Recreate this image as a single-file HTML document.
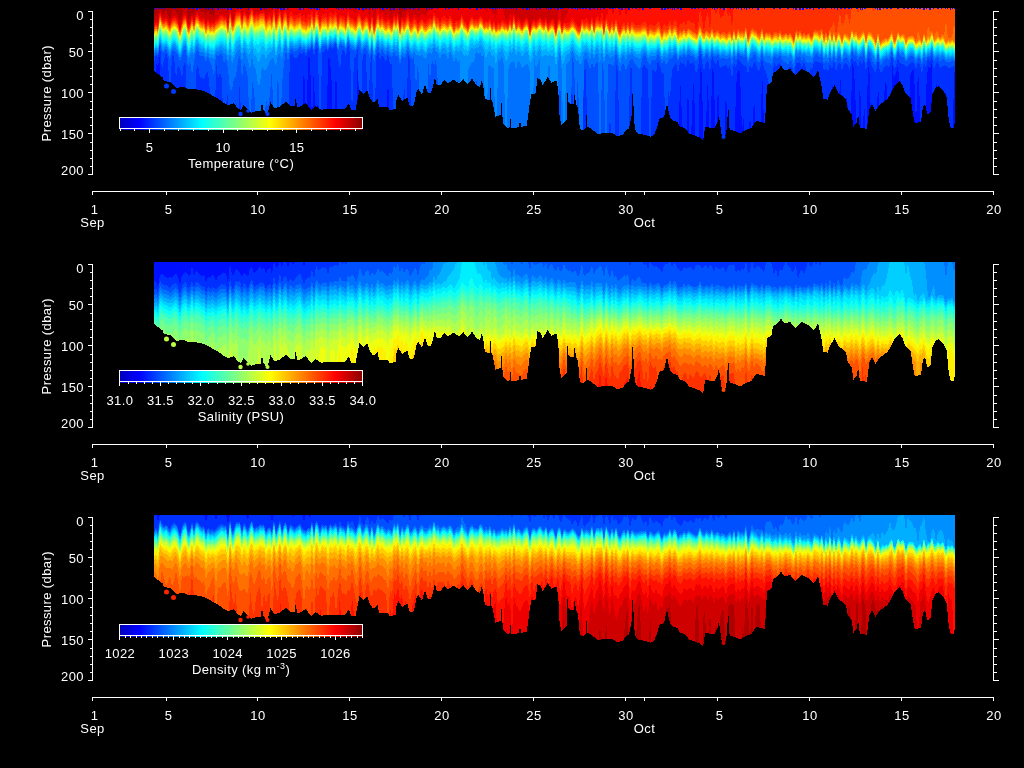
<!DOCTYPE html><html><head><meta charset="utf-8"><style>html,body{margin:0;padding:0;background:#000;width:1024px;height:768px;overflow:hidden}svg{display:block;will-change:transform}text{font-family:"Liberation Sans",sans-serif;fill:#fff;font-size:13px;letter-spacing:0.4px}</style></head><body>
<svg width="1024" height="768" viewBox="0 0 1024 768" shape-rendering="crispEdges">
<rect width="1024" height="768" fill="#000"/>
<defs><linearGradient id="jet" x1="0" x2="1" y1="0" y2="0"><stop offset="0" stop-color="#0000be"/><stop offset="0.08" stop-color="#0000ff"/><stop offset="0.34" stop-color="#00ffff"/><stop offset="0.62" stop-color="#ffff00"/><stop offset="0.89" stop-color="#ff0000"/><stop offset="1" stop-color="#8c0000"/></linearGradient>
</defs>
<defs><path id="mask" fill="#000" fill-rule="evenodd" d="M148 -2H962V202H148Z M153.5 8 L153.5 69.8 L155 71.7 L158.8 74.6 L162.7 77.6 L163.7 81 L170 82 L177.3 88.3 L182.2 86.4 L189 89.3 L195.9 89.3 L200.8 90.3 L204.7 91.3 L208.6 93.2 L213.5 96.1 L218.4 99 L224.2 103 L228 105 L234 103 L237 107.9 L240.8 109.8 L243.8 105 L247.7 108.8 L250.9 113 L256.7 111 L260.5 111 L262 102 L263.5 110 L267.5 115 L270.4 102 L274.3 108 L279 107 L286 102 L290.9 106 L294.5 106 L295.8 97.5 L297 107 L299.7 107 L305.5 103 L311.4 110 L315.3 106 L321.2 109.7 L329 109 L338.8 108.7 L344 109.4 L348.8 104 L351.7 110 L355.6 110 L357.6 100 L359.5 90.4 L363.4 94.3 L367.3 90.4 L369.3 97.2 L373.2 102.6 L377.6 99.2 L379 107 L386.9 106.5 L389.8 110 L395.7 109 L396.6 99.2 L398.6 95.3 L402.5 101 L407.4 97.2 L409.3 105 L412.3 106.5 L414.2 104 L416.2 93.3 L418.1 88.4 L422 94.3 L425 84.5 L427.9 93.3 L430.8 93.3 L432.8 87.5 L434.7 77.7 L437 85.5 L440.9 84.5 L444.8 79.6 L447.7 83.6 L453.6 79.6 L459.4 83.6 L463.3 78.7 L467.2 84.5 L472.1 78.7 L476 84.5 L479.9 87.5 L481.9 79.6 L483.8 89.4 L484.8 99.2 L488.7 99.7 L490 99.7 L490.7 83.6 L491.5 99.7 L492.6 102 L495.5 116.8 L498.5 115.8 L500.5 115 L501.4 101 L502.3 115 L503.4 123.6 L507.3 127.5 L509.5 127.5 L510.2 113.8 L511 127.5 L513.1 127.5 L517 127.5 L519.2 127 L520 116.8 L520.8 126.5 L522.9 126.5 L526.8 125.5 L529.7 104 L531.2 94.3 L535.9 93.4 L537.3 77.8 L540.7 79.8 L542.7 85.6 L547.6 76.8 L551.5 82.7 L556.4 80.7 L558.3 89.5 L559.3 114 L561.3 124.7 L566.1 120.8 L566.6 120 L567.1 87.6 L568 100 L569 103.2 L572 104.2 L574.2 104 L574.9 84.6 L575.7 104 L577.9 107.1 L579.8 128.6 L582.7 130.5 L585.8 128 L586.6 113 L587.4 127 L589.6 127.6 L593.5 130.5 L598.4 134.5 L604.2 132.5 L613 133.5 L617.9 136.4 L622.8 134.5 L627.7 128.6 L628.9 128.8 L631.8 114.2 L632.8 86 L633.8 114 L634.8 128.8 L637.7 133.7 L644.5 134.7 L650.4 136.6 L654.3 134.7 L657.2 126.9 L659.2 119 L664.1 117.1 L667 103.4 L669.9 117.1 L673.8 121 L677.7 122 L679.7 126.9 L684.6 127.9 L689.5 133.7 L695.3 135.7 L700.2 137.6 L703.1 140.5 L705.1 126.9 L710.9 127.9 L714.8 127.9 L718.3 120 L718.8 112 L719.5 120 L721.7 135.7 L725 137 L727 127.7 L728.2 102 L729.2 127 L730.6 130 L735.2 131.2 L740 133.5 L745.8 130 L751.7 127.7 L756.3 120.6 L764.5 123 L765.7 111.3 L766.9 85.5 L771.6 82 L772.8 73.8 L778.6 69 L781 65.5 L784.5 70.2 L790.3 69 L795 75 L802 69 L809.1 72.6 L813.8 77.3 L818.1 70.4 L821.2 84 L823.3 98.5 L827.5 99.6 L829.6 93.3 L834.8 85 L837.9 92.3 L846.2 99.6 L847.3 108 L851.5 114.2 L853.5 126.7 L856.7 122.5 L858.2 114 L859.8 127.7 L867 128.8 L869.2 110 L871.8 103.8 L875.4 111 L879.6 104.8 L887.9 98.5 L891 93.3 L895.2 85 L899.8 80.8 L903 86 L905.4 93.3 L910.6 98.5 L912.7 112 L914.8 123.5 L921 121.5 L923.1 105.8 L925.2 104.8 L927.3 114.2 L930.4 113 L932.5 94.4 L935.6 88 L938.8 86 L942.9 90.2 L947 97.5 L948 114 L950.2 126.7 L953.3 128.8 L955 122.5 L955 8 Z"/></defs>
<g transform="translate(0,0)" shape-rendering="crispEdges">
<rect x="150" y="0" width="810" height="200" fill="#0000ef"/>
<path fill="#0010ff" d="M151 0V180l3 0l2 0l2 0l2 0l2 0l2 0l2 0l2 0l2 0l2 0l2 0l2 0l2 0l2 0l2 0l2 0l2 0l2 0l2 0l2 0l2 0l2 0l2 0l2 0l2 0l2 0l2 0l2 0l2 0l2 0l2 0l2 0l2 0l2 0l2 0l2 0l2 0l2 0l2 0l2 0l2 0l2 0l2 0l2 0l2 0l2 0l2 0l2 0l2 0l2 0l2 0l2 0l2 0l2 0l2 0l2 0l2 0l2 0l2 0l2 0l2 0l2 0l2 0l2 0l2 0l2 0l2 0l2 0l2 0l2 0l2 0l2 0l2 0l2 0l2 0l2 -64l2 64l2 0l2 0l2 0l2 0l2 0l2 0l2 0l2 0l2 0l2 0l2 0l2 0l2 0l2 0l2 0l2 0l2 0l2 0l2 0l2 0l2 0l2 0l2 0l2 0l2 0l2 0l2 0l2 0l2 0l2 0l2 0l2 0l2 0l2 0l2 0l2 0l2 0l2 0l2 0l2 0l2 0l2 0l2 0l2 0l2 0l2 0l2 0l2 0l2 0l2 0l2 0l2 0l2 0l2 0l2 0l2 0l2 0l2 0l2 0l2 0l2 0l2 0l2 0l2 0l2 0l2 0l2 0l2 0l2 0l2 0l2 0l2 0l2 0l2 0l2 0l2 0l2 0l2 0l2 0l2 0l2 0l2 0l2 0l2 0l2 0l2 0l2 0l2 0l2 0l2 0l2 0l2 0l2 0l2 0l2 0l2 0l2 0l2 0l2 0l2 0l2 0l2 0l2 0l2 0l2 0l2 0l2 0l2 0l2 0l2 0l2 0l2 0l2 0l2 0l2 0l2 0l2 0l2 0l2 0l2 0l2 0l2 0l2 0l2 0l2 0l2 0l2 0l2 0l2 0l2 0l2 0l2 0l2 0l2 0l2 0l2 0l2 0l2 0l2 0l2 0l2 0l2 0l2 0l2 0l2 0l2 0l2 0l2 0l2 0l2 0l2 0l2 0l2 0l2 0l2 0l2 0l2 0l2 0l2 0l2 0l2 0l2 0l2 0l2 0l2 0l2 0l2 0l2 0l2 0l2 0l2 0l2 0l2 0l2 0l2 0l2 0l2 0l2 0l2 0l2 0l2 0l2 0l2 0l2 0l2 0l2 0l2 0l2 0l2 0l2 0l2 0l2 0l2 0l2 0l2 0l2 0l2 0l2 0l2 0l2 0l2 0l2 0l2 0l2 0l2 0l2 0l2 0l2 0l2 0l2 0l2 0l2 0l2 0l2 0l2 0l2 0l2 0l2 0l2 0l2 0l2 0l2 0l2 0l2 0l2 0l2 0l2 0l2 0l2 0l2 0l2 0l2 0l2 0l2 0l2 0l2 0l2 0l2 0l2 0l2 0l2 0l2 0l2 0l2 0l2 0l2 0l2 0l2 0l2 0l2 0l2 0l2 0l2 0l2 0l2 0l2 0l2 0l2 0l2 0l2 0l2 0l2 0l2 0l2 0l2 0l2 0l2 0l2 0l2 0l2 0l2 0l2 0l2 0l2 0l2 0l2 0l2 -32l2 32l2 0l2 0l2 0l2 0l2 0l2 0l2 0l2 0l2 0l2 0l2 0l2 0l2 0l2 0l2 -32l2 32l2 0l2 0l2 0l2 0l2 0l2 0l2 0l2 0l2 0l2 0l2 0l2 -56l2 56l2 0l2 0l2 0l2 -32l2 32l2 0l2 0l2 0l2 0l2 0l2 0l2 0l2 -20l2 20l2 0l2 0l2 0l2 0H959 V0 Z"/>
<path fill="#0030ff" d="M151 0V180l3 0l2 -116l2 2l2 -12l2 126l2 0l2 -81l2 81l2 0l2 -45l2 45l2 0l2 0l2 0l2 0l2 0l2 0l2 0l2 0l2 0l2 0l2 0l2 0l2 0l2 0l2 0l2 0l2 0l2 0l2 0l2 0l2 -70l2 70l2 0l2 0l2 0l2 0l2 0l2 0l2 0l2 0l2 0l2 0l2 0l2 0l2 0l2 0l2 0l2 0l2 0l2 0l2 0l2 0l2 0l2 0l2 0l2 0l2 0l2 0l2 0l2 0l2 0l2 0l2 0l2 0l2 0l2 0l2 0l2 0l2 -92l2 92l2 0l2 0l2 0l2 -42l2 -83l2 93l2 -91l2 1l2 65l2 -61l2 118l2 -100l2 100l2 0l2 0l2 -12l2 -110l2 2l2 27l2 93l2 -131l2 131l2 0l2 -14l2 14l2 0l2 -56l2 56l2 0l2 0l2 -60l2 -66l2 126l2 0l2 -107l2 107l2 0l2 0l2 -92l2 92l2 0l2 0l2 0l2 0l2 0l2 0l2 -121l2 121l2 0l2 0l2 0l2 0l2 0l2 0l2 0l2 0l2 0l2 -1l2 1l2 0l2 0l2 0l2 0l2 0l2 0l2 0l2 0l2 0l2 0l2 0l2 0l2 0l2 0l2 0l2 0l2 0l2 0l2 0l2 0l2 0l2 0l2 0l2 0l2 0l2 0l2 0l2 0l2 0l2 0l2 0l2 0l2 0l2 0l2 0l2 0l2 0l2 0l2 0l2 0l2 0l2 0l2 0l2 0l2 0l2 0l2 0l2 0l2 0l2 0l2 0l2 0l2 0l2 0l2 0l2 0l2 0l2 0l2 0l2 0l2 0l2 0l2 0l2 0l2 0l2 0l2 0l2 0l2 0l2 0l2 0l2 0l2 0l2 0l2 0l2 0l2 0l2 0l2 0l2 0l2 0l2 0l2 0l2 0l2 0l2 0l2 0l2 0l2 0l2 0l2 0l2 0l2 0l2 0l2 0l2 0l2 0l2 0l2 0l2 0l2 0l2 0l2 0l2 0l2 0l2 0l2 0l2 0l2 0l2 0l2 0l2 0l2 0l2 0l2 0l2 0l2 0l2 0l2 0l2 0l2 0l2 0l2 -34l2 34l2 0l2 0l2 0l2 0l2 0l2 0l2 0l2 0l2 0l2 -105l2 42l2 37l2 26l2 -108l2 108l2 -72l2 -32l2 104l2 0l2 -114l2 8l2 106l2 -56l2 -52l2 108l2 -112l2 5l2 107l2 -110l2 98l2 12l2 -2l2 -102l2 104l2 0l2 0l2 -8l2 -86l2 -17l2 3l2 58l2 -14l2 64l2 0l2 -78l2 78l2 -96l2 82l2 14l2 0l2 -114l2 59l2 55l2 0l2 0l2 0l2 -110l2 83l2 -81l2 40l2 46l2 22l2 0l2 0l2 0l2 -23l2 23l2 0l2 -110l2 34l2 66l2 -101l2 99l2 12l2 -13l2 -1l2 -18l2 -76l2 38l2 -38l2 70l2 -20l2 58l2 0l2 0l2 -104l2 39l2 45l2 -1l2 -91l2 48l2 43l2 -65l2 15l2 71l2 -118l2 7l2 41l2 52l2 -95l2 113l2 -85l2 57l2 -88l2 12l2 104l2 0l2 -24l2 -78l2 55l2 47l2 -84l2 -19l2 33l2 67l2 -115l2 17l2 -6l2 -8l2 29l2 78l2 -14l2 -84l2 94l2 -91l2 -7l2 0l2 56l2 -58l2 37l2 75l2 0l2 -90l2 -24l2 3l2 -6l2 117l2 -110l2 56l2 54l2 0l2 -25l2 -83l2 108l2 -13l2 13l2 -108l2 2H959 V0 Z"/>
<path fill="#0050ff" d="M151 0V64l3 0l2 -10l2 4l2 -14l2 26l2 -10l2 -8l2 8l2 44l2 -50l2 3l2 21l2 -13l2 4l2 9l2 -16l2 4l2 114l2 -50l2 50l2 -24l2 -85l2 -7l2 14l2 -1l2 3l2 -7l2 -1l2 20l2 88l2 0l2 -120l2 19l2 -7l2 6l2 76l2 -48l2 -14l2 88l2 0l2 0l2 0l2 -61l2 -42l2 103l2 -68l2 14l2 54l2 0l2 0l2 0l2 0l2 0l2 0l2 0l2 0l2 0l2 0l2 0l2 -58l2 58l2 0l2 -18l2 18l2 0l2 0l2 -80l2 22l2 -66l2 -3l2 5l2 0l2 -2l2 -4l2 3l2 -4l2 6l2 -7l2 2l2 -6l2 10l2 -9l2 1l2 102l2 -98l2 0l2 -4l2 4l2 -6l2 3l2 -1l2 -5l2 15l2 12l2 -20l2 0l2 6l2 -12l2 9l2 63l2 -58l2 -2l2 -9l2 133l2 -118l2 -9l2 2l2 67l2 -56l2 -16l2 130l2 -122l2 -7l2 9l2 -5l2 3l2 4l2 -8l2 10l2 0l2 94l2 1l2 21l2 0l2 0l2 -113l2 84l2 -97l2 7l2 73l2 1l2 45l2 -115l2 115l2 0l2 0l2 0l2 0l2 0l2 0l2 0l2 0l2 0l2 0l2 0l2 0l2 0l2 0l2 0l2 0l2 0l2 0l2 0l2 0l2 0l2 0l2 0l2 0l2 0l2 0l2 0l2 0l2 0l2 0l2 0l2 0l2 0l2 0l2 0l2 0l2 0l2 0l2 0l2 0l2 0l2 0l2 0l2 0l2 0l2 0l2 0l2 0l2 0l2 0l2 0l2 0l2 0l2 0l2 0l2 0l2 0l2 0l2 0l2 0l2 0l2 0l2 0l2 0l2 0l2 0l2 0l2 0l2 0l2 0l2 0l2 0l2 0l2 0l2 0l2 -114l2 114l2 0l2 0l2 0l2 0l2 -110l2 -2l2 112l2 0l2 0l2 0l2 0l2 0l2 0l2 0l2 0l2 0l2 0l2 -76l2 76l2 0l2 -118l2 10l2 108l2 0l2 0l2 0l2 0l2 -112l2 0l2 96l2 16l2 0l2 0l2 -110l2 -6l2 4l2 2l2 110l2 -110l2 0l2 3l2 -13l2 6l2 8l2 -2l2 98l2 -80l2 8l2 -28l2 -4l2 -4l2 12l2 -12l2 2l2 -2l2 6l2 -10l2 6l2 -1l2 -1l2 12l2 -6l2 -16l2 9l2 10l2 -9l2 -2l2 12l2 -16l2 5l2 4l2 -7l2 10l2 -2l2 0l2 -2l2 5l2 -4l2 14l2 -17l2 6l2 -10l2 4l2 2l2 2l2 -2l2 10l2 -9l2 4l2 -7l2 2l2 7l2 -1l2 -12l2 10l2 4l2 8l2 11l2 -9l2 -20l2 4l2 -2l2 -2l2 6l2 2l2 30l2 -28l2 -6l2 3l2 8l2 -14l2 0l2 -1l2 6l2 -6l2 6l2 24l2 -24l2 2l2 -8l2 -1l2 1l2 2l2 -3l2 10l2 -3l2 4l2 -9l2 6l2 -9l2 12l2 -8l2 -2l2 9l2 -7l2 -1l2 3l2 4l2 -14l2 6l2 -1l2 7l2 -8l2 5l2 -7l2 14l2 -14l2 2l2 6l2 4l2 3l2 -14l2 13l2 0l2 -5l2 -2l2 2l2 -1l2 -12l2 14l2 -2l2 -8l2 5l2 1l2 0l2 3l2 -1l2 -3l2 -1l2 1l2 7l2 -8l2 3l2 9l2 -11l2 5l2 -10l2 4l2 -6l2 14l2 -7l2 -1l2 7l2 -3l2 0l2 -1l2 3l2 0l2 -1l2 -1l2 0H959 V0 Z"/>
<path fill="#0070ff" d="M151 0V58l3 0l2 -6l2 4l2 -14l2 10l2 0l2 -4l2 6l2 6l2 -10l2 0l2 3l2 2l2 7l2 -6l2 -6l2 0l2 18l2 -8l2 15l2 -13l2 -11l2 -1l2 6l2 0l2 0l2 6l2 -6l2 6l2 4l2 10l2 -21l2 2l2 -3l2 0l2 9l2 -5l2 10l2 22l2 0l2 -12l2 -2l2 -15l2 -7l2 25l2 -17l2 6l2 10l2 74l2 -71l2 9l2 29l2 61l2 0l2 -82l2 38l2 -38l2 10l2 -14l2 -26l2 81l2 -17l2 -68l2 78l2 -58l2 -21l2 -13l2 12l2 -12l2 -2l2 4l2 -1l2 -1l2 -4l2 5l2 -3l2 5l2 -5l2 2l2 -8l2 10l2 -10l2 2l2 12l2 -10l2 0l2 -2l2 6l2 -7l2 3l2 -2l2 -3l2 11l2 -8l2 2l2 0l2 5l2 -11l2 7l2 3l2 0l2 1l2 -7l2 4l2 6l2 -6l2 0l2 4l2 6l2 -13l2 19l2 -12l2 -7l2 9l2 -5l2 4l2 3l2 -6l2 6l2 2l2 -6l2 5l2 -3l2 12l2 -10l2 2l2 -2l2 -6l2 6l2 4l2 -4l2 31l2 -27l2 48l2 26l2 -36l2 82l2 -122l2 22l2 -21l2 7l2 -8l2 26l2 96l2 -60l2 8l2 -58l2 110l2 -111l2 105l2 6l2 -24l2 24l2 0l2 0l2 0l2 0l2 0l2 0l2 0l2 0l2 -112l2 50l2 62l2 0l2 -110l2 110l2 0l2 0l2 0l2 0l2 0l2 -27l2 27l2 0l2 0l2 0l2 0l2 0l2 0l2 0l2 0l2 0l2 0l2 0l2 0l2 0l2 0l2 0l2 0l2 -26l2 26l2 0l2 0l2 0l2 0l2 0l2 0l2 0l2 0l2 0l2 0l2 0l2 -120l2 120l2 0l2 0l2 0l2 0l2 -124l2 8l2 54l2 -48l2 110l2 0l2 -120l2 -2l2 5l2 7l2 -8l2 7l2 -7l2 1l2 117l2 -120l2 13l2 107l2 -116l2 0l2 1l2 1l2 -14l2 11l2 10l2 -9l2 0l2 7l2 -6l2 -5l2 -2l2 4l2 3l2 3l2 2l2 -11l2 -4l2 1l2 6l2 4l2 -6l2 0l2 0l2 -6l2 4l2 6l2 -4l2 5l2 -3l2 -4l2 1l2 -4l2 -1l2 8l2 -6l2 2l2 -4l2 4l2 -4l2 2l2 0l2 1l2 4l2 -3l2 -9l2 7l2 4l2 -6l2 2l2 4l2 -9l2 6l2 -1l2 -2l2 5l2 -1l2 0l2 1l2 0l2 -3l2 10l2 -12l2 7l2 -9l2 4l2 0l2 2l2 -4l2 11l2 -7l2 0l2 -4l2 2l2 6l2 0l2 -11l2 10l2 1l2 1l2 0l2 3l2 -10l2 2l2 0l2 -3l2 5l2 2l2 0l2 3l2 -5l2 2l2 8l2 -14l2 1l2 -2l2 7l2 -6l2 6l2 1l2 -1l2 2l2 -8l2 -2l2 2l2 2l2 -4l2 10l2 -4l2 4l2 -8l2 6l2 -8l2 10l2 -8l2 -2l2 10l2 -6l2 -2l2 3l2 4l2 -14l2 7l2 -2l2 6l2 -4l2 2l2 -6l2 14l2 -14l2 1l2 7l2 3l2 3l2 -14l2 13l2 -1l2 -4l2 -2l2 2l2 -2l2 -8l2 11l2 -2l2 -8l2 5l2 1l2 0l2 5l2 -3l2 -3l2 0l2 2l2 6l2 -6l2 0l2 8l2 -10l2 6l2 -7l2 3l2 -7l2 11l2 -4l2 -2l2 6l2 -3l2 0l2 3l2 0l2 0l2 -2l2 1l2 0H959 V0 Z"/>
<path fill="#008fff" d="M151 0V55l3 0l2 -6l2 4l2 -13l2 10l2 0l2 -4l2 4l2 6l2 -8l2 -1l2 2l2 3l2 7l2 -7l2 -6l2 0l2 13l2 -3l2 -4l2 4l2 -10l2 0l2 6l2 0l2 0l2 6l2 -6l2 6l2 -1l2 3l2 -9l2 2l2 -3l2 0l2 4l2 -2l2 10l2 -9l2 11l2 -5l2 -5l2 -4l2 -2l2 14l2 -12l2 4l2 6l2 10l2 -14l2 10l2 4l2 15l2 -1l2 -18l2 4l2 0l2 -4l2 -5l2 -3l2 2l2 6l2 -12l2 0l2 6l2 -10l2 -6l2 12l2 -10l2 0l2 3l2 -1l2 0l2 -4l2 4l2 -2l2 4l2 -4l2 2l2 -8l2 10l2 -10l2 2l2 10l2 -8l2 0l2 -2l2 6l2 -7l2 3l2 -2l2 -2l2 10l2 -8l2 2l2 0l2 5l2 -11l2 7l2 1l2 2l2 1l2 -7l2 0l2 8l2 -4l2 -2l2 3l2 7l2 -12l2 16l2 -10l2 -6l2 8l2 -4l2 3l2 3l2 -6l2 6l2 2l2 -6l2 4l2 -4l2 14l2 -10l2 2l2 -2l2 -7l2 7l2 3l2 -4l2 4l2 0l2 1l2 -2l2 4l2 2l2 -8l2 1l2 1l2 -8l2 6l2 0l2 8l2 -6l2 0l2 0l2 7l2 -11l2 6l2 7l2 -7l2 7l2 -4l2 121l2 0l2 -36l2 -74l2 -4l2 -4l2 0l2 -11l2 3l2 -2l2 5l2 -3l2 126l2 -114l2 -1l2 3l2 0l2 112l2 -122l2 4l2 -6l2 9l2 115l2 -109l2 -8l2 -1l2 -2l2 10l2 -9l2 1l2 7l2 -3l2 -2l2 0l2 8l2 108l2 -124l2 13l2 -7l2 -4l2 81l2 -74l2 75l2 -74l2 0l2 114l2 -119l2 97l2 -94l2 -14l2 24l2 106l2 -116l2 -2l2 -2l2 -10l2 4l2 7l2 -1l2 5l2 -3l2 -8l2 -3l2 3l2 6l2 -8l2 8l2 -7l2 1l2 10l2 -14l2 14l2 -10l2 0l2 4l2 -2l2 2l2 -10l2 8l2 8l2 -8l2 -1l2 6l2 -7l2 2l2 -4l2 4l2 1l2 1l2 2l2 -6l2 -2l2 0l2 6l2 -2l2 0l2 0l2 0l2 -6l2 4l2 6l2 -4l2 2l2 -2l2 -4l2 4l2 -4l2 -2l2 10l2 -6l2 1l2 -3l2 4l2 -6l2 2l2 2l2 0l2 4l2 -3l2 -9l2 7l2 4l2 -5l2 0l2 5l2 -9l2 6l2 0l2 -2l2 4l2 -2l2 1l2 1l2 0l2 -3l2 7l2 -10l2 8l2 -8l2 4l2 0l2 2l2 -8l2 14l2 -7l2 -3l2 0l2 0l2 5l2 1l2 -9l2 9l2 -3l2 1l2 0l2 4l2 -6l2 0l2 2l2 -4l2 4l2 0l2 0l2 2l2 -4l2 3l2 6l2 -13l2 5l2 -4l2 5l2 -3l2 3l2 0l2 0l2 3l2 -8l2 1l2 0l2 3l2 -5l2 10l2 -6l2 5l2 -9l2 10l2 -10l2 10l2 -8l2 0l2 9l2 -9l2 1l2 3l2 2l2 -11l2 7l2 -4l2 6l2 -2l2 -2l2 -3l2 13l2 -12l2 1l2 3l2 3l2 5l2 -12l2 12l2 -3l2 -1l2 -2l2 2l2 -4l2 -5l2 11l2 -3l2 -8l2 5l2 -2l2 2l2 6l2 -4l2 -2l2 0l2 2l2 4l2 -4l2 0l2 6l2 -10l2 6l2 -4l2 1l2 -7l2 10l2 -2l2 -2l2 4l2 -3l2 1l2 4l2 -2l2 1l2 -1l2 2l2 -1H959 V0 Z"/>
<path fill="#00afff" d="M151 0V52l3 0l2 -5l2 4l2 -13l2 8l2 1l2 -3l2 4l2 4l2 -7l2 -1l2 2l2 4l2 6l2 -7l2 -5l2 -1l2 13l2 -4l2 -5l2 7l2 -10l2 -1l2 5l2 1l2 -1l2 6l2 -6l2 6l2 0l2 2l2 -8l2 1l2 -3l2 0l2 3l2 -2l2 11l2 -12l2 12l2 -4l2 -6l2 -3l2 -2l2 13l2 -10l2 3l2 5l2 0l2 -7l2 9l2 -1l2 7l2 -2l2 -6l2 0l2 5l2 -5l2 -2l2 0l2 -6l2 12l2 -10l2 -4l2 11l2 -9l2 -5l2 11l2 -9l2 0l2 3l2 -1l2 0l2 -3l2 4l2 -2l2 4l2 -4l2 2l2 -8l2 10l2 -11l2 3l2 10l2 -8l2 0l2 -2l2 6l2 -7l2 3l2 -2l2 -2l2 10l2 -8l2 2l2 0l2 5l2 -11l2 7l2 1l2 2l2 1l2 -7l2 0l2 8l2 -4l2 -2l2 2l2 8l2 -12l2 15l2 -9l2 -7l2 8l2 -4l2 3l2 3l2 -5l2 4l2 3l2 -7l2 4l2 -4l2 14l2 -10l2 2l2 -2l2 -6l2 8l2 2l2 -4l2 2l2 2l2 -1l2 -3l2 4l2 2l2 -6l2 0l2 2l2 -8l2 6l2 -1l2 7l2 -6l2 0l2 1l2 5l2 -9l2 5l2 6l2 -6l2 2l2 -2l2 2l2 4l2 -1l2 1l2 -6l2 -3l2 3l2 -3l2 1l2 -3l2 1l2 4l2 9l2 -6l2 -3l2 6l2 -2l2 12l2 -15l2 2l2 -5l2 6l2 8l2 -4l2 -8l2 4l2 -8l2 11l2 -6l2 1l2 5l2 -3l2 -3l2 1l2 10l2 -1l2 -12l2 8l2 -5l2 -4l2 10l2 -3l2 0l2 1l2 -2l2 3l2 -4l2 15l2 -15l2 -6l2 17l2 -2l2 -7l2 -1l2 -1l2 -7l2 4l2 4l2 2l2 2l2 -6l2 -2l2 -2l2 2l2 4l2 -8l2 10l2 -8l2 0l2 7l2 -9l2 14l2 -13l2 4l2 3l2 -4l2 4l2 -10l2 10l2 5l2 -6l2 -2l2 5l2 -6l2 4l2 -6l2 4l2 2l2 0l2 0l2 -4l2 -1l2 1l2 5l2 -2l2 -1l2 1l2 -1l2 -4l2 3l2 7l2 -6l2 2l2 0l2 -6l2 5l2 -5l2 0l2 8l2 -5l2 1l2 -4l2 5l2 -5l2 2l2 1l2 1l2 3l2 -3l2 -8l2 6l2 4l2 -5l2 1l2 4l2 -8l2 6l2 -1l2 -2l2 5l2 -2l2 0l2 2l2 0l2 -4l2 8l2 -10l2 8l2 -8l2 4l2 0l2 1l2 -7l2 14l2 -7l2 -4l2 1l2 0l2 4l2 1l2 -8l2 9l2 -4l2 2l2 -1l2 4l2 -5l2 0l2 2l2 -4l2 4l2 0l2 -2l2 4l2 -4l2 3l2 5l2 -12l2 5l2 -4l2 5l2 -3l2 3l2 -2l2 2l2 3l2 -8l2 1l2 0l2 4l2 -6l2 10l2 -6l2 6l2 -10l2 10l2 -10l2 10l2 -8l2 0l2 9l2 -8l2 0l2 3l2 2l2 -11l2 7l2 -4l2 6l2 -2l2 -2l2 -3l2 13l2 -12l2 1l2 3l2 3l2 5l2 -12l2 12l2 -3l2 -1l2 -2l2 2l2 -4l2 -5l2 11l2 -3l2 -8l2 5l2 -1l2 1l2 7l2 -5l2 -2l2 0l2 2l2 4l2 -4l2 0l2 6l2 -10l2 7l2 -5l2 1l2 -6l2 9l2 -2l2 -2l2 4l2 -3l2 1l2 4l2 -2l2 1l2 -1l2 2l2 -1H959 V0 Z"/>
<path fill="#00cfff" d="M151 0V50l3 0l2 -5l2 4l2 -13l2 8l2 0l2 -2l2 4l2 4l2 -7l2 -1l2 2l2 3l2 7l2 -8l2 -5l2 0l2 12l2 -3l2 -6l2 6l2 -10l2 0l2 5l2 1l2 0l2 6l2 -6l2 4l2 0l2 2l2 -6l2 0l2 -2l2 -1l2 3l2 -2l2 10l2 -14l2 13l2 -3l2 -8l2 -1l2 -1l2 10l2 -9l2 3l2 5l2 -2l2 -6l2 8l2 -1l2 6l2 -3l2 -5l2 0l2 6l2 -4l2 -2l2 3l2 -9l2 14l2 -9l2 -5l2 11l2 -9l2 -4l2 12l2 -9l2 0l2 3l2 -1l2 -1l2 -3l2 5l2 -1l2 3l2 -4l2 2l2 -8l2 10l2 -11l2 3l2 10l2 -8l2 0l2 -2l2 6l2 -6l2 2l2 -1l2 -3l2 10l2 -7l2 1l2 0l2 6l2 -12l2 8l2 0l2 2l2 1l2 -7l2 0l2 7l2 -3l2 -2l2 2l2 8l2 -12l2 14l2 -8l2 -7l2 7l2 -4l2 4l2 3l2 -5l2 4l2 2l2 -7l2 5l2 -5l2 14l2 -10l2 3l2 -3l2 -5l2 8l2 0l2 -4l2 2l2 4l2 -2l2 -3l2 5l2 1l2 -5l2 -2l2 2l2 -8l2 8l2 -2l2 6l2 -5l2 -1l2 2l2 3l2 -7l2 4l2 6l2 -6l2 2l2 -2l2 -3l2 7l2 -1l2 3l2 -7l2 -3l2 4l2 -3l2 1l2 -4l2 2l2 4l2 4l2 -2l2 -4l2 7l2 -3l2 7l2 -8l2 2l2 -5l2 5l2 3l2 0l2 -7l2 5l2 -8l2 10l2 -6l2 2l2 4l2 -3l2 -3l2 2l2 9l2 -5l2 -7l2 7l2 -4l2 -4l2 7l2 -1l2 -2l2 4l2 -2l2 0l2 -1l2 11l2 -12l2 -4l2 14l2 -6l2 -1l2 -1l2 -1l2 -6l2 3l2 4l2 2l2 2l2 -7l2 -1l2 -2l2 3l2 4l2 -9l2 10l2 -7l2 0l2 5l2 -7l2 13l2 -13l2 5l2 3l2 -5l2 5l2 -9l2 8l2 6l2 -6l2 -2l2 5l2 -7l2 4l2 -4l2 4l2 1l2 0l2 1l2 -4l2 -2l2 1l2 5l2 -2l2 0l2 0l2 0l2 -4l2 3l2 7l2 -6l2 2l2 -2l2 -4l2 4l2 -4l2 0l2 8l2 -5l2 1l2 -4l2 5l2 -5l2 2l2 1l2 1l2 2l2 -2l2 -8l2 6l2 4l2 -4l2 0l2 4l2 -8l2 6l2 -1l2 -1l2 4l2 -2l2 0l2 2l2 0l2 -4l2 8l2 -10l2 8l2 -8l2 4l2 0l2 1l2 -7l2 14l2 -7l2 -5l2 2l2 0l2 4l2 1l2 -8l2 9l2 -4l2 2l2 -1l2 4l2 -5l2 0l2 2l2 -4l2 4l2 0l2 -2l2 4l2 -4l2 4l2 4l2 -11l2 4l2 -3l2 4l2 -2l2 3l2 -3l2 2l2 3l2 -8l2 1l2 0l2 4l2 -6l2 10l2 -6l2 6l2 -10l2 10l2 -10l2 10l2 -8l2 0l2 9l2 -8l2 0l2 3l2 2l2 -11l2 7l2 -3l2 5l2 -2l2 -2l2 -3l2 13l2 -12l2 2l2 2l2 3l2 5l2 -12l2 12l2 -2l2 -2l2 -2l2 2l2 -4l2 -4l2 10l2 -3l2 -8l2 5l2 -1l2 1l2 7l2 -5l2 -2l2 0l2 2l2 5l2 -4l2 -1l2 6l2 -10l2 7l2 -5l2 2l2 -7l2 9l2 -2l2 -2l2 4l2 -3l2 1l2 4l2 -2l2 2l2 -2l2 2l2 0H959 V0 Z"/>
<path fill="#00efff" d="M151 0V49l3 0l2 -5l2 4l2 -14l2 8l2 1l2 -3l2 4l2 4l2 -7l2 -1l2 2l2 3l2 7l2 -8l2 -5l2 -1l2 12l2 -2l2 -8l2 8l2 -10l2 0l2 5l2 1l2 -1l2 7l2 -6l2 4l2 0l2 2l2 -6l2 0l2 -3l2 0l2 2l2 -2l2 11l2 -15l2 13l2 -4l2 -6l2 -2l2 -1l2 11l2 -10l2 4l2 4l2 -4l2 -5l2 9l2 -2l2 2l2 -3l2 -1l2 0l2 7l2 -5l2 -1l2 3l2 -9l2 13l2 -8l2 -5l2 11l2 -8l2 -4l2 12l2 -9l2 0l2 3l2 -1l2 -1l2 -3l2 5l2 -1l2 3l2 -4l2 2l2 -8l2 11l2 -11l2 2l2 10l2 -8l2 1l2 -3l2 6l2 -6l2 2l2 0l2 -4l2 10l2 -7l2 2l2 0l2 5l2 -11l2 7l2 0l2 2l2 2l2 -8l2 0l2 7l2 -3l2 -2l2 2l2 8l2 -12l2 14l2 -8l2 -8l2 8l2 -4l2 4l2 2l2 -4l2 4l2 2l2 -8l2 5l2 -5l2 14l2 -10l2 4l2 -4l2 -4l2 7l2 1l2 -4l2 2l2 3l2 -2l2 -3l2 4l2 2l2 -5l2 -1l2 2l2 -8l2 6l2 -1l2 6l2 -5l2 0l2 1l2 3l2 -7l2 4l2 5l2 -4l2 1l2 -2l2 -5l2 7l2 0l2 3l2 -8l2 -2l2 4l2 -2l2 2l2 -5l2 1l2 4l2 2l2 0l2 -4l2 7l2 -4l2 7l2 -6l2 1l2 -4l2 4l2 1l2 2l2 -8l2 6l2 -9l2 11l2 -6l2 2l2 4l2 -4l2 -2l2 1l2 9l2 -5l2 -6l2 6l2 -3l2 -4l2 6l2 0l2 -3l2 5l2 -2l2 -1l2 0l2 11l2 -12l2 -4l2 14l2 -6l2 -1l2 -1l2 -1l2 -5l2 2l2 4l2 2l2 2l2 -8l2 2l2 -2l2 2l2 3l2 -9l2 11l2 -7l2 0l2 4l2 -6l2 12l2 -12l2 4l2 4l2 -5l2 5l2 -9l2 9l2 5l2 -6l2 -3l2 6l2 -6l2 4l2 -5l2 4l2 1l2 0l2 0l2 -2l2 -2l2 0l2 6l2 -2l2 0l2 0l2 0l2 -4l2 2l2 7l2 -5l2 2l2 -2l2 -4l2 4l2 -4l2 0l2 8l2 -5l2 1l2 -4l2 5l2 -5l2 2l2 2l2 0l2 3l2 -3l2 -8l2 7l2 3l2 -4l2 0l2 4l2 -8l2 6l2 -1l2 -1l2 4l2 -2l2 1l2 1l2 0l2 -4l2 8l2 -10l2 8l2 -8l2 4l2 0l2 2l2 -8l2 14l2 -7l2 -5l2 2l2 0l2 4l2 1l2 -7l2 8l2 -4l2 2l2 -1l2 4l2 -5l2 0l2 2l2 -4l2 4l2 0l2 -2l2 4l2 -4l2 4l2 5l2 -12l2 5l2 -4l2 4l2 -2l2 3l2 -3l2 2l2 4l2 -8l2 0l2 0l2 4l2 -6l2 11l2 -7l2 6l2 -10l2 10l2 -10l2 10l2 -8l2 1l2 9l2 -9l2 1l2 2l2 2l2 -10l2 6l2 -3l2 5l2 -1l2 -3l2 -2l2 12l2 -11l2 1l2 2l2 4l2 4l2 -12l2 12l2 -2l2 -2l2 -2l2 2l2 -4l2 -4l2 10l2 -2l2 -8l2 4l2 -1l2 1l2 8l2 -6l2 -2l2 0l2 2l2 5l2 -4l2 -1l2 6l2 -10l2 8l2 -6l2 2l2 -6l2 9l2 -3l2 -2l2 4l2 -2l2 1l2 4l2 -3l2 2l2 -2l2 2l2 0H959 V0 Z"/>
<path fill="#10ffef" d="M151 0V47l3 0l2 -5l2 4l2 -14l2 8l2 1l2 -3l2 4l2 4l2 -7l2 -1l2 2l2 3l2 7l2 -8l2 -5l2 -1l2 12l2 -2l2 -8l2 8l2 -10l2 0l2 4l2 2l2 -2l2 8l2 -6l2 4l2 -1l2 3l2 -7l2 0l2 -3l2 0l2 2l2 -2l2 11l2 -15l2 13l2 -3l2 -7l2 -1l2 -2l2 12l2 -10l2 4l2 4l2 -4l2 -6l2 8l2 -1l2 3l2 -4l2 -1l2 0l2 7l2 -4l2 -2l2 4l2 -10l2 14l2 -8l2 -6l2 12l2 -9l2 -3l2 11l2 -8l2 0l2 3l2 -1l2 -1l2 -2l2 4l2 0l2 2l2 -4l2 2l2 -8l2 11l2 -11l2 3l2 9l2 -8l2 1l2 -2l2 6l2 -7l2 3l2 -1l2 -3l2 9l2 -6l2 2l2 0l2 4l2 -10l2 6l2 0l2 2l2 2l2 -7l2 -1l2 8l2 -3l2 -3l2 2l2 8l2 -12l2 14l2 -8l2 -7l2 7l2 -4l2 4l2 2l2 -4l2 4l2 2l2 -8l2 4l2 -4l2 14l2 -10l2 3l2 -3l2 -5l2 8l2 1l2 -4l2 1l2 4l2 -3l2 -2l2 4l2 1l2 -5l2 -1l2 2l2 -8l2 7l2 -2l2 6l2 -4l2 -2l2 2l2 2l2 -6l2 4l2 6l2 -5l2 1l2 -2l2 -5l2 7l2 0l2 4l2 -8l2 -2l2 4l2 -2l2 2l2 -5l2 1l2 4l2 1l2 1l2 -4l2 6l2 -4l2 6l2 -4l2 1l2 -4l2 3l2 0l2 3l2 -7l2 6l2 -10l2 10l2 -4l2 2l2 3l2 -3l2 -3l2 1l2 10l2 -8l2 -3l2 5l2 -4l2 -2l2 4l2 2l2 -5l2 7l2 -4l2 -1l2 1l2 10l2 -12l2 -2l2 12l2 -6l2 0l2 0l2 -2l2 -4l2 2l2 4l2 2l2 2l2 -9l2 3l2 -2l2 2l2 2l2 -8l2 11l2 -7l2 0l2 3l2 -5l2 12l2 -13l2 5l2 4l2 -6l2 6l2 -9l2 9l2 4l2 -6l2 -2l2 5l2 -6l2 5l2 -5l2 4l2 1l2 0l2 0l2 -2l2 -2l2 0l2 6l2 -3l2 1l2 0l2 0l2 -4l2 3l2 6l2 -5l2 2l2 -2l2 -5l2 5l2 -4l2 0l2 8l2 -4l2 0l2 -3l2 4l2 -5l2 2l2 2l2 0l2 3l2 -3l2 -8l2 7l2 3l2 -4l2 0l2 4l2 -7l2 6l2 -1l2 -2l2 4l2 -2l2 1l2 2l2 -1l2 -3l2 7l2 -10l2 9l2 -9l2 4l2 0l2 2l2 -8l2 14l2 -6l2 -5l2 1l2 1l2 4l2 1l2 -8l2 8l2 -4l2 2l2 -1l2 5l2 -5l2 0l2 2l2 -5l2 5l2 0l2 -3l2 4l2 -4l2 4l2 5l2 -11l2 4l2 -4l2 5l2 -3l2 4l2 -3l2 2l2 3l2 -8l2 0l2 1l2 3l2 -6l2 12l2 -8l2 6l2 -10l2 11l2 -11l2 11l2 -8l2 1l2 8l2 -8l2 0l2 2l2 2l2 -10l2 7l2 -3l2 5l2 -1l2 -3l2 -3l2 12l2 -10l2 0l2 2l2 4l2 5l2 -12l2 11l2 -2l2 -2l2 -1l2 1l2 -3l2 -5l2 10l2 -2l2 -8l2 4l2 0l2 0l2 8l2 -6l2 -1l2 0l2 2l2 5l2 -4l2 -2l2 6l2 -10l2 8l2 -5l2 1l2 -6l2 9l2 -2l2 -3l2 4l2 -2l2 2l2 4l2 -3l2 1l2 -2l2 2l2 0H959 V0 Z"/>
<path fill="#30ffcf" d="M151 0V45l3 0l2 -5l2 4l2 -14l2 8l2 1l2 -3l2 4l2 4l2 -7l2 -1l2 2l2 2l2 8l2 -8l2 -5l2 -1l2 12l2 -3l2 -7l2 8l2 -10l2 0l2 4l2 2l2 -2l2 8l2 -6l2 4l2 -2l2 2l2 -4l2 -1l2 -3l2 0l2 2l2 -2l2 11l2 -15l2 12l2 -2l2 -8l2 0l2 -2l2 11l2 -9l2 3l2 5l2 -6l2 -4l2 8l2 -2l2 2l2 -3l2 -1l2 0l2 8l2 -4l2 -2l2 4l2 -10l2 13l2 -7l2 -6l2 12l2 -9l2 -3l2 11l2 -8l2 1l2 2l2 -1l2 -1l2 -2l2 4l2 0l2 3l2 -4l2 2l2 -9l2 12l2 -12l2 4l2 8l2 -7l2 1l2 -2l2 6l2 -7l2 3l2 -2l2 -2l2 9l2 -7l2 2l2 0l2 4l2 -10l2 6l2 0l2 3l2 1l2 -6l2 -2l2 8l2 -2l2 -4l2 2l2 8l2 -11l2 13l2 -8l2 -6l2 7l2 -4l2 3l2 3l2 -4l2 3l2 2l2 -8l2 4l2 -4l2 13l2 -9l2 3l2 -3l2 -4l2 8l2 0l2 -4l2 0l2 6l2 -4l2 -3l2 4l2 1l2 -4l2 -1l2 3l2 -9l2 7l2 -2l2 6l2 -4l2 -2l2 2l2 2l2 -6l2 4l2 6l2 -5l2 1l2 -2l2 -5l2 7l2 0l2 4l2 -8l2 -2l2 4l2 -2l2 2l2 -5l2 1l2 5l2 0l2 1l2 -4l2 6l2 -4l2 6l2 -4l2 1l2 -4l2 3l2 0l2 3l2 -7l2 6l2 -10l2 10l2 -4l2 2l2 3l2 -4l2 -2l2 1l2 10l2 -8l2 -3l2 5l2 -4l2 -2l2 4l2 2l2 -5l2 7l2 -4l2 -2l2 2l2 10l2 -12l2 -2l2 12l2 -8l2 2l2 0l2 -2l2 -4l2 2l2 4l2 2l2 1l2 -8l2 3l2 -2l2 2l2 2l2 -8l2 10l2 -7l2 0l2 3l2 -4l2 12l2 -14l2 6l2 4l2 -6l2 6l2 -8l2 8l2 4l2 -5l2 -3l2 6l2 -6l2 5l2 -5l2 3l2 1l2 0l2 0l2 -2l2 -1l2 0l2 6l2 -3l2 0l2 1l2 -1l2 -4l2 4l2 6l2 -6l2 2l2 -2l2 -4l2 5l2 -5l2 1l2 7l2 -4l2 2l2 -4l2 4l2 -4l2 1l2 1l2 1l2 2l2 -2l2 -7l2 6l2 3l2 -5l2 2l2 2l2 -6l2 6l2 -2l2 -2l2 4l2 -1l2 1l2 2l2 -2l2 -3l2 7l2 -10l2 10l2 -9l2 4l2 -1l2 2l2 -8l2 14l2 -6l2 -4l2 1l2 1l2 4l2 0l2 -8l2 9l2 -4l2 1l2 0l2 4l2 -4l2 0l2 2l2 -5l2 5l2 0l2 -3l2 3l2 -3l2 3l2 6l2 -12l2 5l2 -5l2 6l2 -3l2 3l2 -2l2 2l2 2l2 -8l2 1l2 1l2 3l2 -6l2 11l2 -8l2 6l2 -9l2 11l2 -10l2 10l2 -8l2 0l2 8l2 -8l2 0l2 3l2 2l2 -11l2 8l2 -4l2 6l2 -2l2 -2l2 -4l2 13l2 -11l2 0l2 3l2 3l2 6l2 -12l2 11l2 -3l2 -1l2 -1l2 1l2 -3l2 -5l2 10l2 -3l2 -8l2 5l2 -1l2 0l2 8l2 -5l2 -1l2 0l2 2l2 4l2 -3l2 -1l2 5l2 -11l2 8l2 -4l2 2l2 -8l2 10l2 -2l2 -3l2 4l2 -3l2 2l2 4l2 -2l2 0l2 -2l2 3l2 -1H959 V0 Z"/>
<path fill="#50ffaf" d="M151 0V44l3 0l2 -6l2 4l2 -14l2 8l2 2l2 -4l2 4l2 4l2 -6l2 -2l2 2l2 3l2 7l2 -8l2 -5l2 0l2 11l2 -2l2 -8l2 8l2 -10l2 0l2 5l2 1l2 -2l2 8l2 -6l2 4l2 -2l2 2l2 -4l2 0l2 -3l2 -1l2 2l2 -2l2 12l2 -16l2 12l2 -2l2 -8l2 0l2 -2l2 11l2 -9l2 4l2 4l2 -6l2 -4l2 8l2 -2l2 2l2 -4l2 0l2 0l2 8l2 -5l2 -1l2 4l2 -10l2 13l2 -7l2 -6l2 12l2 -9l2 -3l2 12l2 -8l2 0l2 4l2 -2l2 0l2 -4l2 6l2 -1l2 3l2 -4l2 2l2 -8l2 10l2 -11l2 3l2 9l2 -7l2 0l2 -2l2 6l2 -6l2 2l2 -1l2 -3l2 10l2 -8l2 2l2 0l2 6l2 -11l2 7l2 -1l2 3l2 2l2 -8l2 -2l2 8l2 -2l2 -3l2 2l2 7l2 -10l2 13l2 -9l2 -6l2 8l2 -4l2 3l2 3l2 -4l2 2l2 3l2 -9l2 5l2 -5l2 14l2 -10l2 4l2 -4l2 -4l2 8l2 0l2 -4l2 1l2 5l2 -4l2 -2l2 4l2 0l2 -3l2 -2l2 3l2 -8l2 6l2 -1l2 5l2 -4l2 -1l2 2l2 1l2 -5l2 4l2 5l2 -4l2 0l2 -2l2 -5l2 7l2 0l2 4l2 -8l2 -2l2 4l2 -2l2 2l2 -5l2 1l2 5l2 -1l2 2l2 -4l2 6l2 -4l2 6l2 -4l2 1l2 -4l2 3l2 0l2 2l2 -6l2 6l2 -10l2 10l2 -4l2 2l2 3l2 -4l2 -2l2 1l2 10l2 -8l2 -3l2 5l2 -4l2 -2l2 4l2 2l2 -6l2 8l2 -4l2 -2l2 2l2 10l2 -12l2 -2l2 11l2 -7l2 2l2 0l2 -2l2 -4l2 2l2 4l2 2l2 1l2 -9l2 4l2 -2l2 2l2 2l2 -8l2 10l2 -7l2 -1l2 4l2 -5l2 13l2 -14l2 6l2 4l2 -6l2 6l2 -8l2 8l2 4l2 -5l2 -3l2 6l2 -6l2 6l2 -6l2 4l2 0l2 0l2 0l2 -2l2 0l2 0l2 6l2 -4l2 1l2 1l2 -1l2 -4l2 3l2 6l2 -5l2 1l2 0l2 -6l2 6l2 -4l2 0l2 8l2 -4l2 0l2 -4l2 4l2 -4l2 2l2 2l2 0l2 2l2 -2l2 -8l2 7l2 3l2 -4l2 0l2 4l2 -8l2 7l2 -2l2 -1l2 4l2 -2l2 0l2 2l2 -1l2 -3l2 6l2 -8l2 8l2 -8l2 4l2 0l2 2l2 -8l2 13l2 -6l2 -5l2 2l2 0l2 4l2 0l2 -6l2 8l2 -4l2 0l2 0l2 4l2 -4l2 0l2 2l2 -4l2 4l2 0l2 -2l2 3l2 -3l2 3l2 5l2 -12l2 6l2 -4l2 4l2 -2l2 2l2 -2l2 2l2 3l2 -8l2 1l2 0l2 4l2 -6l2 11l2 -8l2 6l2 -9l2 10l2 -10l2 10l2 -8l2 2l2 7l2 -8l2 1l2 2l2 2l2 -10l2 7l2 -4l2 5l2 0l2 -4l2 -2l2 12l2 -10l2 0l2 2l2 2l2 6l2 -12l2 12l2 -3l2 -1l2 -2l2 2l2 -4l2 -4l2 10l2 -2l2 -8l2 4l2 -2l2 2l2 8l2 -6l2 -2l2 0l2 2l2 5l2 -3l2 -2l2 6l2 -10l2 8l2 -5l2 1l2 -6l2 8l2 0l2 -4l2 4l2 -3l2 2l2 5l2 -4l2 2l2 -2l2 2l2 0H959 V0 Z"/>
<path fill="#70ff8f" d="M151 0V42l3 0l2 -6l2 5l2 -14l2 8l2 1l2 -3l2 4l2 3l2 -6l2 -1l2 1l2 4l2 6l2 -8l2 -4l2 -1l2 11l2 -2l2 -8l2 8l2 -9l2 -1l2 5l2 1l2 -1l2 7l2 -6l2 4l2 -1l2 2l2 -5l2 0l2 -3l2 -1l2 2l2 -1l2 11l2 -16l2 12l2 -2l2 -8l2 0l2 -1l2 11l2 -10l2 4l2 4l2 -6l2 -4l2 8l2 -2l2 2l2 -4l2 0l2 0l2 8l2 -4l2 -2l2 5l2 -11l2 14l2 -8l2 -6l2 12l2 -8l2 -3l2 11l2 -8l2 0l2 4l2 -2l2 0l2 -3l2 5l2 0l2 2l2 -4l2 2l2 -8l2 12l2 -12l2 3l2 9l2 -8l2 1l2 -2l2 6l2 -7l2 3l2 -1l2 -3l2 9l2 -6l2 2l2 0l2 4l2 -10l2 6l2 0l2 2l2 2l2 -7l2 -1l2 7l2 -2l2 -3l2 2l2 7l2 -11l2 14l2 -8l2 -8l2 8l2 -4l2 4l2 2l2 -4l2 3l2 3l2 -9l2 5l2 -6l2 14l2 -10l2 4l2 -4l2 -4l2 8l2 0l2 -4l2 2l2 4l2 -4l2 -2l2 4l2 1l2 -3l2 -2l2 2l2 -8l2 7l2 -2l2 5l2 -4l2 0l2 1l2 1l2 -4l2 3l2 5l2 -4l2 0l2 -1l2 -6l2 7l2 0l2 4l2 -7l2 -3l2 4l2 0l2 1l2 -5l2 1l2 5l2 -1l2 1l2 -4l2 7l2 -5l2 6l2 -4l2 2l2 -4l2 2l2 0l2 3l2 -7l2 6l2 -10l2 10l2 -4l2 2l2 3l2 -4l2 -2l2 1l2 10l2 -8l2 -3l2 4l2 -3l2 -2l2 4l2 2l2 -6l2 8l2 -4l2 -2l2 2l2 10l2 -12l2 -2l2 11l2 -7l2 2l2 0l2 -2l2 -3l2 1l2 4l2 3l2 0l2 -9l2 4l2 -2l2 2l2 2l2 -8l2 11l2 -8l2 0l2 3l2 -4l2 12l2 -14l2 6l2 4l2 -6l2 6l2 -8l2 8l2 5l2 -5l2 -3l2 5l2 -6l2 6l2 -6l2 4l2 1l2 0l2 0l2 -1l2 -2l2 0l2 6l2 -4l2 2l2 0l2 0l2 -4l2 3l2 7l2 -6l2 1l2 -1l2 -5l2 5l2 -4l2 0l2 8l2 -4l2 1l2 -3l2 4l2 -4l2 0l2 2l2 1l2 2l2 -2l2 -7l2 6l2 2l2 -4l2 2l2 2l2 -6l2 6l2 -2l2 -1l2 3l2 -1l2 1l2 2l2 -2l2 -3l2 7l2 -10l2 10l2 -9l2 4l2 -1l2 2l2 -8l2 14l2 -6l2 -5l2 2l2 1l2 3l2 1l2 -8l2 9l2 -5l2 2l2 -1l2 4l2 -3l2 0l2 2l2 -5l2 5l2 -2l2 -2l2 4l2 -4l2 4l2 5l2 -11l2 5l2 -5l2 5l2 -2l2 3l2 -4l2 4l2 2l2 -8l2 1l2 1l2 3l2 -6l2 11l2 -8l2 6l2 -10l2 12l2 -11l2 11l2 -9l2 1l2 8l2 -8l2 0l2 4l2 0l2 -9l2 7l2 -4l2 6l2 -1l2 -3l2 -4l2 13l2 -10l2 0l2 2l2 3l2 6l2 -12l2 12l2 -4l2 0l2 -2l2 1l2 -3l2 -4l2 10l2 -3l2 -8l2 5l2 -2l2 0l2 10l2 -8l2 0l2 0l2 2l2 4l2 -2l2 -2l2 4l2 -10l2 8l2 -4l2 2l2 -7l2 9l2 -2l2 -3l2 4l2 -3l2 2l2 5l2 -3l2 0l2 -1l2 3l2 -1H959 V0 Z"/>
<path fill="#8fff70" d="M151 0V40l3 0l2 -5l2 5l2 -14l2 8l2 0l2 -2l2 4l2 3l2 -7l2 0l2 0l2 4l2 7l2 -8l2 -5l2 0l2 10l2 -2l2 -8l2 8l2 -9l2 0l2 5l2 0l2 0l2 6l2 -6l2 4l2 -1l2 3l2 -6l2 0l2 -2l2 -1l2 2l2 -2l2 11l2 -16l2 13l2 -3l2 -7l2 -1l2 0l2 10l2 -9l2 3l2 4l2 -5l2 -5l2 8l2 -2l2 2l2 -3l2 0l2 -1l2 8l2 -4l2 -1l2 5l2 -12l2 14l2 -6l2 -7l2 12l2 -9l2 -2l2 11l2 -8l2 1l2 2l2 -1l2 -1l2 -2l2 5l2 -1l2 3l2 -4l2 2l2 -8l2 11l2 -12l2 4l2 8l2 -7l2 1l2 -2l2 6l2 -7l2 3l2 -2l2 -2l2 9l2 -7l2 2l2 0l2 5l2 -11l2 7l2 -1l2 3l2 2l2 -7l2 -2l2 8l2 -2l2 -4l2 2l2 8l2 -10l2 12l2 -8l2 -6l2 6l2 -3l2 3l2 3l2 -3l2 2l2 2l2 -8l2 4l2 -6l2 14l2 -10l2 4l2 -3l2 -4l2 8l2 0l2 -4l2 1l2 5l2 -4l2 -3l2 4l2 1l2 -3l2 -2l2 3l2 -9l2 8l2 -2l2 5l2 -5l2 0l2 2l2 1l2 -5l2 4l2 5l2 -5l2 2l2 -2l2 -6l2 6l2 1l2 4l2 -7l2 -2l2 4l2 -2l2 2l2 -5l2 1l2 5l2 -1l2 2l2 -5l2 7l2 -4l2 4l2 -2l2 0l2 -4l2 4l2 -2l2 4l2 -8l2 7l2 -10l2 10l2 -4l2 2l2 3l2 -4l2 -2l2 1l2 10l2 -9l2 -2l2 4l2 -3l2 -3l2 4l2 2l2 -5l2 7l2 -4l2 -2l2 4l2 8l2 -12l2 0l2 10l2 -8l2 2l2 0l2 -1l2 -3l2 2l2 2l2 4l2 0l2 -9l2 5l2 -3l2 2l2 3l2 -9l2 11l2 -8l2 0l2 2l2 -4l2 14l2 -14l2 5l2 5l2 -7l2 6l2 -8l2 9l2 4l2 -6l2 -2l2 4l2 -6l2 7l2 -5l2 3l2 1l2 0l2 0l2 -2l2 0l2 0l2 6l2 -4l2 0l2 2l2 -2l2 -3l2 3l2 6l2 -6l2 2l2 -1l2 -5l2 6l2 -4l2 0l2 8l2 -4l2 0l2 -4l2 4l2 -4l2 2l2 1l2 1l2 2l2 -2l2 -8l2 7l2 3l2 -4l2 0l2 4l2 -7l2 6l2 -2l2 -1l2 4l2 -2l2 0l2 3l2 -2l2 -3l2 6l2 -8l2 8l2 -8l2 4l2 0l2 2l2 -8l2 14l2 -7l2 -5l2 2l2 0l2 4l2 1l2 -7l2 8l2 -4l2 0l2 0l2 4l2 -3l2 -1l2 3l2 -5l2 4l2 0l2 -2l2 3l2 -3l2 4l2 4l2 -11l2 5l2 -4l2 4l2 -2l2 3l2 -3l2 2l2 4l2 -8l2 0l2 0l2 4l2 -6l2 12l2 -9l2 7l2 -10l2 11l2 -11l2 10l2 -8l2 2l2 8l2 -8l2 0l2 2l2 2l2 -10l2 8l2 -4l2 5l2 -1l2 -3l2 -3l2 12l2 -10l2 0l2 2l2 4l2 5l2 -11l2 11l2 -3l2 -1l2 -1l2 0l2 -3l2 -3l2 9l2 -3l2 -8l2 5l2 -1l2 0l2 9l2 -7l2 0l2 0l2 1l2 5l2 -3l2 -2l2 5l2 -10l2 8l2 -4l2 1l2 -7l2 9l2 -1l2 -4l2 4l2 -2l2 2l2 4l2 -3l2 1l2 -2l2 3l2 -1H959 V0 Z"/>
<path fill="#afff50" d="M151 0V38l3 0l2 -4l2 4l2 -14l2 8l2 0l2 -2l2 4l2 4l2 -7l2 -1l2 0l2 4l2 8l2 -8l2 -6l2 0l2 11l2 -3l2 -8l2 9l2 -9l2 0l2 4l2 1l2 -1l2 8l2 -7l2 3l2 0l2 2l2 -4l2 -2l2 -2l2 0l2 1l2 -1l2 11l2 -17l2 13l2 -3l2 -7l2 0l2 -1l2 10l2 -8l2 3l2 4l2 -6l2 -4l2 8l2 -2l2 2l2 -3l2 0l2 -1l2 8l2 -5l2 0l2 4l2 -11l2 13l2 -6l2 -6l2 12l2 -9l2 -3l2 12l2 -8l2 0l2 4l2 -2l2 0l2 -4l2 6l2 0l2 2l2 -4l2 2l2 -8l2 12l2 -13l2 3l2 10l2 -8l2 0l2 -2l2 7l2 -7l2 3l2 -1l2 -3l2 9l2 -7l2 3l2 0l2 4l2 -10l2 6l2 0l2 2l2 2l2 -7l2 -2l2 8l2 -2l2 -3l2 2l2 7l2 -11l2 13l2 -7l2 -8l2 8l2 -4l2 4l2 2l2 -4l2 2l2 4l2 -10l2 5l2 -5l2 13l2 -9l2 4l2 -4l2 -4l2 8l2 0l2 -4l2 0l2 6l2 -4l2 -3l2 5l2 0l2 -3l2 -2l2 3l2 -8l2 7l2 -2l2 5l2 -4l2 -1l2 2l2 1l2 -4l2 3l2 5l2 -4l2 0l2 -1l2 -6l2 7l2 0l2 4l2 -7l2 -2l2 3l2 0l2 1l2 -5l2 1l2 5l2 -1l2 1l2 -4l2 7l2 -5l2 6l2 -4l2 2l2 -4l2 2l2 0l2 3l2 -7l2 6l2 -10l2 10l2 -4l2 2l2 3l2 -4l2 -3l2 2l2 10l2 -8l2 -2l2 3l2 -3l2 -3l2 5l2 1l2 -5l2 8l2 -4l2 -2l2 2l2 8l2 -10l2 -2l2 10l2 -7l2 2l2 1l2 -2l2 -3l2 1l2 4l2 3l2 0l2 -9l2 5l2 -3l2 2l2 2l2 -8l2 11l2 -7l2 -1l2 3l2 -4l2 12l2 -14l2 6l2 4l2 -6l2 6l2 -8l2 8l2 4l2 -5l2 -3l2 5l2 -5l2 6l2 -6l2 4l2 0l2 0l2 0l2 -1l2 -1l2 0l2 6l2 -4l2 2l2 0l2 0l2 -4l2 3l2 7l2 -6l2 1l2 -1l2 -5l2 6l2 -5l2 0l2 8l2 -4l2 2l2 -4l2 4l2 -4l2 1l2 1l2 2l2 1l2 -2l2 -7l2 6l2 3l2 -5l2 2l2 2l2 -6l2 6l2 -2l2 -1l2 4l2 -2l2 1l2 2l2 -2l2 -2l2 6l2 -9l2 9l2 -8l2 4l2 -2l2 2l2 -8l2 14l2 -6l2 -5l2 3l2 0l2 4l2 0l2 -7l2 9l2 -5l2 1l2 -1l2 5l2 -4l2 0l2 2l2 -4l2 4l2 -1l2 -3l2 4l2 -3l2 3l2 6l2 -12l2 6l2 -5l2 5l2 -2l2 2l2 -2l2 2l2 2l2 -7l2 1l2 0l2 4l2 -6l2 10l2 -8l2 7l2 -10l2 11l2 -10l2 10l2 -8l2 2l2 7l2 -9l2 2l2 2l2 2l2 -10l2 7l2 -4l2 5l2 0l2 -4l2 -2l2 12l2 -10l2 0l2 2l2 3l2 5l2 -12l2 12l2 -3l2 -1l2 -1l2 1l2 -4l2 -3l2 9l2 -2l2 -8l2 4l2 -1l2 1l2 8l2 -6l2 -1l2 -1l2 2l2 5l2 -3l2 -2l2 5l2 -10l2 9l2 -5l2 1l2 -6l2 8l2 -1l2 -3l2 4l2 -4l2 2l2 6l2 -4l2 1l2 -1l2 2l2 0H959 V0 Z"/>
<path fill="#cfff30" d="M151 0V38l3 0l2 -5l2 5l2 -14l2 7l2 1l2 -3l2 4l2 3l2 -6l2 -1l2 1l2 4l2 6l2 -8l2 -4l2 -1l2 11l2 -2l2 -8l2 8l2 -10l2 0l2 5l2 1l2 -1l2 7l2 -6l2 4l2 -2l2 2l2 -4l2 0l2 -3l2 -1l2 2l2 -2l2 12l2 -17l2 13l2 -2l2 -8l2 0l2 -1l2 11l2 -10l2 4l2 4l2 -6l2 -4l2 8l2 -2l2 2l2 -4l2 0l2 0l2 8l2 -5l2 -1l2 5l2 -11l2 13l2 -6l2 -7l2 12l2 -8l2 -3l2 11l2 -8l2 1l2 3l2 -1l2 -1l2 -2l2 5l2 0l2 2l2 -3l2 1l2 -8l2 11l2 -12l2 4l2 8l2 -7l2 1l2 -2l2 6l2 -6l2 2l2 -2l2 -2l2 10l2 -8l2 2l2 0l2 6l2 -12l2 7l2 -1l2 3l2 2l2 -7l2 -2l2 8l2 -2l2 -4l2 2l2 8l2 -10l2 12l2 -8l2 -6l2 7l2 -4l2 3l2 3l2 -3l2 2l2 2l2 -8l2 4l2 -5l2 13l2 -10l2 5l2 -4l2 -3l2 8l2 0l2 -5l2 1l2 6l2 -5l2 -3l2 4l2 1l2 -3l2 -2l2 4l2 -10l2 8l2 -2l2 5l2 -4l2 -1l2 2l2 1l2 -5l2 4l2 6l2 -5l2 1l2 -2l2 -6l2 6l2 1l2 4l2 -7l2 -2l2 4l2 -2l2 2l2 -5l2 1l2 5l2 -1l2 2l2 -5l2 7l2 -4l2 4l2 -2l2 0l2 -4l2 4l2 -2l2 4l2 -8l2 8l2 -11l2 11l2 -4l2 1l2 3l2 -4l2 -2l2 1l2 10l2 -9l2 -2l2 4l2 -3l2 -3l2 4l2 2l2 -5l2 7l2 -4l2 -2l2 4l2 8l2 -11l2 -1l2 10l2 -8l2 2l2 0l2 -1l2 -3l2 2l2 2l2 4l2 0l2 -8l2 4l2 -2l2 1l2 3l2 -9l2 11l2 -8l2 0l2 2l2 -3l2 13l2 -14l2 5l2 5l2 -7l2 6l2 -8l2 9l2 4l2 -6l2 -2l2 4l2 -6l2 7l2 -6l2 3l2 2l2 -1l2 0l2 -1l2 -1l2 0l2 7l2 -5l2 1l2 1l2 -1l2 -3l2 3l2 6l2 -5l2 1l2 0l2 -6l2 6l2 -4l2 0l2 8l2 -4l2 0l2 -3l2 4l2 -4l2 1l2 2l2 0l2 2l2 -2l2 -7l2 7l2 2l2 -4l2 2l2 2l2 -6l2 6l2 -2l2 -2l2 4l2 -2l2 1l2 3l2 -2l2 -4l2 7l2 -9l2 9l2 -9l2 5l2 -1l2 2l2 -8l2 14l2 -6l2 -6l2 2l2 1l2 3l2 2l2 -8l2 8l2 -4l2 1l2 -1l2 4l2 -2l2 -1l2 3l2 -6l2 5l2 -1l2 -2l2 4l2 -4l2 4l2 5l2 -11l2 5l2 -5l2 5l2 -2l2 3l2 -4l2 3l2 3l2 -8l2 1l2 1l2 3l2 -6l2 11l2 -8l2 6l2 -10l2 12l2 -10l2 10l2 -8l2 0l2 8l2 -8l2 1l2 3l2 0l2 -9l2 7l2 -4l2 6l2 -1l2 -3l2 -3l2 12l2 -9l2 0l2 2l2 2l2 6l2 -12l2 12l2 -4l2 0l2 -2l2 2l2 -4l2 -4l2 10l2 -2l2 -8l2 4l2 -2l2 1l2 9l2 -7l2 -1l2 0l2 2l2 4l2 -2l2 -2l2 4l2 -10l2 8l2 -4l2 2l2 -7l2 9l2 -2l2 -3l2 3l2 -2l2 2l2 5l2 -3l2 0l2 -2l2 4l2 -1H959 V0 Z"/>
<path fill="#efff10" d="M151 0V37l3 0l2 -5l2 4l2 -14l2 8l2 1l2 -3l2 4l2 4l2 -6l2 -2l2 1l2 3l2 8l2 -8l2 -6l2 0l2 10l2 -2l2 -8l2 9l2 -9l2 0l2 4l2 1l2 -1l2 8l2 -7l2 4l2 -1l2 2l2 -4l2 -2l2 -2l2 0l2 2l2 -2l2 11l2 -17l2 13l2 -3l2 -7l2 0l2 -1l2 10l2 -9l2 3l2 4l2 -6l2 -4l2 8l2 -2l2 2l2 -4l2 0l2 0l2 8l2 -4l2 -1l2 5l2 -12l2 14l2 -6l2 -6l2 12l2 -9l2 -3l2 12l2 -8l2 0l2 4l2 -2l2 0l2 -4l2 6l2 0l2 2l2 -4l2 2l2 -8l2 12l2 -12l2 2l2 10l2 -8l2 1l2 -2l2 7l2 -8l2 3l2 -1l2 -3l2 9l2 -6l2 2l2 0l2 4l2 -10l2 6l2 0l2 2l2 2l2 -7l2 -1l2 8l2 -3l2 -3l2 2l2 8l2 -12l2 13l2 -7l2 -7l2 7l2 -4l2 4l2 2l2 -3l2 2l2 3l2 -9l2 5l2 -6l2 14l2 -10l2 4l2 -4l2 -4l2 8l2 0l2 -4l2 1l2 5l2 -4l2 -2l2 4l2 0l2 -2l2 -2l2 2l2 -8l2 7l2 -2l2 5l2 -4l2 0l2 2l2 0l2 -4l2 4l2 4l2 -4l2 0l2 0l2 -6l2 6l2 0l2 4l2 -6l2 -3l2 3l2 0l2 1l2 -5l2 2l2 4l2 -1l2 1l2 -4l2 7l2 -5l2 6l2 -3l2 1l2 -4l2 3l2 -1l2 3l2 -7l2 6l2 -10l2 10l2 -4l2 2l2 3l2 -4l2 -2l2 1l2 10l2 -8l2 -2l2 3l2 -3l2 -2l2 4l2 2l2 -6l2 8l2 -4l2 -2l2 2l2 8l2 -10l2 -2l2 10l2 -7l2 3l2 0l2 -2l2 -2l2 1l2 3l2 3l2 0l2 -9l2 5l2 -3l2 2l2 2l2 -8l2 12l2 -8l2 0l2 2l2 -4l2 12l2 -14l2 6l2 5l2 -7l2 6l2 -8l2 8l2 4l2 -5l2 -3l2 5l2 -6l2 7l2 -6l2 4l2 0l2 0l2 0l2 -1l2 -1l2 0l2 6l2 -4l2 2l2 0l2 0l2 -4l2 3l2 7l2 -6l2 2l2 -2l2 -4l2 5l2 -5l2 1l2 8l2 -4l2 1l2 -4l2 4l2 -4l2 2l2 1l2 1l2 2l2 -2l2 -8l2 7l2 3l2 -5l2 1l2 4l2 -8l2 7l2 -3l2 0l2 4l2 -2l2 0l2 2l2 -2l2 -2l2 6l2 -8l2 8l2 -8l2 4l2 0l2 1l2 -8l2 14l2 -6l2 -5l2 2l2 0l2 4l2 0l2 -6l2 8l2 -4l2 0l2 0l2 4l2 -4l2 0l2 2l2 -4l2 4l2 0l2 -3l2 4l2 -3l2 3l2 5l2 -12l2 6l2 -4l2 4l2 -2l2 3l2 -3l2 2l2 3l2 -7l2 0l2 0l2 4l2 -6l2 11l2 -8l2 7l2 -10l2 10l2 -10l2 10l2 -8l2 2l2 8l2 -8l2 0l2 2l2 2l2 -10l2 8l2 -4l2 5l2 -1l2 -3l2 -3l2 12l2 -10l2 0l2 2l2 4l2 5l2 -11l2 11l2 -3l2 0l2 -2l2 1l2 -3l2 -4l2 10l2 -3l2 -8l2 5l2 -2l2 0l2 9l2 -7l2 0l2 0l2 2l2 4l2 -3l2 -2l2 5l2 -10l2 8l2 -4l2 1l2 -7l2 8l2 0l2 -4l2 4l2 -3l2 2l2 5l2 -4l2 2l2 -2l2 2l2 0H959 V0 Z"/>
<path fill="#ffef00" d="M151 0V36l3 0l2 -4l2 4l2 -14l2 7l2 1l2 -2l2 3l2 3l2 -6l2 -1l2 1l2 4l2 7l2 -9l2 -4l2 0l2 10l2 -2l2 -8l2 8l2 -9l2 -1l2 5l2 1l2 -1l2 7l2 -6l2 4l2 -2l2 2l2 -4l2 0l2 -3l2 -1l2 2l2 -2l2 12l2 -17l2 13l2 -2l2 -8l2 0l2 -2l2 11l2 -9l2 4l2 4l2 -6l2 -5l2 8l2 -2l2 1l2 -3l2 1l2 -1l2 8l2 -5l2 0l2 4l2 -10l2 12l2 -6l2 -6l2 12l2 -8l2 -3l2 11l2 -8l2 1l2 3l2 -1l2 -1l2 -2l2 5l2 0l2 2l2 -3l2 2l2 -9l2 11l2 -12l2 4l2 8l2 -7l2 1l2 -2l2 6l2 -6l2 2l2 -1l2 -3l2 10l2 -8l2 3l2 0l2 5l2 -11l2 7l2 -1l2 3l2 2l2 -8l2 -2l2 8l2 -2l2 -3l2 2l2 7l2 -10l2 12l2 -8l2 -6l2 7l2 -3l2 2l2 4l2 -4l2 2l2 3l2 -9l2 4l2 -5l2 13l2 -9l2 5l2 -4l2 -4l2 8l2 0l2 -4l2 0l2 6l2 -5l2 -3l2 5l2 1l2 -4l2 -2l2 4l2 -9l2 7l2 -2l2 6l2 -5l2 -1l2 2l2 2l2 -6l2 4l2 6l2 -5l2 1l2 -2l2 -6l2 6l2 1l2 4l2 -7l2 -2l2 4l2 -1l2 1l2 -4l2 0l2 6l2 -2l2 2l2 -5l2 7l2 -4l2 5l2 -3l2 1l2 -4l2 3l2 -2l2 4l2 -7l2 7l2 -10l2 10l2 -4l2 1l2 3l2 -4l2 -2l2 1l2 11l2 -10l2 -2l2 4l2 -3l2 -3l2 4l2 2l2 -4l2 7l2 -5l2 -1l2 3l2 8l2 -11l2 -1l2 10l2 -8l2 2l2 0l2 0l2 -4l2 2l2 3l2 3l2 0l2 -8l2 4l2 -2l2 2l2 2l2 -9l2 11l2 -8l2 0l2 2l2 -3l2 13l2 -14l2 5l2 5l2 -7l2 6l2 -8l2 9l2 4l2 -6l2 -2l2 4l2 -6l2 7l2 -6l2 3l2 2l2 -1l2 0l2 -1l2 -1l2 0l2 6l2 -4l2 1l2 1l2 -1l2 -3l2 3l2 6l2 -6l2 2l2 0l2 -6l2 6l2 -4l2 0l2 8l2 -4l2 1l2 -3l2 4l2 -4l2 0l2 2l2 1l2 2l2 -2l2 -7l2 6l2 2l2 -4l2 2l2 2l2 -6l2 6l2 -2l2 -1l2 3l2 -1l2 1l2 2l2 -2l2 -3l2 7l2 -10l2 10l2 -9l2 4l2 -1l2 2l2 -8l2 14l2 -6l2 -6l2 3l2 0l2 4l2 1l2 -8l2 9l2 -5l2 2l2 -2l2 5l2 -3l2 0l2 2l2 -5l2 5l2 -1l2 -3l2 4l2 -4l2 4l2 6l2 -12l2 6l2 -6l2 6l2 -3l2 3l2 -3l2 3l2 2l2 -8l2 2l2 0l2 4l2 -6l2 10l2 -8l2 6l2 -9l2 11l2 -10l2 10l2 -8l2 1l2 8l2 -9l2 1l2 3l2 1l2 -9l2 6l2 -3l2 5l2 0l2 -4l2 -2l2 12l2 -10l2 0l2 2l2 3l2 5l2 -12l2 12l2 -3l2 -1l2 -1l2 1l2 -4l2 -4l2 10l2 -2l2 -8l2 4l2 -1l2 1l2 8l2 -6l2 -1l2 -1l2 2l2 5l2 -3l2 -2l2 6l2 -11l2 9l2 -5l2 1l2 -6l2 8l2 -1l2 -3l2 3l2 -3l2 2l2 5l2 -3l2 1l2 -2l2 3l2 0H959 V0 Z"/>
<path fill="#ffcf00" d="M151 0V35l3 0l2 -5l2 5l2 -15l2 8l2 1l2 -3l2 4l2 4l2 -6l2 -2l2 1l2 3l2 8l2 -8l2 -5l2 -1l2 11l2 -3l2 -7l2 8l2 -9l2 0l2 4l2 2l2 -2l2 8l2 -6l2 3l2 -1l2 2l2 -4l2 -1l2 -3l2 0l2 2l2 -2l2 11l2 -17l2 13l2 -3l2 -7l2 -1l2 0l2 10l2 -10l2 4l2 4l2 -6l2 -4l2 8l2 -2l2 1l2 -3l2 0l2 0l2 8l2 -5l2 -1l2 5l2 -11l2 13l2 -6l2 -6l2 12l2 -9l2 -2l2 11l2 -7l2 0l2 4l2 -2l2 0l2 -4l2 6l2 0l2 2l2 -4l2 2l2 -8l2 12l2 -12l2 3l2 9l2 -8l2 1l2 -2l2 7l2 -8l2 4l2 -2l2 -2l2 8l2 -6l2 2l2 0l2 4l2 -10l2 6l2 0l2 2l2 2l2 -6l2 -2l2 8l2 -2l2 -4l2 2l2 8l2 -11l2 13l2 -8l2 -7l2 7l2 -4l2 4l2 2l2 -3l2 2l2 3l2 -9l2 5l2 -6l2 14l2 -10l2 4l2 -4l2 -3l2 8l2 0l2 -5l2 1l2 6l2 -5l2 -2l2 4l2 0l2 -2l2 -2l2 3l2 -9l2 8l2 -2l2 4l2 -4l2 0l2 2l2 0l2 -4l2 4l2 4l2 -4l2 1l2 -1l2 -6l2 6l2 0l2 4l2 -6l2 -2l2 3l2 -1l2 2l2 -6l2 2l2 4l2 -1l2 2l2 -5l2 8l2 -5l2 5l2 -3l2 1l2 -4l2 3l2 -1l2 3l2 -7l2 7l2 -11l2 10l2 -4l2 2l2 4l2 -4l2 -3l2 1l2 10l2 -8l2 -2l2 3l2 -3l2 -2l2 4l2 2l2 -6l2 8l2 -4l2 -2l2 3l2 8l2 -11l2 -1l2 9l2 -6l2 2l2 0l2 -2l2 -2l2 1l2 3l2 4l2 0l2 -10l2 6l2 -3l2 1l2 3l2 -9l2 12l2 -8l2 0l2 2l2 -4l2 13l2 -15l2 6l2 5l2 -7l2 6l2 -8l2 8l2 4l2 -5l2 -3l2 5l2 -6l2 7l2 -6l2 4l2 0l2 0l2 0l2 -2l2 0l2 0l2 6l2 -4l2 1l2 1l2 -1l2 -3l2 3l2 7l2 -6l2 1l2 -1l2 -5l2 6l2 -5l2 1l2 8l2 -4l2 1l2 -4l2 4l2 -4l2 2l2 2l2 0l2 2l2 -2l2 -7l2 7l2 2l2 -4l2 1l2 3l2 -7l2 7l2 -3l2 -1l2 4l2 -2l2 0l2 3l2 -2l2 -3l2 6l2 -8l2 8l2 -8l2 4l2 0l2 2l2 -8l2 14l2 -7l2 -5l2 2l2 0l2 4l2 1l2 -7l2 8l2 -4l2 0l2 0l2 4l2 -4l2 0l2 3l2 -5l2 4l2 0l2 -2l2 3l2 -3l2 4l2 4l2 -12l2 6l2 -4l2 4l2 -2l2 3l2 -3l2 2l2 4l2 -8l2 0l2 0l2 4l2 -6l2 12l2 -8l2 6l2 -10l2 11l2 -11l2 10l2 -8l2 2l2 8l2 -8l2 0l2 3l2 1l2 -10l2 8l2 -4l2 5l2 -1l2 -3l2 -3l2 12l2 -10l2 0l2 3l2 3l2 6l2 -12l2 12l2 -4l2 0l2 -2l2 1l2 -3l2 -4l2 10l2 -3l2 -8l2 5l2 -2l2 1l2 8l2 -7l2 0l2 0l2 2l2 4l2 -3l2 -1l2 4l2 -10l2 8l2 -4l2 1l2 -7l2 9l2 -1l2 -4l2 4l2 -2l2 2l2 4l2 -3l2 1l2 -2l2 2l2 0H959 V0 Z"/>
<path fill="#ffaf00" d="M151 0V34l3 0l2 -4l2 4l2 -14l2 8l2 0l2 -2l2 4l2 2l2 -5l2 -1l2 0l2 4l2 7l2 -8l2 -5l2 0l2 10l2 -2l2 -8l2 8l2 -9l2 0l2 5l2 0l2 -1l2 8l2 -7l2 4l2 -1l2 1l2 -3l2 -1l2 -2l2 -2l2 2l2 -2l2 12l2 -17l2 13l2 -3l2 -7l2 -1l2 -1l2 10l2 -9l2 3l2 4l2 -6l2 -4l2 8l2 -2l2 2l2 -4l2 0l2 0l2 8l2 -4l2 -2l2 6l2 -12l2 14l2 -6l2 -6l2 12l2 -9l2 -3l2 12l2 -8l2 0l2 4l2 -2l2 0l2 -3l2 5l2 1l2 2l2 -4l2 2l2 -8l2 11l2 -12l2 4l2 8l2 -7l2 1l2 -2l2 6l2 -6l2 2l2 -1l2 -3l2 10l2 -8l2 3l2 0l2 5l2 -11l2 7l2 -1l2 3l2 2l2 -8l2 -2l2 8l2 -2l2 -3l2 2l2 7l2 -10l2 12l2 -7l2 -7l2 7l2 -3l2 3l2 3l2 -4l2 2l2 3l2 -9l2 4l2 -4l2 12l2 -9l2 5l2 -4l2 -4l2 8l2 0l2 -4l2 0l2 6l2 -4l2 -4l2 5l2 1l2 -3l2 -3l2 4l2 -9l2 7l2 -2l2 6l2 -4l2 -2l2 2l2 2l2 -5l2 3l2 6l2 -4l2 0l2 -2l2 -5l2 6l2 1l2 4l2 -7l2 -3l2 4l2 0l2 1l2 -5l2 1l2 5l2 -2l2 2l2 -4l2 6l2 -4l2 5l2 -3l2 2l2 -4l2 2l2 -1l2 3l2 -6l2 6l2 -10l2 10l2 -4l2 2l2 2l2 -4l2 -2l2 2l2 10l2 -9l2 -2l2 3l2 -2l2 -3l2 4l2 2l2 -5l2 7l2 -4l2 -2l2 3l2 8l2 -10l2 -2l2 10l2 -8l2 3l2 0l2 -1l2 -3l2 1l2 3l2 4l2 -1l2 -8l2 4l2 -2l2 2l2 2l2 -8l2 11l2 -8l2 0l2 2l2 -3l2 12l2 -14l2 6l2 4l2 -6l2 6l2 -9l2 9l2 4l2 -6l2 -2l2 4l2 -6l2 7l2 -6l2 3l2 2l2 -2l2 1l2 -1l2 -1l2 0l2 6l2 -4l2 1l2 1l2 -1l2 -3l2 3l2 6l2 -6l2 2l2 -1l2 -5l2 6l2 -4l2 0l2 8l2 -4l2 0l2 -3l2 4l2 -4l2 1l2 2l2 1l2 3l2 -3l2 -7l2 6l2 4l2 -5l2 1l2 3l2 -7l2 6l2 -2l2 0l2 3l2 -1l2 0l2 2l2 -2l2 -2l2 6l2 -9l2 9l2 -8l2 4l2 -1l2 1l2 -8l2 14l2 -6l2 -5l2 3l2 0l2 3l2 1l2 -8l2 9l2 -5l2 2l2 -1l2 4l2 -3l2 0l2 2l2 -5l2 5l2 -1l2 -3l2 4l2 -4l2 4l2 5l2 -11l2 5l2 -5l2 6l2 -3l2 3l2 -3l2 3l2 2l2 -8l2 2l2 0l2 3l2 -5l2 10l2 -8l2 6l2 -9l2 11l2 -10l2 10l2 -8l2 1l2 8l2 -9l2 1l2 3l2 1l2 -9l2 6l2 -3l2 5l2 0l2 -4l2 -2l2 12l2 -10l2 0l2 2l2 3l2 5l2 -12l2 12l2 -2l2 -2l2 -1l2 1l2 -4l2 -4l2 10l2 -2l2 -8l2 4l2 -1l2 1l2 8l2 -6l2 -1l2 0l2 1l2 5l2 -3l2 -2l2 6l2 -11l2 9l2 -5l2 1l2 -6l2 8l2 -1l2 -3l2 3l2 -3l2 2l2 5l2 -3l2 1l2 -2l2 3l2 -1H959 V0 Z"/>
<path fill="#ff8f00" d="M151 0V33l3 0l2 -5l2 5l2 -15l2 8l2 1l2 -3l2 4l2 4l2 -6l2 -2l2 1l2 4l2 7l2 -8l2 -5l2 -1l2 11l2 -3l2 -7l2 8l2 -9l2 0l2 4l2 2l2 -2l2 8l2 -7l2 4l2 -1l2 2l2 -4l2 -2l2 -2l2 0l2 1l2 -1l2 10l2 -16l2 12l2 -2l2 -8l2 0l2 -2l2 11l2 -9l2 3l2 4l2 -5l2 -6l2 9l2 -3l2 2l2 -4l2 1l2 -1l2 8l2 -4l2 0l2 4l2 -10l2 12l2 -6l2 -6l2 12l2 -8l2 -3l2 11l2 -7l2 1l2 3l2 -2l2 0l2 -3l2 6l2 0l2 2l2 -4l2 2l2 -8l2 11l2 -12l2 3l2 9l2 -7l2 0l2 -2l2 7l2 -7l2 3l2 -1l2 -3l2 9l2 -6l2 2l2 0l2 4l2 -10l2 6l2 0l2 2l2 2l2 -7l2 -1l2 8l2 -2l2 -4l2 2l2 8l2 -12l2 14l2 -8l2 -7l2 7l2 -4l2 4l2 2l2 -3l2 2l2 3l2 -9l2 5l2 -6l2 14l2 -10l2 4l2 -4l2 -3l2 8l2 -1l2 -4l2 1l2 6l2 -5l2 -2l2 4l2 0l2 -2l2 -2l2 2l2 -8l2 8l2 -2l2 4l2 -4l2 0l2 2l2 0l2 -4l2 4l2 5l2 -5l2 1l2 -1l2 -6l2 6l2 0l2 5l2 -7l2 -2l2 4l2 -2l2 2l2 -5l2 1l2 5l2 -1l2 2l2 -5l2 7l2 -4l2 4l2 -2l2 0l2 -4l2 4l2 -2l2 4l2 -8l2 8l2 -11l2 10l2 -4l2 2l2 3l2 -4l2 -2l2 1l2 10l2 -9l2 -2l2 4l2 -3l2 -3l2 4l2 2l2 -5l2 7l2 -4l2 -2l2 4l2 8l2 -12l2 0l2 9l2 -7l2 2l2 0l2 -1l2 -3l2 2l2 2l2 4l2 0l2 -9l2 5l2 -2l2 1l2 3l2 -9l2 11l2 -8l2 0l2 2l2 -4l2 14l2 -15l2 5l2 6l2 -8l2 6l2 -8l2 9l2 3l2 -4l2 -4l2 6l2 -6l2 6l2 -6l2 4l2 0l2 0l2 0l2 -2l2 0l2 0l2 6l2 -4l2 1l2 1l2 -1l2 -3l2 2l2 7l2 -6l2 1l2 0l2 -5l2 5l2 -4l2 0l2 8l2 -4l2 2l2 -4l2 4l2 -4l2 2l2 1l2 1l2 2l2 -2l2 -8l2 7l2 3l2 -4l2 1l2 3l2 -7l2 6l2 -2l2 -1l2 4l2 -2l2 0l2 3l2 -2l2 -3l2 7l2 -9l2 8l2 -8l2 4l2 0l2 2l2 -8l2 14l2 -7l2 -5l2 2l2 0l2 4l2 1l2 -7l2 8l2 -4l2 0l2 0l2 4l2 -4l2 0l2 2l2 -4l2 4l2 0l2 -3l2 4l2 -3l2 3l2 5l2 -12l2 6l2 -4l2 4l2 -2l2 3l2 -3l2 2l2 3l2 -7l2 0l2 0l2 4l2 -6l2 11l2 -8l2 7l2 -10l2 11l2 -11l2 10l2 -8l2 2l2 8l2 -8l2 0l2 3l2 1l2 -10l2 8l2 -4l2 5l2 -1l2 -3l2 -3l2 12l2 -10l2 0l2 3l2 3l2 6l2 -12l2 11l2 -3l2 0l2 -2l2 1l2 -3l2 -4l2 10l2 -3l2 -8l2 5l2 -2l2 1l2 8l2 -7l2 0l2 0l2 2l2 4l2 -3l2 -1l2 4l2 -10l2 8l2 -4l2 1l2 -7l2 9l2 -1l2 -4l2 4l2 -2l2 2l2 4l2 -3l2 1l2 -2l2 2l2 0H959 V0 Z"/>
<path fill="#ff7000" d="M151 0V32l3 0l2 -4l2 4l2 -14l2 7l2 1l2 -2l2 3l2 3l2 -6l2 -1l2 1l2 4l2 7l2 -9l2 -4l2 -1l2 11l2 -2l2 -8l2 8l2 -10l2 0l2 5l2 1l2 -1l2 7l2 -6l2 4l2 -2l2 2l2 -4l2 0l2 -3l2 -1l2 2l2 -2l2 11l2 -17l2 13l2 -3l2 -7l2 -1l2 -1l2 11l2 -10l2 4l2 4l2 -6l2 -5l2 9l2 -3l2 1l2 -3l2 0l2 0l2 8l2 -5l2 0l2 4l2 -10l2 13l2 -6l2 -6l2 12l2 -9l2 -2l2 11l2 -7l2 0l2 4l2 -2l2 0l2 -3l2 5l2 0l2 2l2 -3l2 2l2 -9l2 12l2 -12l2 3l2 9l2 -8l2 2l2 -2l2 6l2 -7l2 3l2 -2l2 -2l2 9l2 -7l2 2l2 0l2 5l2 -11l2 7l2 -1l2 3l2 2l2 -7l2 -2l2 8l2 -2l2 -4l2 2l2 8l2 -10l2 12l2 -8l2 -6l2 7l2 -3l2 2l2 4l2 -4l2 2l2 2l2 -8l2 4l2 -5l2 13l2 -9l2 5l2 -4l2 -4l2 8l2 0l2 -4l2 0l2 6l2 -5l2 -3l2 5l2 1l2 -4l2 -2l2 4l2 -9l2 7l2 -2l2 6l2 -5l2 -1l2 2l2 2l2 -5l2 3l2 6l2 -4l2 0l2 -1l2 -6l2 6l2 1l2 4l2 -6l2 -3l2 3l2 0l2 1l2 -5l2 2l2 4l2 -1l2 1l2 -4l2 7l2 -5l2 6l2 -3l2 1l2 -4l2 3l2 -1l2 3l2 -7l2 6l2 -10l2 10l2 -4l2 2l2 3l2 -4l2 -2l2 1l2 10l2 -8l2 -2l2 3l2 -3l2 -2l2 4l2 2l2 -6l2 8l2 -4l2 -2l2 2l2 8l2 -10l2 -2l2 10l2 -7l2 3l2 0l2 -2l2 -2l2 1l2 3l2 3l2 0l2 -9l2 5l2 -3l2 2l2 2l2 -8l2 12l2 -8l2 0l2 2l2 -4l2 12l2 -14l2 6l2 4l2 -6l2 6l2 -8l2 8l2 4l2 -6l2 -2l2 4l2 -6l2 7l2 -6l2 3l2 2l2 -1l2 0l2 -1l2 -1l2 0l2 6l2 -5l2 2l2 0l2 0l2 -4l2 4l2 6l2 -6l2 2l2 -2l2 -4l2 6l2 -5l2 1l2 7l2 -4l2 1l2 -4l2 4l2 -4l2 2l2 2l2 0l2 2l2 -2l2 -7l2 7l2 2l2 -4l2 2l2 2l2 -6l2 6l2 -2l2 -2l2 4l2 -1l2 1l2 2l2 -2l2 -3l2 7l2 -10l2 10l2 -9l2 4l2 -1l2 2l2 -8l2 14l2 -6l2 -6l2 3l2 0l2 4l2 1l2 -8l2 9l2 -5l2 2l2 -2l2 5l2 -3l2 -1l2 3l2 -5l2 5l2 -2l2 -2l2 4l2 -4l2 4l2 5l2 -11l2 5l2 -5l2 5l2 -2l2 3l2 -4l2 4l2 2l2 -8l2 1l2 1l2 3l2 -6l2 11l2 -8l2 6l2 -10l2 12l2 -10l2 10l2 -8l2 1l2 8l2 -9l2 1l2 3l2 1l2 -9l2 6l2 -3l2 5l2 0l2 -4l2 -2l2 12l2 -10l2 0l2 2l2 3l2 5l2 -12l2 12l2 -2l2 -2l2 -1l2 1l2 -4l2 -3l2 9l2 -2l2 -8l2 4l2 -1l2 1l2 8l2 -6l2 -1l2 -1l2 2l2 5l2 -3l2 -2l2 6l2 -11l2 9l2 -6l2 2l2 -6l2 8l2 -1l2 -3l2 3l2 -3l2 2l2 5l2 -3l2 1l2 -2l2 3l2 -1H959 V0 Z"/>
<path fill="#ff5000" d="M151 0V31l3 0l2 -5l2 4l2 -14l2 8l2 0l2 -2l2 4l2 4l2 -6l2 -2l2 1l2 3l2 8l2 -8l2 -6l2 0l2 10l2 -2l2 -8l2 8l2 -8l2 0l2 4l2 1l2 -1l2 7l2 -7l2 4l2 -1l2 2l2 -4l2 -1l2 -2l2 -1l2 1l2 -2l2 12l2 -17l2 13l2 -3l2 -7l2 -1l2 -1l2 10l2 -9l2 3l2 4l2 -6l2 -4l2 8l2 -2l2 1l2 -3l2 0l2 0l2 7l2 -4l2 -1l2 5l2 -11l2 13l2 -6l2 -6l2 12l2 -9l2 -2l2 12l2 -8l2 0l2 4l2 -2l2 0l2 -2l2 5l2 0l2 2l2 -3l2 2l2 -9l2 11l2 -12l2 4l2 8l2 -6l2 0l2 -2l2 6l2 -6l2 2l2 -1l2 -3l2 10l2 -7l2 2l2 0l2 5l2 -10l2 6l2 0l2 2l2 2l2 -8l2 -1l2 8l2 -3l2 -3l2 3l2 7l2 -11l2 13l2 -7l2 -8l2 8l2 -4l2 4l2 2l2 -4l2 3l2 3l2 -9l2 5l2 -6l2 14l2 -10l2 4l2 -4l2 -4l2 9l2 -1l2 -4l2 1l2 6l2 -5l2 -2l2 4l2 0l2 -2l2 -2l2 2l2 -8l2 8l2 -3l2 5l2 -4l2 0l2 2l2 0l2 -4l2 4l2 5l2 -5l2 2l2 -2l2 -6l2 6l2 1l2 4l2 -7l2 -2l2 4l2 -1l2 1l2 -4l2 0l2 6l2 -2l2 2l2 -5l2 7l2 -4l2 5l2 -3l2 1l2 -4l2 3l2 -2l2 4l2 -7l2 7l2 -10l2 10l2 -4l2 2l2 2l2 -4l2 -2l2 2l2 10l2 -10l2 -1l2 3l2 -2l2 -4l2 4l2 2l2 -4l2 7l2 -5l2 -1l2 3l2 8l2 -11l2 -1l2 10l2 -8l2 2l2 0l2 0l2 -4l2 2l2 3l2 3l2 0l2 -8l2 4l2 -2l2 2l2 2l2 -8l2 10l2 -8l2 0l2 2l2 -3l2 13l2 -14l2 5l2 5l2 -7l2 6l2 -9l2 9l2 3l2 -4l2 -4l2 6l2 -6l2 6l2 -6l2 4l2 0l2 0l2 0l2 -2l2 0l2 0l2 6l2 -4l2 1l2 1l2 -1l2 -3l2 2l2 7l2 -6l2 1l2 0l2 -6l2 6l2 -4l2 0l2 8l2 -4l2 1l2 -3l2 4l2 -4l2 0l2 2l2 1l2 2l2 -2l2 -7l2 6l2 3l2 -4l2 1l2 3l2 -7l2 6l2 -2l2 0l2 3l2 -1l2 0l2 2l2 -2l2 -2l2 6l2 -8l2 8l2 -8l2 4l2 -1l2 2l2 -8l2 14l2 -7l2 -4l2 2l2 0l2 4l2 0l2 -7l2 9l2 -5l2 1l2 0l2 4l2 -4l2 0l2 2l2 -4l2 4l2 0l2 -3l2 3l2 -3l2 4l2 5l2 -12l2 6l2 -4l2 4l2 -2l2 2l2 -2l2 2l2 3l2 -8l2 1l2 0l2 4l2 -6l2 10l2 -8l2 7l2 -10l2 11l2 -10l2 10l2 -8l2 1l2 8l2 -8l2 1l2 2l2 2l2 -10l2 6l2 -3l2 5l2 -1l2 -3l2 -2l2 12l2 -10l2 0l2 2l2 4l2 5l2 -12l2 12l2 -3l2 -1l2 -1l2 1l2 -3l2 -6l2 12l2 -3l2 -8l2 5l2 -2l2 0l2 4l2 -2l2 0l2 0l2 1l2 5l2 -12l2 6l2 6l2 -10l2 8l2 -15l2 7l2 -2l2 8l2 -7l2 2l2 5l2 -4l2 2l2 -16l2 18l2 0l2 -1l2 -12l2 5H959 V0 Z"/>
<path fill="#ff3000" d="M151 0V30l3 0l2 -5l2 5l2 -15l2 8l2 1l2 -3l2 4l2 3l2 -6l2 -1l2 1l2 3l2 7l2 -8l2 -4l2 -1l2 10l2 -2l2 -7l2 8l2 -10l2 0l2 4l2 2l2 -2l2 8l2 -6l2 4l2 -2l2 2l2 -4l2 -1l2 -3l2 0l2 1l2 -1l2 10l2 -16l2 12l2 -2l2 -8l2 0l2 -2l2 10l2 -9l2 3l2 4l2 -6l2 -4l2 8l2 -2l2 2l2 -4l2 0l2 0l2 8l2 -4l2 -2l2 6l2 -12l2 14l2 -6l2 -6l2 11l2 -8l2 -3l2 12l2 -8l2 0l2 4l2 -2l2 0l2 -2l2 5l2 -1l2 3l2 -3l2 2l2 -9l2 11l2 -12l2 4l2 9l2 -7l2 0l2 -2l2 6l2 -6l2 2l2 -1l2 -3l2 10l2 -7l2 2l2 0l2 5l2 -11l2 7l2 0l2 2l2 2l2 -8l2 0l2 7l2 -2l2 -3l2 2l2 8l2 -12l2 14l2 -8l2 -7l2 7l2 -4l2 4l2 2l2 -4l2 4l2 2l2 -8l2 4l2 -5l2 13l2 -10l2 4l2 -3l2 -4l2 8l2 0l2 -4l2 1l2 5l2 -4l2 -3l2 4l2 1l2 -3l2 -2l2 3l2 -9l2 8l2 -2l2 5l2 -5l2 0l2 2l2 1l2 -5l2 4l2 6l2 -5l2 1l2 -2l2 -6l2 7l2 1l2 4l2 -8l2 -2l2 4l2 -1l2 1l2 -4l2 1l2 5l2 -2l2 2l2 -4l2 7l2 -5l2 6l2 -4l2 2l2 -4l2 2l2 0l2 3l2 -7l2 6l2 -10l2 10l2 -4l2 2l2 4l2 -4l2 -3l2 1l2 10l2 -8l2 -2l2 4l2 -4l2 -2l2 4l2 2l2 -6l2 8l2 -4l2 -2l2 3l2 8l2 -11l2 -2l2 10l2 -6l2 2l2 0l2 -2l2 -3l2 1l2 4l2 3l2 0l2 -9l2 4l2 -2l2 2l2 2l2 -8l2 10l2 -8l2 0l2 3l2 -4l2 13l2 -14l2 5l2 5l2 -7l2 5l2 -8l2 9l2 4l2 -5l2 -3l2 5l2 -6l2 6l2 -6l2 4l2 0l2 0l2 0l2 -2l2 0l2 0l2 6l2 -4l2 1l2 1l2 -1l2 -3l2 2l2 7l2 -6l2 1l2 0l2 -5l2 5l2 -4l2 0l2 8l2 -4l2 2l2 -4l2 4l2 -4l2 2l2 1l2 1l2 2l2 -2l2 -8l2 7l2 3l2 -4l2 1l2 3l2 -7l2 6l2 -2l2 -1l2 4l2 -2l2 0l2 2l2 -2l2 -2l2 6l2 -8l2 8l2 -8l2 4l2 -1l2 2l2 -8l2 14l2 -7l2 -4l2 2l2 0l2 4l2 0l2 -7l2 9l2 -4l2 1l2 -1l2 4l2 -4l2 0l2 2l2 -4l2 5l2 -1l2 -2l2 4l2 -4l2 4l2 5l2 -12l2 3l2 -2l2 5l2 -3l2 4l2 -4l2 3l2 3l2 -8l2 0l2 1l2 -1l2 -2l2 8l2 -5l2 7l2 -10l2 -2l2 -5l2 14l2 -10l2 -13l2 14l2 -4l2 -9l2 3l2 10l2 -26l2 0l2 0l2 16l2 -16l2 14l2 -14l2 0l2 0l2 0l2 8l2 4l2 -12l2 0l2 0l2 0l2 0l2 0l2 0l2 0l2 0l2 0l2 0l2 0l2 0l2 0l2 0l2 0l2 0l2 0l2 0l2 0l2 0l2 0l2 0l2 0l2 0l2 0l2 0l2 0l2 0l2 0l2 0l2 0l2 0l2 0l2 0l2 0l2 0l2 0l2 0l2 0l2 0H959 V0 Z"/>
<path fill="#ff1000" d="M151 0V28l3 0l2 -4l2 4l2 -14l2 8l2 0l2 -2l2 4l2 3l2 -6l2 -1l2 0l2 4l2 8l2 -9l2 -5l2 0l2 10l2 -2l2 -8l2 8l2 -9l2 0l2 5l2 0l2 -1l2 7l2 -6l2 4l2 -2l2 2l2 -4l2 0l2 -3l2 -1l2 2l2 -2l2 11l2 -17l2 12l2 -2l2 -8l2 0l2 -2l2 11l2 -9l2 3l2 4l2 -6l2 -5l2 8l2 -2l2 2l2 -4l2 0l2 0l2 8l2 -4l2 -2l2 6l2 -12l2 14l2 -6l2 -6l2 12l2 -9l2 -3l2 12l2 -8l2 0l2 4l2 -2l2 0l2 -2l2 5l2 -1l2 3l2 -4l2 2l2 -8l2 11l2 -12l2 4l2 8l2 -6l2 0l2 -2l2 6l2 -6l2 2l2 -1l2 -3l2 10l2 -7l2 2l2 0l2 5l2 -11l2 7l2 0l2 2l2 2l2 -8l2 0l2 7l2 -3l2 -2l2 2l2 7l2 -11l2 13l2 -7l2 -8l2 8l2 -4l2 4l2 2l2 -4l2 3l2 3l2 -8l2 4l2 -6l2 14l2 -10l2 4l2 -3l2 -4l2 7l2 0l2 -4l2 2l2 4l2 -4l2 -2l2 4l2 0l2 -2l2 -2l2 2l2 -8l2 7l2 -2l2 5l2 -4l2 0l2 2l2 0l2 -4l2 4l2 5l2 -5l2 2l2 -2l2 -6l2 7l2 1l2 4l2 -8l2 -2l2 4l2 -1l2 1l2 -4l2 1l2 5l2 -2l2 2l2 -4l2 7l2 -5l2 6l2 -4l2 2l2 -4l2 2l2 0l2 3l2 -7l2 6l2 -10l2 10l2 -4l2 2l2 4l2 -4l2 -3l2 1l2 10l2 -8l2 -2l2 4l2 -4l2 -2l2 4l2 2l2 -5l2 7l2 -4l2 -2l2 3l2 8l2 -11l2 -2l2 10l2 -6l2 2l2 0l2 -2l2 -3l2 1l2 4l2 2l2 0l2 -8l2 4l2 -2l2 2l2 2l2 -8l2 10l2 -8l2 0l2 3l2 -4l2 13l2 -14l2 4l2 5l2 -7l2 6l2 -8l2 8l2 4l2 -5l2 -3l2 5l2 -6l2 6l2 -6l2 3l2 2l2 -1l2 0l2 -2l2 -1l2 0l2 6l2 -4l2 1l2 1l2 -1l2 -4l2 3l2 6l2 -6l2 2l2 0l2 -6l2 6l2 -5l2 -1l2 9l2 -5l2 0l2 -3l2 5l2 -6l2 2l2 1l2 -1l2 9l2 -5l2 -17l2 9l2 14l2 -14l2 -6l2 20l2 -32l2 0l2 18l2 -18l2 18l2 -2l2 0l2 -16l2 18l2 -6l2 17l2 -29l2 0l2 0l2 0l2 0l2 0l2 0l2 0l2 0l2 9l2 -9l2 0l2 0l2 0l2 0l2 0l2 0l2 0l2 0l2 0l2 0l2 0l2 0l2 0l2 0l2 0l2 0l2 0l2 0l2 0l2 0l2 0l2 0l2 0l2 0l2 0l2 0l2 0l2 0l2 0l2 0l2 0l2 0l2 0l2 0l2 0l2 0l2 0l2 0l2 0l2 0l2 0l2 0l2 0l2 0l2 0l2 0l2 0l2 0l2 0l2 0l2 0l2 0l2 0l2 0l2 0l2 0l2 0l2 0l2 0l2 0l2 0l2 0l2 0l2 0l2 0l2 0l2 0l2 0l2 0l2 0l2 0l2 0l2 0l2 0l2 0l2 0l2 0l2 0l2 0l2 0l2 0l2 0l2 0l2 0l2 0l2 0l2 0l2 0l2 0l2 0l2 0l2 0l2 0l2 0l2 0l2 0l2 0l2 0l2 0l2 0l2 0H959 V0 Z"/>
<path fill="#ef0000" d="M151 0V27l3 0l2 -5l2 4l2 -14l2 8l2 1l2 -3l2 4l2 4l2 -7l2 -1l2 0l2 4l2 8l2 -8l2 -6l2 0l2 10l2 -2l2 -8l2 8l2 -9l2 0l2 5l2 0l2 -1l2 7l2 -6l2 4l2 -1l2 1l2 -4l2 0l2 -4l2 0l2 2l2 -2l2 11l2 -17l2 12l2 -2l2 -8l2 0l2 -2l2 11l2 -9l2 3l2 4l2 -5l2 -6l2 9l2 -3l2 2l2 -3l2 0l2 -1l2 8l2 -4l2 -2l2 6l2 -12l2 14l2 -7l2 -6l2 12l2 -9l2 -2l2 10l2 -8l2 0l2 4l2 -1l2 0l2 -3l2 5l2 -3l2 5l2 -5l2 2l2 -7l2 11l2 -10l2 2l2 10l2 -8l2 1l2 -3l2 6l2 -6l2 2l2 0l2 -4l2 11l2 -6l2 1l2 0l2 5l2 -11l2 8l2 0l2 2l2 2l2 -8l2 0l2 7l2 -3l2 -2l2 2l2 7l2 -11l2 13l2 -7l2 -8l2 8l2 -4l2 4l2 2l2 -4l2 3l2 3l2 -9l2 5l2 -6l2 14l2 -10l2 4l2 -4l2 -4l2 8l2 0l2 -4l2 1l2 5l2 -4l2 -2l2 4l2 0l2 -3l2 -2l2 3l2 -9l2 7l2 -2l2 6l2 -5l2 -1l2 2l2 2l2 -5l2 4l2 5l2 -4l2 1l2 -1l2 -6l2 7l2 1l2 4l2 -7l2 -3l2 4l2 -1l2 1l2 -4l2 1l2 5l2 -1l2 1l2 -4l2 7l2 -5l2 6l2 -4l2 2l2 -4l2 2l2 0l2 3l2 -7l2 6l2 -10l2 10l2 -4l2 2l2 4l2 -4l2 -3l2 1l2 10l2 -8l2 -2l2 4l2 -4l2 -2l2 4l2 2l2 -5l2 7l2 -4l2 -2l2 2l2 9l2 -11l2 -2l2 10l2 -6l2 1l2 0l2 -1l2 -4l2 2l2 4l2 2l2 0l2 -8l2 3l2 -3l2 2l2 4l2 -8l2 9l2 -8l2 -1l2 5l2 -11l2 13l2 -7l2 -3l2 -13l2 14l2 -2l2 -12l2 0l2 20l2 -20l2 8l2 8l2 -6l2 -10l2 0l2 0l2 0l2 10l2 2l2 -12l2 0l2 0l2 0l2 0l2 0l2 0l2 0l2 0l2 0l2 0l2 0l2 0l2 0l2 0l2 0l2 0l2 0l2 0l2 0l2 0l2 0l2 0l2 0l2 0l2 0l2 0l2 0l2 0l2 0l2 0l2 0l2 0l2 0l2 0l2 0l2 0l2 0l2 0l2 0l2 0l2 0l2 0l2 0l2 0l2 0l2 0l2 0l2 0l2 0l2 0l2 0l2 0l2 0l2 0l2 0l2 0l2 0l2 0l2 0l2 0l2 0l2 0l2 0l2 0l2 0l2 0l2 0l2 0l2 0l2 0l2 0l2 0l2 0l2 0l2 0l2 0l2 0l2 0l2 0l2 0l2 0l2 0l2 0l2 0l2 0l2 0l2 0l2 0l2 0l2 0l2 0l2 0l2 0l2 0l2 0l2 0l2 0l2 0l2 0l2 0l2 0l2 0l2 0l2 0l2 0l2 0l2 0l2 0l2 0l2 0l2 0l2 0l2 0l2 0l2 0l2 0l2 0l2 0l2 0l2 0l2 0l2 0l2 0l2 0l2 0l2 0l2 0l2 0l2 0l2 0l2 0l2 0l2 0l2 0l2 0l2 0l2 0l2 0l2 0l2 0l2 0l2 0l2 0l2 0l2 0l2 0l2 0l2 0l2 0l2 0l2 0l2 0l2 0l2 0l2 0l2 0l2 0H959 V0 Z"/>
<path fill="#cf0000" d="M151 0V24l3 0l2 -4l2 4l2 -14l2 8l2 0l2 -2l2 4l2 3l2 -6l2 -1l2 0l2 4l2 7l2 -8l2 -5l2 0l2 10l2 -2l2 -8l2 8l2 -9l2 -1l2 5l2 1l2 -1l2 7l2 -6l2 4l2 -2l2 2l2 -4l2 0l2 -4l2 0l2 2l2 -2l2 10l2 -24l2 20l2 -2l2 -8l2 0l2 -10l2 19l2 -11l2 4l2 4l2 -4l2 -12l2 14l2 -2l2 2l2 -3l2 -1l2 0l2 6l2 -4l2 -1l2 3l2 -14l2 18l2 -8l2 -10l2 16l2 -16l2 0l2 14l2 -14l2 0l2 0l2 0l2 0l2 0l2 0l2 0l2 0l2 0l2 0l2 0l2 0l2 0l2 0l2 14l2 -14l2 0l2 0l2 0l2 0l2 0l2 0l2 0l2 0l2 0l2 0l2 0l2 0l2 0l2 9l2 1l2 2l2 1l2 -13l2 0l2 14l2 -3l2 -2l2 3l2 8l2 -20l2 23l2 -9l2 -14l2 15l2 -4l2 3l2 4l2 -5l2 5l2 2l2 -8l2 5l2 -5l2 14l2 -10l2 3l2 -3l2 -6l2 8l2 0l2 -4l2 2l2 2l2 -2l2 -3l2 3l2 1l2 -6l2 -1l2 0l2 -10l2 0l2 0l2 10l2 -10l2 0l2 0l2 9l2 -9l2 0l2 0l2 0l2 0l2 0l2 0l2 9l2 -9l2 0l2 0l2 0l2 0l2 0l2 0l2 0l2 0l2 0l2 12l2 -2l2 -10l2 14l2 -2l2 8l2 -20l2 12l2 -12l2 14l2 6l2 0l2 -6l2 2l2 -4l2 10l2 -5l2 2l2 4l2 -3l2 -3l2 1l2 10l2 -8l2 -2l2 4l2 -4l2 -2l2 4l2 2l2 -6l2 8l2 -4l2 -2l2 2l2 8l2 -10l2 -18l2 26l2 -7l2 -3l2 -4l2 -12l2 0l2 0l2 0l2 0l2 0l2 0l2 0l2 0l2 0l2 0l2 0l2 0l2 0l2 0l2 0l2 0l2 0l2 0l2 0l2 0l2 0l2 0l2 0l2 0l2 0l2 0l2 0l2 0l2 0l2 0l2 0l2 0l2 0l2 0l2 0l2 0l2 0l2 0l2 0l2 0l2 0l2 0l2 0l2 0l2 0l2 0l2 0l2 0l2 0l2 0l2 0l2 0l2 0l2 0l2 0l2 0l2 0l2 0l2 0l2 0l2 0l2 0l2 0l2 0l2 0l2 0l2 0l2 0l2 0l2 0l2 0l2 0l2 0l2 0l2 0l2 0l2 0l2 0l2 0l2 0l2 0l2 0l2 0l2 0l2 0l2 0l2 0l2 0l2 0l2 0l2 0l2 0l2 0l2 0l2 0l2 0l2 0l2 0l2 0l2 0l2 0l2 0l2 0l2 0l2 0l2 0l2 0l2 0l2 0l2 0l2 0l2 0l2 0l2 0l2 0l2 0l2 0l2 0l2 0l2 0l2 0l2 0l2 0l2 0l2 0l2 0l2 0l2 0l2 0l2 0l2 0l2 0l2 0l2 0l2 0l2 0l2 0l2 0l2 0l2 0l2 0l2 0l2 0l2 0l2 0l2 0l2 0l2 0l2 0l2 0l2 0l2 0l2 0l2 0l2 0l2 0l2 0l2 0l2 0l2 0l2 0l2 0l2 0l2 0l2 0l2 0l2 0l2 0l2 0l2 0l2 0l2 0l2 0l2 0l2 0l2 0l2 0l2 0l2 0l2 0l2 0l2 0l2 0l2 0l2 0l2 0l2 0l2 0l2 0l2 0l2 0l2 0l2 0H959 V0 Z"/>
<path fill="#af0000" d="M151 0V22l3 0l2 -8l2 4l2 -18l2 15l2 -1l2 -4l2 5l2 5l2 -9l2 -1l2 2l2 3l2 7l2 -8l2 -6l2 -8l2 20l2 -3l2 -5l2 5l2 -17l2 0l2 11l2 1l2 -2l2 6l2 -6l2 5l2 -1l2 3l2 -17l2 0l2 0l2 0l2 0l2 0l2 0l2 0l2 0l2 0l2 0l2 0l2 0l2 0l2 0l2 0l2 0l2 0l2 0l2 0l2 0l2 0l2 0l2 0l2 0l2 0l2 0l2 0l2 0l2 0l2 0l2 0l2 0l2 0l2 0l2 0l2 0l2 0l2 0l2 0l2 0l2 0l2 0l2 0l2 0l2 0l2 0l2 0l2 0l2 0l2 0l2 0l2 0l2 0l2 0l2 0l2 0l2 0l2 0l2 0l2 0l2 0l2 0l2 0l2 0l2 0l2 0l2 0l2 0l2 0l2 0l2 0l2 0l2 0l2 0l2 0l2 0l2 0l2 0l2 0l2 0l2 0l2 0l2 0l2 0l2 0l2 0l2 10l2 4l2 -14l2 10l2 -10l2 19l2 -9l2 2l2 -4l2 -8l2 0l2 0l2 0l2 0l2 0l2 0l2 0l2 0l2 0l2 0l2 0l2 0l2 0l2 0l2 0l2 0l2 0l2 0l2 0l2 0l2 0l2 0l2 0l2 0l2 0l2 0l2 0l2 0l2 0l2 0l2 0l2 0l2 0l2 0l2 0l2 0l2 0l2 0l2 0l2 0l2 0l2 0l2 0l2 0l2 0l2 0l2 0l2 0l2 0l2 0l2 0l2 0l2 0l2 0l2 0l2 0l2 0l2 0l2 0l2 0l2 0l2 0l2 0l2 0l2 0l2 0l2 0l2 0l2 0l2 0l2 0l2 0l2 0l2 0l2 0l2 0l2 0l2 0l2 0l2 0l2 0l2 0l2 0l2 0l2 0l2 0l2 0l2 0l2 0l2 0l2 0l2 0l2 0l2 0l2 0l2 0l2 0l2 0l2 0l2 0l2 0l2 0l2 0l2 0l2 0l2 0l2 0l2 0l2 0l2 0l2 0l2 0l2 0l2 0l2 0l2 0l2 0l2 0l2 0l2 0l2 0l2 0l2 0l2 0l2 0l2 0l2 0l2 0l2 0l2 0l2 0l2 0l2 0l2 0l2 0l2 0l2 0l2 0l2 0l2 0l2 0l2 0l2 0l2 0l2 0l2 0l2 0l2 0l2 0l2 0l2 0l2 0l2 0l2 0l2 0l2 0l2 0l2 0l2 0l2 0l2 0l2 0l2 0l2 0l2 0l2 0l2 0l2 0l2 0l2 0l2 0l2 0l2 0l2 0l2 0l2 0l2 0l2 0l2 0l2 0l2 0l2 0l2 0l2 0l2 0l2 0l2 0l2 0l2 0l2 0l2 0l2 0l2 0l2 0l2 0l2 0l2 0l2 0l2 0l2 0l2 0l2 0l2 0l2 0l2 0l2 0l2 0l2 0l2 0l2 0l2 0l2 0l2 0l2 0l2 0l2 0l2 0l2 0l2 0l2 0l2 0l2 0l2 0l2 0l2 0l2 0l2 0l2 0l2 0l2 0l2 0l2 0l2 0l2 0l2 0l2 0l2 0l2 0l2 0l2 0l2 0l2 0l2 0l2 0l2 0l2 0l2 0l2 0l2 0l2 0l2 0l2 0l2 0l2 0l2 0l2 0l2 0l2 0l2 0l2 0l2 0l2 0l2 0l2 0l2 0l2 0l2 0l2 0l2 0l2 0l2 0l2 0l2 0l2 0H959 V0 Z"/>
<path fill="#0010ff" d="M154 8h1v2h-1zM156 8h1v1h-1zM159 8h2v1h-2zM162 8h1v1h-1zM164 8h1v1h-1zM172 8h1v1h-1zM175 8h1v1h-1zM184 8h1v1h-1zM188 8h2v1h-2zM192 8h2v1h-2zM196 8h2v2h-2zM199 8h2v1h-2zM205 8h2v1h-2zM208 8h1v2h-1zM210 8h1v1h-1zM212 8h1v2h-1zM217 8h2v2h-2zM220 8h1v1h-1zM222 8h1v1h-1zM224 8h1v1h-1zM227 8h2v2h-2zM230 8h2v2h-2zM237 8h2v1h-2zM240 8h2v1h-2zM248 8h1v2h-1zM260 8h2v2h-2zM264 8h1v1h-1zM266 8h1v1h-1zM272 8h1v1h-1zM275 8h1v1h-1zM277 8h2v1h-2zM280 8h2v2h-2zM283 8h2v2h-2zM287 8h1v1h-1zM299 8h2v2h-2zM303 8h1v2h-1zM308 8h1v1h-1zM310 8h2v1h-2zM313 8h2v1h-2zM316 8h2v2h-2zM319 8h1v2h-1zM324 8h1v1h-1zM327 8h1v1h-1zM336 8h1v1h-1zM338 8h1v2h-1zM341 8h1v1h-1zM343 8h1v2h-1zM346 8h1v1h-1zM349 8h2v1h-2zM355 8h2v1h-2zM358 8h2v2h-2zM362 8h2v2h-2zM365 8h2v1h-2zM369 8h1v2h-1zM372 8h1v2h-1zM375 8h1v1h-1zM377 8h1v1h-1zM380 8h1v1h-1zM382 8h2v2h-2zM386 8h2v1h-2zM390 8h1v2h-1zM393 8h2v2h-2zM399 8h1v2h-1zM402 8h1v1h-1zM404 8h1v2h-1zM406 8h1v1h-1zM409 8h2v1h-2zM413 8h1v2h-1zM415 8h1v1h-1zM418 8h1v2h-1zM426 8h1v2h-1zM429 8h1v1h-1zM431 8h2v1h-2zM437 8h1v1h-1zM445 8h1v2h-1zM448 8h2v1h-2zM452 8h1v1h-1zM458 8h1v2h-1zM469 8h2v1h-2zM476 8h2v2h-2zM480 8h2v1h-2zM484 8h1v1h-1zM489 8h2v1h-2zM492 8h2v1h-2zM495 8h1v2h-1zM497 8h1v1h-1zM499 8h1v1h-1zM501 8h1v1h-1zM503 8h1v1h-1zM505 8h2v1h-2zM509 8h1v1h-1zM511 8h1v1h-1zM513 8h1v1h-1zM516 8h1v2h-1zM522 8h2v1h-2zM526 8h2v2h-2zM529 8h1v2h-1zM532 8h1v1h-1zM536 8h1v2h-1zM539 8h2v1h-2zM546 8h1v1h-1zM548 8h1v2h-1zM550 8h2v1h-2zM554 8h1v1h-1zM557 8h2v2h-2zM560 8h2v1h-2zM563 8h1v1h-1zM568 8h1v1h-1zM571 8h2v1h-2zM574 8h2v1h-2zM577 8h1v2h-1zM579 8h2v1h-2zM582 8h2v1h-2zM585 8h2v1h-2zM589 8h2v2h-2zM593 8h2v1h-2zM597 8h1v2h-1zM600 8h1v2h-1zM603 8h2v1h-2zM609 8h2v1h-2zM612 8h2v1h-2zM615 8h1v1h-1zM618 8h2v1h-2zM621 8h2v2h-2zM625 8h1v1h-1zM628 8h2v2h-2zM632 8h1v1h-1zM635 8h2v1h-2zM642 8h2v2h-2zM649 8h2v1h-2zM661 8h2v2h-2zM664 8h2v2h-2zM667 8h2v1h-2zM670 8h1v1h-1zM672 8h1v2h-1zM674 8h1v2h-1zM677 8h2v1h-2zM680 8h2v2h-2zM691 8h2v1h-2zM694 8h2v1h-2zM698 8h1v1h-1zM703 8h2v1h-2zM706 8h1v1h-1zM712 8h1v1h-1zM714 8h1v2h-1zM717 8h1v1h-1zM720 8h1v1h-1zM723 8h2v2h-2zM730 8h1v1h-1zM733 8h1v1h-1zM736 8h1v1h-1zM738 8h1v1h-1zM741 8h1v2h-1zM744 8h1v1h-1zM746 8h1v2h-1zM749 8h1v1h-1zM752 8h1v1h-1zM757 8h2v2h-2zM764 8h1v1h-1zM773 8h2v1h-2zM779 8h2v1h-2zM787 8h2v1h-2zM793 8h1v1h-1zM795 8h2v2h-2zM799 8h2v2h-2zM802 8h2v2h-2zM806 8h2v1h-2zM809 8h2v1h-2zM813 8h1v2h-1zM818 8h2v1h-2zM822 8h1v1h-1zM825 8h1v1h-1zM831 8h1v1h-1zM834 8h1v1h-1zM837 8h1v2h-1zM840 8h2v1h-2zM844 8h2v1h-2zM848 8h2v1h-2zM851 8h1v1h-1zM856 8h2v1h-2zM860 8h1v2h-1zM862 8h1v2h-1zM864 8h2v1h-2zM875 8h1v1h-1zM877 8h1v2h-1zM879 8h2v2h-2zM883 8h1v1h-1zM886 8h2v1h-2zM890 8h2v1h-2zM897 8h2v1h-2zM903 8h2v1h-2zM907 8h2v1h-2zM911 8h1v1h-1zM914 8h1v1h-1zM917 8h1v1h-1zM919 8h2v1h-2zM923 8h2v2h-2zM926 8h1v1h-1zM929 8h2v2h-2zM933 8h1v1h-1zM937 8h2v1h-2zM941 8h1v1h-1zM945 8h1v1h-1zM947 8h1v1h-1zM950 8h1v2h-1zM952 8h1v1h-1zM954 8h1v1h-1z"/>
<use href="#mask"/>
<circle shape-rendering="auto" fill="#0038ff" cx="166.5" cy="86" r="2.5"/><circle shape-rendering="auto" fill="#0038ff" cx="173.5" cy="91.5" r="2.5"/><circle shape-rendering="auto" fill="#0038ff" cx="240.5" cy="114" r="2.2"/><circle shape-rendering="auto" fill="#0038ff" cx="248" cy="111" r="1.8"/><circle shape-rendering="auto" fill="#0038ff" cx="267.5" cy="114" r="2"/><circle shape-rendering="auto" fill="#0038ff" cx="723.5" cy="137" r="2"/>
</g>
<g transform="translate(0,253)" shape-rendering="crispEdges">
<rect x="150" y="0" width="810" height="200" fill="#0010ff"/>
<path fill="#0030ff" d="M151 200V28l3 0l2 0l2 6l2 -12l2 -2l2 3l2 1l2 1l2 -1l2 1l2 -3l2 -2l2 4l2 8l2 -10l2 -2l2 -1l2 3l2 2l2 -12l2 12l2 -6l2 2l2 2l2 1l2 -2l2 9l2 -6l2 1l2 -3l2 0l2 6l2 -5l2 -1l2 -2l2 0l2 0l2 11l2 -21l2 12l2 0l2 -7l2 3l2 2l2 4l2 -4l2 2l2 2l2 -9l2 -1l2 6l2 -2l2 -2l2 -3l2 4l2 -3l2 7l2 -5l2 -2l2 8l2 -14l2 7l2 -1l2 -6l2 6l2 -6l2 0l2 6l2 -5l2 2l2 0l2 -3l2 0l2 0l2 0l2 5l2 -5l2 0l2 0l2 0l2 0l2 0l2 0l2 0l2 0l2 0l2 0l2 0l2 0l2 0l2 0l2 0l2 0l2 0l2 0l2 0l2 0l2 0l2 0l2 0l2 0l2 0l2 0l2 0l2 0l2 0l2 0l2 0l2 0l2 0l2 0l2 0l2 0l2 0l2 0l2 0l2 0l2 0l2 0l2 0l2 0l2 0l2 0l2 0l2 0l2 0l2 0l2 0l2 0l2 0l2 0l2 0l2 0l2 0l2 0l2 0l2 0l2 0l2 0l2 0l2 0l2 0l2 0l2 0l2 0l2 0l2 0l2 0l2 0l2 0l2 0l2 0l2 0l2 0l2 0l2 0l2 0l2 0l2 0l2 0l2 0l2 0l2 0l2 0l2 0l2 0l2 0l2 0l2 0l2 0l2 0l2 0l2 0l2 0l2 0l2 0l2 0l2 0l2 0l2 0l2 0l2 0l2 0l2 0l2 0l2 0l2 0l2 0l2 0l2 0l2 0l2 0l2 0l2 0l2 0l2 0l2 0l2 0l2 0l2 0l2 0l2 0l2 0l2 0l2 0l2 0l2 0l2 0l2 0l2 0l2 0l2 0l2 0l2 0l2 0l2 0l2 0l2 0l2 0l2 0l2 0l2 0l2 0l2 0l2 0l2 0l2 0l2 0l2 0l2 0l2 0l2 0l2 0l2 0l2 0l2 0l2 0l2 0l2 0l2 0l2 0l2 0l2 0l2 0l2 0l2 0l2 0l2 0l2 0l2 0l2 0l2 0l2 0l2 0l2 0l2 0l2 0l2 0l2 0l2 0l2 0l2 0l2 0l2 0l2 0l2 0l2 0l2 0l2 0l2 0l2 0l2 0l2 0l2 0l2 0l2 0l2 0l2 0l2 0l2 0l2 0l2 0l2 0l2 0l2 0l2 0l2 0l2 0l2 0l2 0l2 0l2 0l2 0l2 0l2 0l2 0l2 0l2 0l2 0l2 0l2 0l2 0l2 0l2 0l2 0l2 0l2 0l2 0l2 0l2 0l2 0l2 0l2 0l2 0l2 0l2 0l2 0l2 0l2 0l2 0l2 0l2 0l2 0l2 0l2 0l2 0l2 0l2 0l2 0l2 0l2 0l2 0l2 0l2 0l2 0l2 0l2 0l2 0l2 0l2 0l2 0l2 0l2 0l2 0l2 0l2 0l2 0l2 0l2 0l2 0l2 0l2 0l2 0l2 0l2 0l2 0l2 0l2 0l2 0l2 0l2 0l2 0l2 0l2 0l2 0l2 0l2 0l2 0l2 0l2 0l2 0l2 0l2 0l2 0l2 0l2 0l2 0l2 0l2 0l2 0l2 0l2 0l2 0l2 0l2 0l2 0l2 0l2 0l2 0l2 0l2 0l2 0l2 0l2 0l2 0l2 0l2 0l2 0l2 0l2 0l2 0l2 0H959 V200 Z"/>
<path fill="#0050ff" d="M151 200V37l3 0l2 -2l2 5l2 -13l2 4l2 1l2 0l2 2l2 1l2 -3l2 -1l2 -1l2 4l2 6l2 -7l2 -3l2 -1l2 6l2 -1l2 -6l2 7l2 -6l2 0l2 3l2 2l2 -2l2 8l2 -6l2 2l2 -2l2 1l2 1l2 -2l2 -2l2 -1l2 1l2 -1l2 10l2 -16l2 11l2 -2l2 -6l2 1l2 -1l2 8l2 -6l2 2l2 4l2 -6l2 -4l2 8l2 -2l2 0l2 -3l2 1l2 0l2 6l2 -4l2 -2l2 6l2 -14l2 10l2 -2l2 -10l2 10l2 -6l2 -1l2 7l2 -4l2 2l2 0l2 -4l2 -2l2 -2l2 5l2 7l2 -6l2 -2l2 2l2 -10l2 11l2 -15l2 5l2 0l2 -3l2 1l2 -1l2 8l2 -9l2 1l2 -2l2 0l2 2l2 -6l2 3l2 -1l2 2l2 -4l2 0l2 0l2 0l2 0l2 0l2 0l2 0l2 0l2 0l2 0l2 0l2 0l2 0l2 0l2 0l2 0l2 0l2 0l2 0l2 0l2 0l2 0l2 0l2 0l2 0l2 0l2 0l2 0l2 0l2 0l2 0l2 0l2 0l2 0l2 0l2 0l2 0l2 0l2 0l2 0l2 0l2 0l2 0l2 0l2 0l2 0l2 0l2 0l2 0l2 0l2 0l2 0l2 0l2 0l2 0l2 0l2 0l2 0l2 0l2 0l2 0l2 0l2 0l2 0l2 0l2 0l2 0l2 0l2 0l2 0l2 0l2 0l2 0l2 0l2 0l2 0l2 0l2 0l2 0l2 0l2 0l2 0l2 0l2 0l2 0l2 0l2 0l2 0l2 0l2 0l2 0l2 0l2 0l2 0l2 0l2 0l2 0l2 0l2 0l2 0l2 0l2 0l2 0l2 0l2 0l2 0l2 0l2 0l2 0l2 0l2 0l2 0l2 0l2 0l2 0l2 0l2 0l2 0l2 0l2 0l2 0l2 0l2 0l2 0l2 0l2 0l2 0l2 0l2 0l2 0l2 0l2 0l2 0l2 0l2 0l2 0l2 0l2 0l2 0l2 0l2 5l2 -5l2 0l2 0l2 0l2 0l2 0l2 4l2 -2l2 7l2 -9l2 4l2 2l2 -2l2 3l2 1l2 4l2 -8l2 -1l2 0l2 -3l2 6l2 -4l2 2l2 4l2 2l2 0l2 -4l2 1l2 0l2 -2l2 3l2 1l2 -5l2 0l2 0l2 4l2 -3l2 -1l2 4l2 -4l2 2l2 5l2 -6l2 3l2 0l2 -2l2 0l2 6l2 -7l2 -1l2 0l2 -2l2 10l2 -4l2 3l2 -4l2 3l2 -10l2 12l2 -2l2 -10l2 8l2 -2l2 -1l2 2l2 1l2 4l2 -11l2 0l2 -1l2 4l2 10l2 -6l2 9l2 -9l2 2l2 -5l2 -5l2 5l2 1l2 5l2 -1l2 -6l2 15l2 -9l2 -1l2 4l2 -5l2 -8l2 5l2 1l2 -6l2 4l2 -4l2 5l2 -5l2 0l2 0l2 0l2 0l2 0l2 0l2 0l2 0l2 0l2 0l2 0l2 0l2 0l2 0l2 0l2 0l2 0l2 0l2 0l2 0l2 0l2 0l2 0l2 0l2 0l2 0l2 0l2 0l2 0l2 0l2 0l2 0l2 0l2 0l2 0l2 0l2 0l2 0l2 0l2 0l2 0l2 0l2 0l2 0l2 0l2 0l2 0l2 0l2 0l2 0l2 0l2 0l2 0l2 0l2 0l2 0l2 0l2 0l2 0l2 0l2 0l2 0l2 0l2 0l2 0l2 0l2 0H959 V200 Z"/>
<path fill="#0070ff" d="M151 200V42l3 0l2 -2l2 5l2 -13l2 4l2 1l2 0l2 1l2 2l2 -2l2 -2l2 -1l2 3l2 8l2 -8l2 -4l2 0l2 6l2 -1l2 -7l2 8l2 -6l2 0l2 2l2 2l2 -2l2 8l2 -6l2 2l2 -2l2 1l2 2l2 -3l2 -2l2 0l2 0l2 0l2 10l2 -16l2 10l2 -2l2 -6l2 2l2 0l2 7l2 -7l2 3l2 3l2 -7l2 -3l2 8l2 -2l2 0l2 -3l2 1l2 -1l2 7l2 -4l2 -2l2 6l2 -12l2 10l2 -3l2 -7l2 10l2 -7l2 -2l2 9l2 -6l2 2l2 2l2 -4l2 0l2 -2l2 4l2 3l2 -1l2 -2l2 2l2 -9l2 11l2 -12l2 3l2 3l2 -2l2 0l2 -2l2 7l2 -7l2 2l2 -2l2 0l2 2l2 -7l2 5l2 0l2 2l2 -8l2 3l2 -4l2 3l2 5l2 -5l2 -10l2 8l2 2l2 -6l2 -2l2 8l2 -5l2 3l2 -2l2 -5l2 4l2 -1l2 2l2 2l2 2l2 -5l2 3l2 -10l2 4l2 -6l2 10l2 -6l2 6l2 -4l2 0l2 8l2 -4l2 -3l2 -3l2 10l2 -10l2 -4l2 2l2 -4l2 0l2 0l2 0l2 0l2 0l2 0l2 0l2 0l2 0l2 0l2 0l2 0l2 0l2 0l2 0l2 0l2 0l2 0l2 0l2 0l2 0l2 0l2 0l2 0l2 0l2 0l2 0l2 0l2 0l2 0l2 0l2 0l2 0l2 0l2 0l2 0l2 0l2 0l2 0l2 0l2 0l2 0l2 4l2 -4l2 0l2 0l2 2l2 2l2 -4l2 0l2 1l2 9l2 -10l2 4l2 0l2 -1l2 -1l2 0l2 5l2 -7l2 10l2 -6l2 -2l2 6l2 3l2 -7l2 6l2 0l2 -8l2 6l2 2l2 -1l2 3l2 -2l2 0l2 6l2 -4l2 -10l2 14l2 -3l2 -1l2 -1l2 -7l2 11l2 -7l2 0l2 -4l2 3l2 11l2 -15l2 8l2 7l2 -10l2 8l2 -2l2 6l2 -2l2 -1l2 -3l2 2l2 -4l2 14l2 -8l2 2l2 0l2 -4l2 0l2 6l2 0l2 0l2 5l2 -7l2 4l2 0l2 -1l2 -1l2 2l2 4l2 -4l2 0l2 -1l2 -4l2 5l2 -4l2 2l2 5l2 -1l2 0l2 -4l2 4l2 -3l2 1l2 1l2 1l2 0l2 -1l2 -5l2 5l2 1l2 -2l2 1l2 1l2 -4l2 5l2 -3l2 0l2 2l2 -1l2 1l2 2l2 -2l2 -2l2 4l2 -6l2 8l2 -7l2 3l2 -1l2 2l2 -7l2 11l2 -5l2 -5l2 3l2 0l2 2l2 1l2 -5l2 7l2 -5l2 0l2 0l2 3l2 -1l2 0l2 3l2 -5l2 3l2 -1l2 -2l2 2l2 -2l2 4l2 2l2 -8l2 6l2 -4l2 3l2 -1l2 1l2 -3l2 2l2 2l2 -6l2 2l2 -1l2 3l2 -5l2 9l2 -10l2 6l2 -9l2 13l2 -10l2 6l2 -8l2 5l2 3l2 -10l2 2l2 0l2 -3l2 -5l2 3l2 -12l2 -1l2 2l2 -2l2 0l2 0l2 0l2 0l2 0l2 0l2 0l2 0l2 0l2 0l2 0l2 0l2 0l2 0l2 0l2 0l2 0l2 0l2 0l2 0l2 0l2 0l2 0l2 0l2 0l2 0l2 0l2 0l2 0l2 0l2 0l2 0l2 0l2 0l2 0l2 0l2 0l2 0l2 0l2 0l2 0l2 0l2 0l2 0l2 0l2 0l2 0H959 V200 Z"/>
<path fill="#008fff" d="M151 200V46l3 0l2 -2l2 5l2 -13l2 4l2 1l2 0l2 1l2 2l2 -2l2 -2l2 -1l2 3l2 8l2 -8l2 -4l2 0l2 6l2 -1l2 -7l2 8l2 -6l2 0l2 2l2 2l2 -2l2 9l2 -7l2 2l2 -2l2 1l2 3l2 -4l2 -1l2 -1l2 0l2 0l2 10l2 -17l2 10l2 -1l2 -6l2 2l2 0l2 7l2 -7l2 4l2 2l2 -7l2 -3l2 8l2 -3l2 0l2 -3l2 2l2 -1l2 7l2 -4l2 -2l2 6l2 -12l2 10l2 -3l2 -7l2 9l2 -7l2 -1l2 9l2 -6l2 2l2 2l2 -4l2 0l2 -2l2 4l2 4l2 -2l2 -2l2 2l2 -9l2 11l2 -12l2 4l2 4l2 -5l2 1l2 -2l2 8l2 -8l2 2l2 -2l2 0l2 5l2 -6l2 3l2 0l2 3l2 -9l2 5l2 -1l2 2l2 3l2 -6l2 -4l2 7l2 0l2 -4l2 0l2 6l2 -7l2 7l2 -4l2 -6l2 6l2 -3l2 3l2 2l2 -2l2 0l2 2l2 -8l2 4l2 -6l2 10l2 -6l2 4l2 -4l2 -2l2 8l2 -2l2 -4l2 0l2 6l2 -5l2 -3l2 2l2 -4l2 0l2 -8l2 2l2 -10l2 2l2 -2l2 0l2 0l2 0l2 0l2 0l2 0l2 0l2 0l2 0l2 0l2 0l2 0l2 0l2 0l2 0l2 0l2 0l2 0l2 0l2 0l2 0l2 0l2 0l2 0l2 0l2 0l2 0l2 0l2 0l2 0l2 0l2 0l2 4l2 -2l2 8l2 -2l2 10l2 -12l2 9l2 -1l2 2l2 2l2 -4l2 -1l2 2l2 9l2 -10l2 2l2 2l2 -2l2 -2l2 2l2 4l2 -6l2 8l2 -4l2 -2l2 4l2 4l2 -6l2 1l2 5l2 -6l2 4l2 0l2 -1l2 0l2 0l2 2l2 5l2 -2l2 -8l2 8l2 -2l2 0l2 1l2 -7l2 10l2 -6l2 0l2 0l2 0l2 10l2 -12l2 4l2 5l2 -7l2 6l2 -6l2 6l2 2l2 -4l2 -2l2 2l2 -4l2 8l2 -6l2 2l2 0l2 -1l2 0l2 1l2 0l2 -1l2 5l2 -5l2 2l2 1l2 -2l2 -1l2 2l2 5l2 -6l2 1l2 -1l2 -4l2 6l2 -4l2 1l2 5l2 -2l2 1l2 -3l2 2l2 -2l2 0l2 2l2 1l2 0l2 -1l2 -5l2 5l2 1l2 -3l2 2l2 0l2 -3l2 5l2 -2l2 0l2 2l2 -2l2 0l2 4l2 -4l2 -2l2 4l2 -5l2 7l2 -6l2 4l2 -2l2 2l2 -8l2 12l2 -4l2 -6l2 3l2 -1l2 3l2 1l2 -5l2 7l2 -6l2 1l2 -1l2 4l2 0l2 -2l2 4l2 -6l2 4l2 -2l2 -2l2 3l2 -2l2 3l2 3l2 -8l2 6l2 -5l2 4l2 -2l2 2l2 -4l2 3l2 2l2 -6l2 1l2 0l2 4l2 -6l2 8l2 -7l2 5l2 -8l2 10l2 -8l2 7l2 -7l2 2l2 6l2 -8l2 2l2 2l2 0l2 -7l2 5l2 -4l2 3l2 1l2 -15l2 -3l2 2l2 -6l2 -4l2 0l2 0l2 0l2 0l2 0l2 0l2 0l2 0l2 0l2 0l2 0l2 0l2 0l2 0l2 0l2 0l2 0l2 0l2 0l2 0l2 0l2 0l2 0l2 0l2 0l2 0l2 0l2 0l2 0l2 0l2 0l2 0l2 0l2 0l2 0l2 0l2 0l2 19l2 -19l2 0l2 0l2 10l2 -4H959 V200 Z"/>
<path fill="#00afff" d="M151 200V50l3 0l2 -2l2 5l2 -13l2 3l2 2l2 0l2 1l2 1l2 -1l2 -2l2 -1l2 3l2 8l2 -9l2 -3l2 0l2 5l2 0l2 -8l2 9l2 -6l2 0l2 3l2 1l2 -2l2 9l2 -6l2 2l2 -3l2 1l2 3l2 -4l2 0l2 -2l2 0l2 0l2 10l2 -17l2 10l2 0l2 -7l2 2l2 1l2 7l2 -6l2 2l2 4l2 -9l2 -2l2 7l2 -2l2 -1l2 -3l2 3l2 -2l2 7l2 -4l2 -2l2 8l2 -14l2 10l2 -3l2 -8l2 9l2 -6l2 -1l2 9l2 -5l2 1l2 2l2 -4l2 0l2 -2l2 4l2 6l2 -4l2 -2l2 2l2 -9l2 12l2 -13l2 4l2 3l2 -4l2 1l2 -2l2 8l2 -8l2 2l2 -2l2 0l2 4l2 -6l2 4l2 0l2 3l2 -9l2 5l2 -2l2 3l2 3l2 -5l2 -5l2 7l2 0l2 -4l2 0l2 6l2 -6l2 6l2 -4l2 -6l2 6l2 -3l2 3l2 2l2 -1l2 -1l2 2l2 -8l2 4l2 -5l2 9l2 -6l2 4l2 -4l2 -2l2 8l2 -2l2 -4l2 0l2 7l2 -7l2 -2l2 3l2 -1l2 0l2 -4l2 3l2 -9l2 6l2 -6l2 -2l2 -5l2 -5l2 0l2 -2l2 0l2 0l2 0l2 0l2 0l2 0l2 0l2 0l2 0l2 0l2 0l2 0l2 0l2 0l2 0l2 0l2 0l2 0l2 0l2 0l2 0l2 0l2 0l2 4l2 8l2 3l2 1l2 2l2 -2l2 5l2 -5l2 7l2 -9l2 8l2 -2l2 2l2 2l2 -4l2 -2l2 2l2 8l2 -8l2 0l2 2l2 -1l2 -2l2 3l2 2l2 -4l2 6l2 -4l2 -1l2 3l2 5l2 -7l2 1l2 5l2 -6l2 4l2 0l2 0l2 0l2 0l2 2l2 4l2 -2l2 -8l2 8l2 -2l2 0l2 2l2 -7l2 10l2 -7l2 0l2 0l2 0l2 10l2 -12l2 4l2 6l2 -8l2 6l2 -6l2 6l2 2l2 -4l2 -2l2 2l2 -4l2 8l2 -6l2 2l2 0l2 -2l2 0l2 1l2 1l2 -2l2 6l2 -6l2 2l2 1l2 -1l2 -2l2 2l2 5l2 -5l2 0l2 0l2 -4l2 5l2 -4l2 1l2 6l2 -2l2 0l2 -3l2 3l2 -2l2 0l2 2l2 0l2 0l2 -1l2 -5l2 6l2 0l2 -2l2 2l2 0l2 -4l2 6l2 -4l2 1l2 1l2 -1l2 1l2 2l2 -2l2 -2l2 3l2 -5l2 8l2 -7l2 3l2 -1l2 1l2 -7l2 11l2 -4l2 -6l2 4l2 0l2 2l2 0l2 -4l2 6l2 -5l2 1l2 -1l2 3l2 0l2 -1l2 3l2 -4l2 2l2 -1l2 -3l2 4l2 -2l2 3l2 3l2 -8l2 6l2 -5l2 3l2 0l2 0l2 -4l2 4l2 2l2 -6l2 1l2 0l2 3l2 -6l2 10l2 -8l2 5l2 -8l2 11l2 -10l2 8l2 -6l2 2l2 5l2 -7l2 0l2 2l2 0l2 -6l2 6l2 -4l2 3l2 2l2 -7l2 -2l2 9l2 -7l2 -2l2 -6l2 -4l2 2l2 -12l2 -2l2 0l2 0l2 0l2 0l2 0l2 0l2 0l2 0l2 0l2 0l2 0l2 0l2 0l2 0l2 0l2 0l2 0l2 0l2 0l2 0l2 0l2 0l2 12l2 24l2 0l2 -6l2 -6l2 14l2 -4l2 0l2 0l2 2l2 7l2 -6l2 1l2 -2l2 4l2 0H959 V200 Z"/>
<path fill="#00cfff" d="M151 200V54l3 0l2 -2l2 4l2 -12l2 3l2 1l2 1l2 1l2 0l2 0l2 -2l2 -2l2 4l2 8l2 -9l2 -3l2 0l2 5l2 0l2 -9l2 9l2 -5l2 0l2 3l2 1l2 -2l2 9l2 -6l2 2l2 -3l2 1l2 3l2 -3l2 -1l2 -2l2 1l2 -1l2 10l2 -17l2 11l2 -1l2 -7l2 3l2 1l2 6l2 -6l2 4l2 2l2 -8l2 -2l2 6l2 -2l2 -1l2 -3l2 4l2 -2l2 6l2 -4l2 -2l2 8l2 -14l2 10l2 -2l2 -9l2 10l2 -6l2 -1l2 8l2 -4l2 2l2 0l2 -3l2 -1l2 -2l2 6l2 4l2 -4l2 0l2 2l2 -10l2 12l2 -14l2 4l2 2l2 -3l2 1l2 -1l2 9l2 -9l2 2l2 -2l2 0l2 3l2 -6l2 4l2 0l2 3l2 -8l2 4l2 -2l2 3l2 4l2 -6l2 -6l2 8l2 0l2 -5l2 1l2 6l2 -6l2 6l2 -4l2 -6l2 6l2 -3l2 3l2 2l2 0l2 -2l2 2l2 -8l2 3l2 -5l2 10l2 -6l2 4l2 -4l2 -1l2 8l2 -3l2 -4l2 0l2 7l2 -7l2 -2l2 3l2 -1l2 0l2 -4l2 4l2 -8l2 5l2 -3l2 2l2 -2l2 -2l2 1l2 -6l2 -1l2 -4l2 -2l2 -6l2 -2l2 0l2 0l2 0l2 0l2 0l2 0l2 0l2 0l2 0l2 0l2 0l2 0l2 5l2 -5l2 10l2 -2l2 12l2 -4l2 4l2 2l2 1l2 -2l2 2l2 -2l2 5l2 -6l2 8l2 -10l2 8l2 -2l2 2l2 2l2 -4l2 -2l2 2l2 8l2 -8l2 1l2 1l2 -1l2 -2l2 2l2 3l2 -5l2 7l2 -4l2 -2l2 4l2 4l2 -6l2 1l2 5l2 -6l2 3l2 1l2 0l2 0l2 0l2 1l2 5l2 -2l2 -8l2 9l2 -3l2 1l2 1l2 -7l2 11l2 -7l2 0l2 -1l2 0l2 10l2 -12l2 4l2 6l2 -8l2 6l2 -6l2 7l2 0l2 -3l2 -3l2 3l2 -5l2 9l2 -6l2 2l2 0l2 -2l2 -1l2 1l2 2l2 -2l2 6l2 -7l2 3l2 0l2 -2l2 0l2 2l2 4l2 -6l2 0l2 0l2 -4l2 6l2 -4l2 2l2 4l2 0l2 0l2 -4l2 3l2 -2l2 0l2 2l2 1l2 -1l2 -1l2 -4l2 5l2 0l2 -2l2 2l2 -1l2 -2l2 5l2 -3l2 0l2 2l2 -2l2 0l2 4l2 -4l2 -2l2 4l2 -6l2 8l2 -6l2 4l2 -2l2 2l2 -8l2 12l2 -4l2 -7l2 4l2 -1l2 2l2 1l2 -3l2 5l2 -5l2 0l2 0l2 3l2 1l2 -2l2 4l2 -6l2 3l2 -1l2 -3l2 3l2 -2l2 4l2 2l2 -8l2 8l2 -6l2 2l2 0l2 1l2 -4l2 3l2 2l2 -6l2 2l2 0l2 3l2 -6l2 9l2 -8l2 6l2 -8l2 10l2 -9l2 8l2 -7l2 2l2 6l2 -8l2 2l2 2l2 0l2 -6l2 6l2 -5l2 3l2 3l2 -7l2 -1l2 9l2 -6l2 -2l2 -1l2 1l2 5l2 -9l2 8l2 -8l2 2l2 -7l2 -9l2 -10l2 0l2 0l2 0l2 0l2 0l2 0l2 0l2 16l2 -14l2 12l2 7l2 15l2 -4l2 9l2 -5l2 -3l2 -1l2 8l2 -1l2 0l2 -5l2 4l2 2l2 -4l2 2l2 -2l2 3l2 7l2 -6l2 0l2 -1l2 4l2 -1H959 V200 Z"/>
<path fill="#00efff" d="M151 200V57l3 0l2 -1l2 4l2 -12l2 2l2 2l2 0l2 2l2 0l2 0l2 -3l2 -1l2 4l2 7l2 -9l2 -2l2 0l2 5l2 -1l2 -8l2 9l2 -6l2 1l2 2l2 2l2 -2l2 9l2 -6l2 2l2 -3l2 1l2 3l2 -4l2 0l2 -2l2 1l2 -1l2 10l2 -17l2 11l2 -1l2 -7l2 3l2 1l2 6l2 -6l2 3l2 3l2 -8l2 -2l2 6l2 -2l2 0l2 -4l2 4l2 -2l2 6l2 -4l2 -1l2 7l2 -14l2 10l2 -2l2 -9l2 11l2 -7l2 -1l2 8l2 -4l2 2l2 1l2 -3l2 -2l2 -2l2 6l2 4l2 -2l2 -2l2 2l2 -10l2 12l2 -14l2 5l2 1l2 -2l2 1l2 -1l2 8l2 -8l2 2l2 -2l2 0l2 3l2 -7l2 5l2 -1l2 4l2 -8l2 4l2 -3l2 3l2 4l2 -4l2 -8l2 8l2 2l2 -6l2 0l2 6l2 -5l2 4l2 -3l2 -4l2 4l2 -2l2 2l2 2l2 2l2 -4l2 3l2 -9l2 3l2 -5l2 10l2 -6l2 5l2 -5l2 0l2 8l2 -4l2 -3l2 -2l2 9l2 -8l2 -2l2 2l2 0l2 0l2 -4l2 4l2 -8l2 6l2 -3l2 2l2 -3l2 0l2 1l2 -2l2 -2l2 1l2 4l2 -4l2 -4l2 -4l2 -16l2 0l2 0l2 0l2 0l2 0l2 0l2 8l2 5l2 -1l2 4l2 7l2 -5l2 5l2 -3l2 7l2 -4l2 3l2 2l2 0l2 -2l2 2l2 -3l2 5l2 -6l2 8l2 -10l2 8l2 -2l2 2l2 2l2 -4l2 -2l2 2l2 9l2 -9l2 1l2 1l2 -2l2 -1l2 2l2 3l2 -6l2 8l2 -4l2 -2l2 4l2 4l2 -7l2 3l2 3l2 -6l2 4l2 1l2 -1l2 2l2 -1l2 2l2 4l2 -2l2 -8l2 10l2 -2l2 0l2 0l2 -7l2 11l2 -7l2 0l2 -1l2 0l2 10l2 -13l2 6l2 5l2 -8l2 6l2 -5l2 6l2 0l2 -3l2 -3l2 3l2 -5l2 10l2 -7l2 2l2 0l2 -3l2 -1l2 2l2 2l2 -2l2 6l2 -8l2 4l2 0l2 -2l2 0l2 2l2 4l2 -6l2 0l2 0l2 -4l2 6l2 -4l2 2l2 4l2 0l2 0l2 -4l2 2l2 -1l2 0l2 2l2 1l2 -2l2 0l2 -4l2 5l2 -1l2 -1l2 2l2 -1l2 -2l2 6l2 -4l2 0l2 2l2 -2l2 0l2 4l2 -4l2 -2l2 3l2 -5l2 9l2 -7l2 4l2 -2l2 2l2 -9l2 12l2 -3l2 -8l2 6l2 -2l2 2l2 1l2 -3l2 6l2 -7l2 1l2 -2l2 4l2 2l2 -2l2 5l2 -7l2 4l2 -3l2 -3l2 4l2 -2l2 4l2 2l2 -8l2 9l2 -7l2 2l2 2l2 -1l2 -5l2 4l2 2l2 -6l2 3l2 -1l2 4l2 -6l2 9l2 -9l2 6l2 -9l2 13l2 -10l2 6l2 -6l2 4l2 4l2 -8l2 2l2 2l2 -1l2 -5l2 7l2 -6l2 3l2 6l2 -10l2 0l2 8l2 -4l2 -3l2 -1l2 2l2 6l2 -8l2 8l2 -6l2 3l2 -1l2 -1l2 -7l2 4l2 4l2 -6l2 0l2 4l2 -6l2 5l2 11l2 -8l2 1l2 1l2 2l2 2l2 2l2 -4l2 2l2 -7l2 8l2 -1l2 0l2 -6l2 5l2 2l2 -4l2 2l2 -2l2 3l2 6l2 -6l2 1l2 -1l2 4l2 -2H959 V200 Z"/>
<path fill="#10ffef" d="M151 200V60l3 0l2 -1l2 5l2 -12l2 2l2 2l2 0l2 2l2 0l2 -1l2 -3l2 0l2 4l2 7l2 -9l2 -2l2 -1l2 5l2 0l2 -8l2 8l2 -5l2 1l2 2l2 2l2 -2l2 8l2 -5l2 1l2 -2l2 1l2 3l2 -4l2 0l2 -2l2 0l2 0l2 10l2 -18l2 11l2 0l2 -7l2 3l2 1l2 6l2 -6l2 3l2 3l2 -9l2 -1l2 6l2 -2l2 0l2 -4l2 4l2 -2l2 6l2 -4l2 -1l2 7l2 -14l2 10l2 -2l2 -9l2 11l2 -7l2 -1l2 8l2 -4l2 2l2 2l2 -4l2 -1l2 -3l2 6l2 4l2 -2l2 -2l2 2l2 -9l2 11l2 -13l2 5l2 1l2 -3l2 2l2 -2l2 8l2 -7l2 1l2 -2l2 1l2 3l2 -8l2 6l2 -1l2 3l2 -7l2 3l2 -3l2 3l2 5l2 -5l2 -8l2 8l2 2l2 -6l2 0l2 8l2 -6l2 4l2 -2l2 -6l2 4l2 -1l2 3l2 1l2 2l2 -4l2 3l2 -10l2 4l2 -6l2 10l2 -6l2 6l2 -5l2 0l2 8l2 -4l2 -3l2 -2l2 9l2 -9l2 -2l2 3l2 -1l2 2l2 -4l2 3l2 -9l2 6l2 -2l2 2l2 -3l2 -1l2 2l2 -2l2 -2l2 2l2 2l2 -2l2 -2l2 -1l2 -7l2 4l2 0l2 4l2 -10l2 -2l2 8l2 2l2 2l2 -5l2 1l2 6l2 -4l2 3l2 -4l2 7l2 -4l2 2l2 3l2 0l2 -3l2 2l2 -3l2 5l2 -6l2 8l2 -10l2 8l2 -2l2 2l2 2l2 -4l2 -2l2 2l2 9l2 -10l2 3l2 0l2 -1l2 -2l2 1l2 4l2 -6l2 9l2 -5l2 -2l2 4l2 4l2 -7l2 3l2 3l2 -7l2 5l2 1l2 0l2 2l2 -2l2 2l2 5l2 -3l2 -8l2 10l2 -2l2 0l2 0l2 -6l2 10l2 -7l2 0l2 -1l2 0l2 10l2 -13l2 6l2 5l2 -8l2 6l2 -5l2 6l2 0l2 -3l2 -3l2 2l2 -5l2 11l2 -7l2 2l2 -1l2 -2l2 -1l2 2l2 2l2 -2l2 6l2 -8l2 4l2 0l2 -2l2 0l2 2l2 4l2 -6l2 0l2 0l2 -4l2 6l2 -4l2 2l2 4l2 0l2 0l2 -4l2 2l2 0l2 -2l2 3l2 1l2 -2l2 0l2 -4l2 5l2 -1l2 -2l2 4l2 -2l2 -2l2 6l2 -5l2 1l2 2l2 -2l2 0l2 4l2 -4l2 -2l2 2l2 -4l2 9l2 -6l2 3l2 -2l2 2l2 -9l2 13l2 -4l2 -8l2 6l2 -2l2 2l2 1l2 -3l2 6l2 -7l2 1l2 -2l2 4l2 3l2 -3l2 6l2 -7l2 3l2 -2l2 -4l2 4l2 -2l2 4l2 2l2 -8l2 10l2 -7l2 3l2 0l2 0l2 -6l2 6l2 2l2 -6l2 2l2 -1l2 5l2 -8l2 10l2 -10l2 6l2 -8l2 12l2 -10l2 8l2 -7l2 4l2 5l2 -8l2 2l2 2l2 -2l2 -4l2 6l2 -6l2 4l2 5l2 -11l2 1l2 8l2 -4l2 -3l2 -1l2 1l2 6l2 -8l2 8l2 -4l2 2l2 -1l2 0l2 -5l2 2l2 5l2 -2l2 -6l2 3l2 -2l2 2l2 10l2 -8l2 1l2 1l2 2l2 2l2 2l2 -5l2 2l2 -7l2 8l2 0l2 0l2 -6l2 4l2 2l2 -4l2 2l2 -2l2 2l2 8l2 -8l2 2l2 -2l2 5l2 -1H959 V200 Z"/>
<path fill="#30ffcf" d="M151 200V64l3 0l2 -1l2 5l2 -12l2 2l2 2l2 0l2 2l2 0l2 -1l2 -3l2 0l2 4l2 7l2 -9l2 -2l2 -1l2 5l2 0l2 -9l2 9l2 -5l2 1l2 2l2 2l2 -2l2 9l2 -6l2 1l2 -2l2 0l2 5l2 -5l2 0l2 -2l2 0l2 0l2 10l2 -18l2 11l2 0l2 -7l2 4l2 1l2 5l2 -5l2 3l2 2l2 -9l2 -1l2 6l2 -2l2 -1l2 -3l2 4l2 -2l2 6l2 -4l2 -1l2 8l2 -15l2 10l2 -2l2 -10l2 12l2 -7l2 -1l2 8l2 -4l2 3l2 1l2 -4l2 -1l2 -3l2 6l2 6l2 -4l2 -2l2 2l2 -8l2 10l2 -13l2 5l2 2l2 -4l2 2l2 -2l2 8l2 -7l2 2l2 -3l2 1l2 3l2 -8l2 6l2 0l2 2l2 -7l2 3l2 -2l2 3l2 5l2 -5l2 -9l2 9l2 2l2 -6l2 -1l2 8l2 -5l2 3l2 -2l2 -5l2 5l2 -2l2 2l2 2l2 1l2 -3l2 2l2 -10l2 4l2 -6l2 10l2 -6l2 6l2 -4l2 0l2 8l2 -4l2 -4l2 -2l2 10l2 -10l2 -2l2 4l2 -2l2 2l2 -4l2 4l2 -9l2 7l2 -4l2 2l2 -2l2 -1l2 3l2 -4l2 0l2 1l2 3l2 -2l2 -2l2 -1l2 -8l2 5l2 0l2 4l2 -6l2 -2l2 4l2 3l2 1l2 -5l2 1l2 6l2 -6l2 4l2 -4l2 7l2 -5l2 2l2 4l2 0l2 -2l2 0l2 -3l2 5l2 -6l2 8l2 -10l2 8l2 -2l2 2l2 2l2 -4l2 -2l2 2l2 9l2 -10l2 3l2 0l2 -1l2 -1l2 0l2 4l2 -6l2 9l2 -5l2 -2l2 5l2 3l2 -7l2 4l2 1l2 -6l2 5l2 1l2 0l2 3l2 -2l2 1l2 5l2 -3l2 -8l2 10l2 -2l2 0l2 0l2 -7l2 11l2 -7l2 -1l2 -1l2 1l2 10l2 -14l2 6l2 6l2 -9l2 7l2 -5l2 5l2 0l2 -2l2 -4l2 3l2 -5l2 10l2 -7l2 2l2 0l2 -3l2 0l2 2l2 2l2 -2l2 6l2 -8l2 4l2 0l2 -2l2 0l2 1l2 5l2 -6l2 0l2 -1l2 -3l2 6l2 -4l2 1l2 5l2 0l2 0l2 -4l2 2l2 -1l2 -1l2 2l2 2l2 -2l2 -1l2 -3l2 4l2 0l2 -2l2 3l2 -1l2 -2l2 5l2 -4l2 1l2 2l2 -2l2 0l2 4l2 -4l2 -2l2 2l2 -4l2 9l2 -7l2 4l2 -2l2 2l2 -9l2 13l2 -4l2 -8l2 6l2 -2l2 2l2 2l2 -4l2 6l2 -7l2 1l2 -2l2 4l2 3l2 -3l2 6l2 -6l2 2l2 -2l2 -4l2 4l2 -1l2 4l2 1l2 -7l2 9l2 -6l2 2l2 0l2 0l2 -6l2 6l2 2l2 -6l2 2l2 0l2 4l2 -7l2 9l2 -10l2 8l2 -10l2 13l2 -9l2 7l2 -7l2 4l2 4l2 -8l2 2l2 2l2 0l2 -5l2 6l2 -5l2 2l2 5l2 -9l2 0l2 8l2 -4l2 -2l2 -2l2 2l2 6l2 -8l2 8l2 -5l2 2l2 -1l2 0l2 -5l2 3l2 4l2 -2l2 -6l2 3l2 -3l2 2l2 11l2 -9l2 1l2 1l2 2l2 2l2 2l2 -6l2 2l2 -7l2 9l2 0l2 0l2 -6l2 3l2 3l2 -4l2 1l2 -2l2 3l2 8l2 -8l2 2l2 -2l2 5l2 -1H959 V200 Z"/>
<path fill="#50ffaf" d="M151 200V68l3 0l2 -1l2 5l2 -12l2 2l2 2l2 0l2 2l2 0l2 -1l2 -2l2 -1l2 4l2 7l2 -9l2 -2l2 -1l2 5l2 0l2 -10l2 11l2 -6l2 1l2 2l2 2l2 -2l2 10l2 -6l2 1l2 -3l2 1l2 7l2 -6l2 -1l2 -1l2 0l2 0l2 10l2 -20l2 12l2 0l2 -7l2 5l2 1l2 5l2 -5l2 3l2 2l2 -10l2 0l2 6l2 -2l2 -2l2 -3l2 5l2 -3l2 7l2 -4l2 -2l2 8l2 -16l2 10l2 0l2 -12l2 12l2 -6l2 -1l2 8l2 -3l2 2l2 0l2 -4l2 0l2 -3l2 6l2 6l2 -5l2 0l2 2l2 -10l2 12l2 -14l2 4l2 2l2 -4l2 2l2 -2l2 9l2 -7l2 1l2 -2l2 1l2 2l2 -7l2 5l2 0l2 3l2 -7l2 3l2 -3l2 4l2 4l2 -4l2 -10l2 9l2 3l2 -7l2 0l2 7l2 -5l2 3l2 -2l2 -4l2 4l2 -2l2 2l2 2l2 2l2 -4l2 2l2 -9l2 3l2 -6l2 11l2 -7l2 6l2 -4l2 0l2 8l2 -4l2 -3l2 -3l2 10l2 -10l2 -2l2 4l2 -2l2 2l2 -4l2 5l2 -9l2 6l2 -2l2 0l2 -1l2 -1l2 2l2 -3l2 0l2 1l2 3l2 -2l2 -3l2 0l2 -8l2 4l2 1l2 5l2 -6l2 -2l2 4l2 4l2 0l2 -6l2 1l2 7l2 -8l2 5l2 -5l2 8l2 -5l2 2l2 4l2 -1l2 -2l2 1l2 -5l2 6l2 -6l2 9l2 -11l2 8l2 -2l2 3l2 1l2 -4l2 -1l2 1l2 10l2 -12l2 6l2 -2l2 0l2 -2l2 0l2 5l2 -7l2 10l2 -6l2 -3l2 7l2 2l2 -7l2 6l2 0l2 -7l2 5l2 1l2 0l2 4l2 -2l2 0l2 6l2 -4l2 -9l2 11l2 -2l2 0l2 0l2 -8l2 11l2 -7l2 0l2 -2l2 2l2 9l2 -13l2 6l2 5l2 -9l2 7l2 -5l2 6l2 0l2 -2l2 -4l2 2l2 -4l2 10l2 -8l2 2l2 0l2 -2l2 -1l2 3l2 1l2 -2l2 6l2 -8l2 3l2 2l2 -2l2 0l2 0l2 5l2 -6l2 0l2 -1l2 -4l2 7l2 -4l2 1l2 6l2 -2l2 1l2 -3l2 2l2 -2l2 0l2 2l2 1l2 -2l2 -1l2 -3l2 5l2 0l2 -2l2 2l2 -1l2 -2l2 5l2 -4l2 2l2 1l2 -1l2 0l2 4l2 -4l2 -2l2 2l2 -4l2 8l2 -6l2 4l2 -2l2 2l2 -10l2 13l2 -3l2 -8l2 6l2 -2l2 2l2 1l2 -3l2 6l2 -7l2 1l2 -2l2 4l2 2l2 -2l2 5l2 -6l2 3l2 -2l2 -4l2 4l2 -2l2 4l2 2l2 -7l2 8l2 -6l2 3l2 0l2 0l2 -5l2 5l2 2l2 -6l2 2l2 0l2 4l2 -7l2 9l2 -10l2 7l2 -9l2 13l2 -9l2 6l2 -6l2 3l2 5l2 -8l2 2l2 2l2 0l2 -6l2 7l2 -5l2 2l2 5l2 -9l2 0l2 8l2 -4l2 -2l2 -2l2 2l2 6l2 -8l2 8l2 -4l2 2l2 -1l2 0l2 -5l2 2l2 5l2 -2l2 -6l2 3l2 -3l2 1l2 12l2 -10l2 2l2 0l2 2l2 2l2 3l2 -6l2 1l2 -7l2 9l2 0l2 0l2 -6l2 4l2 2l2 -4l2 1l2 -2l2 3l2 8l2 -8l2 2l2 -2l2 5l2 -1H959 V200 Z"/>
<path fill="#70ff8f" d="M151 200V73l3 0l2 1l2 6l2 -12l2 -2l2 2l2 4l2 0l2 -2l2 3l2 -4l2 -3l2 6l2 8l2 -10l2 -2l2 -1l2 3l2 2l2 -11l2 11l2 -4l2 1l2 1l2 2l2 -2l2 11l2 -7l2 2l2 -4l2 0l2 10l2 -8l2 0l2 -2l2 0l2 0l2 10l2 -20l2 12l2 0l2 -7l2 5l2 2l2 4l2 -4l2 2l2 2l2 -10l2 0l2 6l2 -2l2 -2l2 -3l2 5l2 -3l2 7l2 -5l2 -1l2 8l2 -16l2 10l2 0l2 -12l2 12l2 -7l2 0l2 8l2 -3l2 2l2 0l2 -4l2 -2l2 -2l2 6l2 7l2 -5l2 -1l2 2l2 -10l2 12l2 -15l2 6l2 0l2 -2l2 0l2 0l2 8l2 -8l2 2l2 -2l2 1l2 1l2 -7l2 6l2 -1l2 4l2 -8l2 4l2 -4l2 4l2 4l2 -4l2 -9l2 9l2 2l2 -6l2 -1l2 7l2 -4l2 3l2 -2l2 -5l2 4l2 -2l2 3l2 1l2 2l2 -4l2 3l2 -10l2 4l2 -6l2 11l2 -7l2 6l2 -5l2 0l2 8l2 -4l2 -2l2 -4l2 10l2 -9l2 -3l2 4l2 -2l2 4l2 -5l2 5l2 -10l2 8l2 -4l2 2l2 -2l2 -1l2 3l2 -4l2 0l2 2l2 2l2 -2l2 -2l2 0l2 -9l2 5l2 0l2 6l2 -6l2 -2l2 4l2 4l2 0l2 -5l2 -1l2 8l2 -9l2 5l2 -4l2 7l2 -5l2 1l2 7l2 -2l2 -1l2 0l2 -7l2 7l2 -5l2 10l2 -12l2 8l2 -1l2 3l2 0l2 -4l2 -2l2 2l2 10l2 -13l2 7l2 -2l2 0l2 -2l2 0l2 5l2 -8l2 11l2 -6l2 -4l2 8l2 0l2 -6l2 7l2 -1l2 -8l2 6l2 2l2 -1l2 3l2 -2l2 0l2 6l2 -4l2 -9l2 11l2 -2l2 0l2 0l2 -8l2 11l2 -7l2 0l2 -2l2 1l2 9l2 -13l2 7l2 4l2 -8l2 6l2 -4l2 6l2 0l2 -3l2 -3l2 2l2 -5l2 11l2 -8l2 2l2 0l2 -2l2 -2l2 3l2 1l2 -2l2 6l2 -8l2 4l2 2l2 -3l2 1l2 0l2 4l2 -6l2 0l2 0l2 -4l2 6l2 -4l2 2l2 4l2 0l2 0l2 -3l2 2l2 -1l2 0l2 2l2 0l2 -2l2 0l2 -4l2 6l2 -1l2 -1l2 2l2 -2l2 -2l2 6l2 -4l2 1l2 1l2 -1l2 1l2 3l2 -4l2 -2l2 3l2 -4l2 8l2 -6l2 4l2 -2l2 1l2 -9l2 12l2 -3l2 -7l2 5l2 -1l2 2l2 0l2 -2l2 6l2 -8l2 1l2 -1l2 4l2 2l2 -2l2 5l2 -6l2 3l2 -2l2 -4l2 4l2 -2l2 4l2 2l2 -8l2 9l2 -6l2 3l2 0l2 0l2 -6l2 6l2 2l2 -6l2 2l2 -1l2 4l2 -7l2 10l2 -10l2 7l2 -9l2 12l2 -9l2 7l2 -6l2 3l2 5l2 -8l2 2l2 2l2 -1l2 -5l2 6l2 -4l2 2l2 4l2 -8l2 0l2 9l2 -5l2 -2l2 -1l2 1l2 6l2 -7l2 8l2 -5l2 2l2 0l2 0l2 -5l2 3l2 4l2 -2l2 -6l2 3l2 -3l2 1l2 11l2 -10l2 2l2 0l2 3l2 1l2 4l2 -6l2 1l2 -7l2 8l2 1l2 -1l2 -6l2 4l2 2l2 -4l2 1l2 -2l2 3l2 10l2 -10l2 2l2 -2l2 6l2 -2H959 V200 Z"/>
<path fill="#8fff70" d="M151 200V82l3 0l2 2l2 7l2 -13l2 -5l2 4l2 4l2 -1l2 -2l2 4l2 -4l2 -4l2 6l2 8l2 -10l2 -2l2 -1l2 3l2 1l2 -13l2 14l2 -4l2 2l2 0l2 3l2 -3l2 13l2 -7l2 0l2 -4l2 -1l2 13l2 -8l2 0l2 -2l2 -2l2 1l2 12l2 -25l2 12l2 2l2 -8l2 8l2 3l2 2l2 -3l2 3l2 1l2 -14l2 2l2 6l2 -3l2 -3l2 -3l2 7l2 -4l2 8l2 -6l2 -2l2 12l2 -21l2 11l2 0l2 -12l2 12l2 -7l2 0l2 7l2 -2l2 4l2 -1l2 -5l2 -2l2 -2l2 6l2 9l2 -7l2 0l2 2l2 -11l2 13l2 -16l2 6l2 -1l2 -2l2 1l2 0l2 9l2 -9l2 2l2 -2l2 1l2 1l2 -8l2 6l2 0l2 2l2 -6l2 2l2 -4l2 4l2 6l2 -4l2 -10l2 8l2 4l2 -8l2 0l2 7l2 -4l2 3l2 -2l2 -5l2 3l2 -1l2 3l2 0l2 4l2 -6l2 4l2 -10l2 3l2 -5l2 10l2 -6l2 6l2 -6l2 1l2 8l2 -4l2 -3l2 -4l2 11l2 -9l2 -4l2 5l2 -1l2 2l2 -4l2 5l2 -9l2 7l2 -3l2 1l2 -1l2 -1l2 3l2 -4l2 2l2 0l2 3l2 -1l2 -4l2 0l2 -10l2 4l2 2l2 6l2 -7l2 -1l2 5l2 7l2 0l2 -6l2 -2l2 10l2 -14l2 8l2 -6l2 8l2 -6l2 0l2 10l2 -2l2 -2l2 0l2 -8l2 8l2 -6l2 10l2 -12l2 8l2 0l2 2l2 0l2 -4l2 -1l2 1l2 10l2 -12l2 6l2 -2l2 0l2 -2l2 0l2 5l2 -8l2 11l2 -6l2 -4l2 8l2 0l2 -6l2 8l2 -2l2 -9l2 7l2 1l2 -1l2 4l2 -3l2 0l2 5l2 -3l2 -9l2 11l2 -3l2 0l2 0l2 -8l2 10l2 -6l2 0l2 -2l2 0l2 10l2 -14l2 7l2 5l2 -8l2 6l2 -4l2 5l2 0l2 -3l2 -3l2 3l2 -6l2 11l2 -7l2 2l2 0l2 -3l2 -1l2 3l2 1l2 -2l2 6l2 -8l2 4l2 1l2 -3l2 1l2 1l2 4l2 -6l2 0l2 0l2 -4l2 6l2 -4l2 2l2 4l2 0l2 0l2 -3l2 2l2 -1l2 -1l2 2l2 1l2 -2l2 0l2 -3l2 5l2 -2l2 -1l2 3l2 -2l2 -1l2 5l2 -4l2 2l2 0l2 -2l2 1l2 5l2 -6l2 -1l2 3l2 -4l2 8l2 -6l2 4l2 -3l2 2l2 -9l2 12l2 -3l2 -8l2 6l2 -1l2 1l2 1l2 -2l2 6l2 -8l2 1l2 -1l2 4l2 3l2 -3l2 6l2 -7l2 3l2 -3l2 -3l2 4l2 -2l2 4l2 2l2 -8l2 10l2 -7l2 2l2 2l2 -1l2 -6l2 5l2 3l2 -6l2 2l2 -1l2 4l2 -7l2 10l2 -10l2 6l2 -8l2 12l2 -9l2 7l2 -6l2 3l2 5l2 -8l2 2l2 2l2 -1l2 -5l2 6l2 -4l2 2l2 5l2 -9l2 0l2 9l2 -5l2 -2l2 -1l2 2l2 6l2 -7l2 8l2 -5l2 2l2 -1l2 0l2 -4l2 2l2 5l2 -2l2 -6l2 3l2 -4l2 2l2 12l2 -10l2 1l2 1l2 2l2 2l2 4l2 -8l2 1l2 -7l2 10l2 1l2 -1l2 -6l2 2l2 5l2 -6l2 0l2 -1l2 3l2 11l2 -11l2 2l2 -2l2 7l2 -2H959 V200 Z"/>
<path fill="#afff50" d="M151 200V92l3 0l2 4l2 8l2 -13l2 -8l2 5l2 6l2 -2l2 -4l2 6l2 -5l2 -5l2 6l2 10l2 -12l2 0l2 -2l2 0l2 4l2 -16l2 16l2 -4l2 4l2 0l2 2l2 -2l2 12l2 -7l2 -1l2 -4l2 -2l2 55l2 -49l2 2l2 -3l2 -2l2 1l2 12l2 -26l2 12l2 2l2 -7l2 9l2 36l2 -32l2 12l2 3l2 -13l2 -16l2 2l2 7l2 -3l2 -4l2 -4l2 8l2 -4l2 8l2 -6l2 -2l2 12l2 -23l2 11l2 2l2 -16l2 13l2 -6l2 1l2 7l2 -1l2 4l2 -2l2 -6l2 -2l2 -2l2 6l2 11l2 -9l2 0l2 2l2 -12l2 14l2 -17l2 6l2 -2l2 -1l2 1l2 -1l2 10l2 -8l2 1l2 -3l2 2l2 0l2 -8l2 7l2 -1l2 3l2 -7l2 3l2 -5l2 5l2 5l2 -4l2 -12l2 10l2 4l2 -8l2 -1l2 8l2 -3l2 0l2 0l2 -5l2 3l2 -1l2 3l2 0l2 4l2 -6l2 3l2 -11l2 4l2 -6l2 10l2 -6l2 7l2 -5l2 0l2 8l2 -4l2 -3l2 -4l2 11l2 -10l2 -3l2 5l2 -2l2 4l2 -4l2 4l2 -8l2 7l2 -3l2 1l2 -1l2 0l2 4l2 -6l2 3l2 1l2 3l2 -1l2 -4l2 2l2 -14l2 6l2 2l2 8l2 -6l2 -1l2 6l2 7l2 0l2 -7l2 -1l2 9l2 -17l2 9l2 -6l2 9l2 -8l2 0l2 12l2 -2l2 -2l2 -2l2 -9l2 8l2 -5l2 12l2 -15l2 8l2 1l2 2l2 0l2 -4l2 -2l2 2l2 10l2 -14l2 8l2 -3l2 1l2 -2l2 -2l2 6l2 -8l2 12l2 -8l2 -4l2 9l2 -1l2 -6l2 8l2 -2l2 -10l2 8l2 0l2 0l2 4l2 -4l2 0l2 6l2 -4l2 -10l2 12l2 -3l2 -1l2 0l2 -8l2 10l2 -6l2 -1l2 -2l2 1l2 10l2 -14l2 6l2 6l2 -9l2 7l2 -5l2 6l2 0l2 -3l2 -4l2 3l2 -5l2 10l2 -6l2 2l2 -1l2 -3l2 0l2 2l2 2l2 -2l2 6l2 -8l2 4l2 1l2 -3l2 1l2 1l2 4l2 -6l2 0l2 0l2 -4l2 6l2 -4l2 2l2 4l2 0l2 0l2 -3l2 2l2 -1l2 0l2 2l2 1l2 -3l2 0l2 -2l2 4l2 -1l2 -1l2 2l2 -2l2 0l2 5l2 -5l2 2l2 1l2 -2l2 1l2 4l2 -5l2 -1l2 2l2 -4l2 9l2 -6l2 3l2 -2l2 2l2 -10l2 14l2 -4l2 -8l2 6l2 -2l2 2l2 1l2 -1l2 4l2 -8l2 1l2 -1l2 4l2 4l2 -3l2 6l2 -7l2 2l2 -2l2 -4l2 4l2 -1l2 5l2 0l2 -6l2 9l2 -7l2 2l2 2l2 -1l2 -7l2 6l2 2l2 -6l2 3l2 -1l2 4l2 -7l2 9l2 -10l2 7l2 -9l2 14l2 -10l2 6l2 -6l2 4l2 4l2 -8l2 2l2 2l2 -1l2 -5l2 7l2 -5l2 3l2 5l2 -10l2 1l2 9l2 -5l2 -2l2 -1l2 2l2 6l2 -8l2 8l2 -4l2 2l2 -1l2 1l2 -6l2 4l2 4l2 -2l2 -6l2 3l2 -3l2 1l2 12l2 -11l2 2l2 1l2 3l2 1l2 4l2 -7l2 0l2 -6l2 10l2 1l2 -1l2 -6l2 2l2 6l2 -6l2 0l2 -2l2 4l2 10l2 -10l2 2l2 -2l2 6l2 -2H959 V200 Z"/>
<path fill="#cfff30" d="M151 200V105l3 0l2 53l2 42l2 -29l2 -76l2 7l2 58l2 -38l2 -22l2 64l2 -36l2 -32l2 19l2 39l2 -53l2 22l2 -5l2 -20l2 4l2 -16l2 16l2 24l2 24l2 -22l2 14l2 -14l2 72l2 -30l2 -30l2 -29l2 -11l2 100l2 -30l2 30l2 -24l2 -28l2 22l2 30l2 -111l2 15l2 39l2 -22l2 79l2 0l2 0l2 0l2 0l2 0l2 -93l2 49l2 9l2 -19l2 -50l2 -3l2 69l2 -39l2 17l2 -28l2 -10l2 98l2 -115l2 11l2 18l2 -32l2 13l2 -6l2 1l2 8l2 4l2 34l2 -36l2 -8l2 -2l2 -2l2 6l2 62l2 -60l2 1l2 3l2 -14l2 14l2 -18l2 6l2 -4l2 0l2 2l2 -1l2 11l2 -10l2 2l2 -4l2 4l2 -3l2 -9l2 8l2 0l2 2l2 -6l2 2l2 -6l2 6l2 6l2 -4l2 -13l2 9l2 5l2 -9l2 -1l2 9l2 -4l2 0l2 0l2 -5l2 3l2 -1l2 2l2 1l2 5l2 -7l2 2l2 -10l2 4l2 -6l2 10l2 -6l2 6l2 -5l2 1l2 8l2 -5l2 -3l2 -4l2 11l2 -10l2 -3l2 5l2 -1l2 4l2 -5l2 5l2 -8l2 7l2 -3l2 2l2 -2l2 0l2 4l2 -4l2 2l2 2l2 3l2 -1l2 -2l2 0l2 -12l2 6l2 4l2 6l2 -5l2 -1l2 4l2 4l2 0l2 -6l2 0l2 8l2 -13l2 8l2 -5l2 7l2 -6l2 -1l2 8l2 0l2 -2l2 0l2 -10l2 8l2 -4l2 10l2 -14l2 8l2 0l2 2l2 0l2 -4l2 -1l2 1l2 10l2 -14l2 7l2 -2l2 0l2 -1l2 -2l2 6l2 -9l2 11l2 -6l2 -5l2 8l2 1l2 -6l2 4l2 0l2 -10l2 8l2 1l2 -1l2 3l2 -3l2 0l2 6l2 -5l2 -11l2 14l2 -4l2 -1l2 -1l2 -8l2 11l2 -7l2 -1l2 -3l2 2l2 10l2 -14l2 6l2 6l2 -10l2 8l2 -5l2 5l2 0l2 -2l2 -4l2 2l2 -4l2 10l2 -7l2 2l2 0l2 -3l2 0l2 2l2 2l2 -2l2 6l2 -8l2 4l2 0l2 -2l2 0l2 2l2 4l2 -6l2 0l2 0l2 -4l2 6l2 -4l2 2l2 4l2 0l2 0l2 -3l2 3l2 -2l2 0l2 2l2 1l2 -2l2 -1l2 -2l2 5l2 -1l2 -2l2 4l2 -3l2 -1l2 6l2 -5l2 2l2 1l2 -2l2 0l2 5l2 -5l2 -2l2 2l2 -3l2 9l2 -6l2 4l2 -3l2 2l2 -10l2 13l2 -3l2 -9l2 7l2 -1l2 0l2 2l2 -2l2 6l2 -8l2 0l2 0l2 3l2 4l2 -3l2 6l2 -6l2 2l2 -3l2 -4l2 5l2 -2l2 5l2 1l2 -7l2 9l2 -6l2 2l2 2l2 -2l2 -6l2 6l2 2l2 -6l2 2l2 -1l2 4l2 -7l2 10l2 -11l2 7l2 -9l2 13l2 -10l2 8l2 -8l2 4l2 5l2 -8l2 2l2 1l2 0l2 -5l2 7l2 -6l2 4l2 4l2 -9l2 1l2 8l2 -4l2 -2l2 -2l2 2l2 6l2 -7l2 8l2 -5l2 3l2 -1l2 0l2 -4l2 2l2 5l2 -2l2 -6l2 3l2 -3l2 1l2 12l2 -10l2 2l2 0l2 3l2 1l2 4l2 -6l2 0l2 -6l2 10l2 1l2 -1l2 -6l2 2l2 6l2 -6l2 0l2 -2l2 4l2 12l2 -12l2 2l2 -2l2 7l2 -2H959 V200 Z"/>
<path fill="#efff10" d="M151 200V200l3 0l2 0l2 0l2 0l2 -34l2 34l2 0l2 0l2 -26l2 26l2 0l2 0l2 0l2 0l2 0l2 0l2 0l2 -43l2 43l2 -91l2 91l2 0l2 0l2 0l2 0l2 0l2 0l2 0l2 0l2 0l2 0l2 0l2 0l2 0l2 0l2 0l2 0l2 0l2 0l2 0l2 0l2 0l2 0l2 0l2 0l2 0l2 0l2 0l2 0l2 0l2 0l2 0l2 0l2 0l2 0l2 0l2 0l2 0l2 0l2 0l2 -60l2 9l2 51l2 -100l2 45l2 -1l2 30l2 -10l2 36l2 0l2 0l2 -56l2 -14l2 -4l2 30l2 44l2 -55l2 31l2 24l2 -75l2 46l2 -78l2 29l2 -28l2 0l2 2l2 0l2 46l2 -44l2 0l2 -4l2 16l2 -16l2 -9l2 9l2 -1l2 3l2 -6l2 1l2 -7l2 6l2 7l2 -3l2 -16l2 10l2 6l2 -10l2 -2l2 9l2 -2l2 -3l2 2l2 -5l2 3l2 -1l2 2l2 1l2 6l2 -10l2 4l2 -12l2 3l2 -6l2 11l2 -7l2 7l2 -6l2 3l2 9l2 -8l2 -3l2 -3l2 12l2 -12l2 -2l2 4l2 -2l2 4l2 -4l2 6l2 -9l2 8l2 -3l2 2l2 -2l2 0l2 4l2 -4l2 2l2 2l2 3l2 -1l2 -2l2 0l2 -10l2 6l2 2l2 7l2 -5l2 -2l2 4l2 2l2 1l2 -5l2 0l2 6l2 -8l2 4l2 -4l2 6l2 -4l2 0l2 5l2 -1l2 -2l2 0l2 -5l2 6l2 -5l2 8l2 -12l2 8l2 -2l2 2l2 2l2 -4l2 -2l2 1l2 9l2 -11l2 4l2 -1l2 -1l2 -1l2 0l2 4l2 -7l2 9l2 -6l2 -3l2 7l2 2l2 -8l2 5l2 1l2 -9l2 6l2 1l2 -2l2 3l2 -2l2 0l2 5l2 -4l2 -10l2 12l2 -3l2 -1l2 -1l2 -7l2 10l2 -8l2 0l2 -4l2 2l2 10l2 -14l2 6l2 6l2 -10l2 8l2 -5l2 6l2 -1l2 -2l2 -4l2 2l2 -4l2 10l2 -7l2 2l2 -1l2 -2l2 0l2 2l2 1l2 -2l2 6l2 -7l2 3l2 1l2 -2l2 0l2 0l2 5l2 -5l2 0l2 -1l2 -4l2 7l2 -4l2 2l2 4l2 0l2 0l2 -3l2 3l2 -2l2 0l2 2l2 2l2 -2l2 -1l2 -3l2 6l2 -2l2 -1l2 3l2 -2l2 -1l2 5l2 -4l2 2l2 0l2 -1l2 1l2 4l2 -6l2 0l2 2l2 -4l2 8l2 -5l2 3l2 -2l2 2l2 -10l2 14l2 -4l2 -8l2 6l2 -2l2 2l2 1l2 -1l2 4l2 -7l2 1l2 -2l2 4l2 4l2 -2l2 6l2 -8l2 4l2 -4l2 -4l2 5l2 -1l2 4l2 2l2 -8l2 10l2 -6l2 2l2 2l2 -2l2 -7l2 6l2 2l2 -6l2 3l2 -2l2 4l2 -7l2 9l2 -10l2 7l2 -9l2 13l2 -10l2 7l2 -7l2 4l2 5l2 -8l2 2l2 1l2 -1l2 -4l2 6l2 -6l2 4l2 4l2 -8l2 0l2 8l2 -4l2 -2l2 -1l2 2l2 6l2 -7l2 8l2 -4l2 2l2 -1l2 0l2 -5l2 3l2 5l2 -2l2 -6l2 3l2 -3l2 2l2 10l2 -9l2 2l2 1l2 2l2 2l2 4l2 -7l2 1l2 -7l2 10l2 2l2 -1l2 -6l2 2l2 6l2 -6l2 0l2 -1l2 4l2 13l2 -13l2 2l2 -2l2 8l2 -3H959 V200 Z"/>
<path fill="#ffef00" d="M151 200V200l3 0l2 0l2 0l2 0l2 0l2 0l2 0l2 0l2 0l2 0l2 0l2 0l2 0l2 0l2 0l2 0l2 0l2 0l2 0l2 0l2 0l2 0l2 0l2 0l2 0l2 0l2 0l2 0l2 0l2 0l2 0l2 0l2 0l2 0l2 0l2 0l2 0l2 0l2 0l2 0l2 0l2 0l2 0l2 0l2 0l2 0l2 0l2 0l2 0l2 0l2 0l2 0l2 0l2 0l2 0l2 0l2 0l2 0l2 0l2 0l2 0l2 0l2 0l2 0l2 0l2 0l2 0l2 0l2 0l2 0l2 0l2 0l2 0l2 0l2 0l2 0l2 0l2 0l2 0l2 0l2 0l2 0l2 0l2 -88l2 46l2 7l2 9l2 26l2 0l2 -22l2 -27l2 49l2 -86l2 -19l2 45l2 -8l2 -11l2 11l2 -25l2 -13l2 6l2 32l2 17l2 -63l2 12l2 30l2 -34l2 -3l2 9l2 10l2 -15l2 2l2 -5l2 3l2 -1l2 3l2 1l2 36l2 -40l2 4l2 -14l2 4l2 -8l2 10l2 -5l2 9l2 -6l2 4l2 8l2 -8l2 -3l2 -7l2 16l2 -16l2 -4l2 7l2 -3l2 8l2 -6l2 6l2 -9l2 8l2 -3l2 0l2 0l2 0l2 4l2 -6l2 3l2 1l2 4l2 -2l2 -2l2 0l2 -10l2 7l2 2l2 5l2 -6l2 -1l2 4l2 3l2 0l2 -6l2 0l2 7l2 -9l2 5l2 -5l2 7l2 -5l2 2l2 3l2 -1l2 -2l2 0l2 -4l2 5l2 -6l2 8l2 -11l2 8l2 -2l2 2l2 1l2 -3l2 -2l2 1l2 9l2 -11l2 4l2 -1l2 -1l2 -1l2 0l2 4l2 -7l2 9l2 -6l2 -2l2 6l2 2l2 -7l2 4l2 1l2 -8l2 6l2 0l2 -1l2 3l2 -3l2 1l2 4l2 -4l2 -10l2 12l2 -2l2 -2l2 0l2 -8l2 10l2 -7l2 -1l2 -3l2 2l2 9l2 -14l2 7l2 5l2 -9l2 7l2 -4l2 5l2 -1l2 -2l2 -4l2 2l2 -4l2 10l2 -8l2 2l2 0l2 -2l2 -1l2 3l2 0l2 -2l2 6l2 -8l2 4l2 1l2 -2l2 0l2 1l2 4l2 -6l2 0l2 0l2 -4l2 7l2 -4l2 2l2 5l2 0l2 0l2 -3l2 2l2 -1l2 0l2 2l2 2l2 -2l2 0l2 -3l2 5l2 -1l2 -1l2 2l2 -2l2 0l2 5l2 -5l2 2l2 1l2 -1l2 0l2 4l2 -4l2 -2l2 2l2 -4l2 10l2 -6l2 4l2 -3l2 2l2 -10l2 13l2 -3l2 -9l2 8l2 -2l2 1l2 1l2 -1l2 5l2 -8l2 0l2 0l2 4l2 4l2 -3l2 6l2 -7l2 3l2 -3l2 -4l2 4l2 0l2 4l2 1l2 -7l2 10l2 -6l2 2l2 1l2 -1l2 -8l2 6l2 2l2 -6l2 3l2 -1l2 4l2 -8l2 10l2 -11l2 7l2 -9l2 13l2 -10l2 7l2 -7l2 4l2 4l2 -8l2 2l2 2l2 -2l2 -4l2 6l2 -5l2 3l2 5l2 -9l2 0l2 9l2 -4l2 -2l2 -1l2 2l2 6l2 -8l2 8l2 -4l2 2l2 -1l2 1l2 -5l2 2l2 5l2 -2l2 -6l2 3l2 -3l2 2l2 11l2 -9l2 2l2 0l2 3l2 2l2 3l2 -6l2 2l2 -8l2 10l2 3l2 -1l2 -6l2 3l2 7l2 -6l2 0l2 -1l2 4l2 69l2 -70l2 2l2 -1l2 9l2 -4H959 V200 Z"/>
<path fill="#ffcf00" d="M151 200V200l3 0l2 0l2 0l2 0l2 0l2 0l2 0l2 0l2 0l2 0l2 0l2 0l2 0l2 0l2 0l2 0l2 0l2 0l2 0l2 0l2 0l2 0l2 0l2 0l2 0l2 0l2 0l2 0l2 0l2 0l2 0l2 0l2 0l2 0l2 0l2 0l2 0l2 0l2 0l2 0l2 0l2 0l2 0l2 0l2 0l2 0l2 0l2 0l2 0l2 0l2 0l2 0l2 0l2 0l2 0l2 0l2 0l2 0l2 0l2 0l2 0l2 0l2 0l2 0l2 0l2 0l2 0l2 0l2 0l2 0l2 0l2 0l2 0l2 0l2 0l2 0l2 0l2 0l2 0l2 0l2 0l2 0l2 0l2 0l2 0l2 0l2 0l2 0l2 0l2 0l2 0l2 0l2 0l2 -40l2 40l2 0l2 0l2 0l2 0l2 -66l2 32l2 34l2 0l2 -103l2 45l2 58l2 -57l2 -35l2 32l2 60l2 -96l2 44l2 4l2 -22l2 18l2 0l2 -9l2 61l2 -81l2 13l2 -38l2 4l2 -8l2 10l2 -5l2 25l2 -22l2 38l2 28l2 -60l2 -4l2 -8l2 46l2 -46l2 -3l2 5l2 -3l2 8l2 -7l2 7l2 -10l2 7l2 -3l2 1l2 -1l2 -1l2 4l2 -5l2 2l2 1l2 4l2 -2l2 -2l2 0l2 -10l2 6l2 2l2 5l2 -5l2 -2l2 4l2 2l2 0l2 -4l2 -1l2 7l2 -9l2 5l2 -5l2 7l2 -6l2 2l2 4l2 0l2 -2l2 0l2 -6l2 5l2 -5l2 8l2 -12l2 8l2 0l2 1l2 1l2 -4l2 -2l2 2l2 8l2 -11l2 5l2 -2l2 0l2 -2l2 0l2 4l2 -7l2 10l2 -7l2 -2l2 6l2 2l2 -7l2 5l2 0l2 -8l2 6l2 0l2 -1l2 3l2 -2l2 0l2 5l2 -4l2 -10l2 12l2 -3l2 -1l2 -1l2 -7l2 11l2 -8l2 -1l2 -3l2 2l2 10l2 -15l2 7l2 6l2 -10l2 6l2 -4l2 6l2 -1l2 -3l2 -4l2 2l2 -4l2 11l2 -8l2 1l2 0l2 -3l2 -1l2 4l2 1l2 -3l2 7l2 -9l2 4l2 0l2 -2l2 1l2 0l2 5l2 -6l2 0l2 0l2 -4l2 6l2 -3l2 2l2 5l2 0l2 0l2 -2l2 2l2 -1l2 -1l2 3l2 1l2 -2l2 0l2 -2l2 4l2 0l2 -2l2 4l2 -3l2 -1l2 6l2 -5l2 3l2 0l2 -2l2 1l2 5l2 -6l2 -1l2 2l2 -3l2 9l2 -6l2 4l2 -3l2 2l2 -10l2 14l2 -4l2 -8l2 7l2 -1l2 0l2 2l2 -2l2 6l2 -8l2 0l2 -1l2 4l2 5l2 -4l2 6l2 -6l2 2l2 -2l2 -4l2 4l2 0l2 4l2 1l2 -7l2 10l2 -7l2 2l2 1l2 -1l2 -7l2 6l2 2l2 -6l2 2l2 -1l2 4l2 -7l2 9l2 -11l2 7l2 -9l2 13l2 -10l2 7l2 -7l2 3l2 6l2 -9l2 2l2 1l2 -1l2 -4l2 7l2 -6l2 3l2 5l2 -10l2 1l2 9l2 -5l2 -2l2 -1l2 2l2 6l2 -8l2 8l2 -4l2 2l2 -1l2 1l2 -5l2 2l2 5l2 -2l2 -6l2 3l2 -2l2 1l2 12l2 -10l2 2l2 1l2 3l2 2l2 4l2 -6l2 1l2 -7l2 10l2 6l2 -2l2 -6l2 2l2 48l2 -38l2 -8l2 12l2 46l2 40l2 -63l2 25l2 -8l2 46l2 0H959 V200 Z"/>
<path fill="#ffaf00" d="M151 200V200l3 0l2 0l2 0l2 0l2 0l2 0l2 0l2 0l2 0l2 0l2 0l2 0l2 0l2 0l2 0l2 0l2 0l2 0l2 0l2 0l2 0l2 0l2 0l2 0l2 0l2 0l2 0l2 0l2 0l2 0l2 0l2 0l2 0l2 0l2 0l2 0l2 0l2 0l2 0l2 0l2 0l2 0l2 0l2 0l2 0l2 0l2 0l2 0l2 0l2 0l2 0l2 0l2 0l2 0l2 0l2 0l2 0l2 0l2 0l2 0l2 0l2 0l2 0l2 0l2 0l2 0l2 0l2 0l2 0l2 0l2 0l2 0l2 0l2 0l2 0l2 0l2 0l2 0l2 0l2 0l2 0l2 0l2 0l2 0l2 0l2 0l2 0l2 0l2 0l2 0l2 0l2 0l2 0l2 0l2 0l2 0l2 0l2 0l2 0l2 0l2 0l2 0l2 0l2 0l2 0l2 0l2 0l2 0l2 0l2 0l2 -32l2 32l2 0l2 0l2 0l2 0l2 0l2 0l2 0l2 0l2 -42l2 4l2 -32l2 10l2 9l2 51l2 -34l2 34l2 0l2 0l2 -22l2 -58l2 80l2 -83l2 -13l2 12l2 -16l2 42l2 -34l2 13l2 -19l2 10l2 -8l2 -4l2 1l2 -1l2 5l2 -7l2 3l2 -1l2 3l2 -1l2 -3l2 0l2 -9l2 5l2 1l2 6l2 -6l2 -2l2 4l2 4l2 0l2 -6l2 0l2 8l2 -10l2 5l2 -5l2 7l2 -5l2 0l2 6l2 -1l2 -2l2 0l2 -7l2 6l2 -5l2 9l2 -12l2 8l2 -1l2 2l2 0l2 -3l2 -2l2 1l2 9l2 -12l2 6l2 -2l2 -1l2 -1l2 -1l2 5l2 -8l2 10l2 -6l2 -4l2 8l2 0l2 -6l2 6l2 -1l2 -9l2 6l2 2l2 -2l2 4l2 -3l2 -1l2 6l2 -4l2 -10l2 12l2 -2l2 -2l2 -1l2 -7l2 10l2 -7l2 -1l2 -4l2 2l2 10l2 -14l2 6l2 6l2 -10l2 8l2 -5l2 5l2 0l2 -3l2 -4l2 2l2 -5l2 12l2 -8l2 2l2 -2l2 -2l2 -2l2 4l2 2l2 -3l2 7l2 -10l2 4l2 2l2 -4l2 2l2 0l2 4l2 -6l2 0l2 0l2 -4l2 7l2 -3l2 2l2 4l2 1l2 1l2 -4l2 2l2 0l2 0l2 2l2 2l2 -4l2 1l2 -1l2 4l2 -2l2 0l2 3l2 -3l2 0l2 6l2 -6l2 3l2 1l2 -2l2 0l2 6l2 -6l2 -2l2 2l2 -2l2 8l2 -6l2 4l2 -2l2 2l2 -10l2 13l2 -3l2 -9l2 7l2 -1l2 1l2 2l2 -2l2 5l2 -7l2 0l2 -1l2 4l2 3l2 -2l2 5l2 -6l2 3l2 -3l2 -3l2 4l2 -2l2 5l2 1l2 -7l2 9l2 -6l2 2l2 1l2 -1l2 -6l2 5l2 2l2 -6l2 2l2 -1l2 4l2 -7l2 9l2 -10l2 6l2 -9l2 13l2 -10l2 7l2 -7l2 4l2 4l2 -8l2 2l2 1l2 -1l2 -4l2 6l2 -6l2 4l2 4l2 -9l2 1l2 8l2 -4l2 -2l2 -2l2 2l2 6l2 -8l2 8l2 -4l2 2l2 -1l2 1l2 -5l2 1l2 6l2 -2l2 -6l2 4l2 -3l2 1l2 12l2 -9l2 2l2 1l2 3l2 2l2 7l2 -9l2 1l2 -6l2 14l2 90l2 -28l2 28l2 -72l2 72l2 0l2 0l2 0l2 0l2 0l2 0l2 0l2 0l2 0l2 0H959 V200 Z"/>
<path fill="#ff8f00" d="M151 200V200l3 0l2 0l2 0l2 0l2 0l2 0l2 0l2 0l2 0l2 0l2 0l2 0l2 0l2 0l2 0l2 0l2 0l2 0l2 0l2 0l2 0l2 0l2 0l2 0l2 0l2 0l2 0l2 0l2 0l2 0l2 0l2 0l2 0l2 0l2 0l2 0l2 0l2 0l2 0l2 0l2 0l2 0l2 0l2 0l2 0l2 0l2 0l2 0l2 0l2 0l2 0l2 0l2 0l2 0l2 0l2 0l2 0l2 0l2 0l2 0l2 0l2 0l2 0l2 0l2 0l2 0l2 0l2 0l2 0l2 0l2 0l2 0l2 0l2 0l2 0l2 0l2 0l2 0l2 0l2 0l2 0l2 0l2 0l2 0l2 0l2 0l2 0l2 0l2 0l2 0l2 0l2 0l2 0l2 0l2 0l2 0l2 0l2 0l2 0l2 0l2 0l2 0l2 0l2 0l2 0l2 0l2 0l2 0l2 0l2 0l2 0l2 0l2 0l2 0l2 0l2 0l2 0l2 0l2 0l2 0l2 0l2 0l2 0l2 0l2 0l2 0l2 0l2 0l2 0l2 0l2 0l2 0l2 0l2 0l2 0l2 0l2 -50l2 50l2 -27l2 27l2 -42l2 18l2 -36l2 -24l2 1l2 -2l2 5l2 -13l2 7l2 -2l2 2l2 -2l2 -5l2 1l2 -14l2 6l2 2l2 7l2 -7l2 -2l2 6l2 4l2 0l2 -6l2 -1l2 9l2 -13l2 6l2 -5l2 7l2 -6l2 1l2 7l2 -1l2 -2l2 -1l2 -7l2 6l2 -5l2 9l2 -12l2 8l2 -1l2 1l2 1l2 -4l2 -1l2 0l2 10l2 -12l2 6l2 -2l2 -2l2 -1l2 -1l2 6l2 -8l2 10l2 -6l2 -4l2 6l2 2l2 -7l2 6l2 -1l2 -8l2 6l2 1l2 -1l2 4l2 -4l2 0l2 6l2 -4l2 -12l2 15l2 -3l2 -2l2 -2l2 -8l2 12l2 -8l2 -1l2 -4l2 3l2 9l2 -15l2 8l2 5l2 -10l2 7l2 -4l2 6l2 -2l2 -2l2 -4l2 2l2 -5l2 11l2 -8l2 2l2 0l2 -4l2 -1l2 4l2 1l2 -2l2 6l2 -10l2 5l2 1l2 -2l2 0l2 0l2 5l2 -6l2 -1l2 0l2 -3l2 7l2 -4l2 3l2 5l2 0l2 0l2 -2l2 2l2 0l2 -2l2 4l2 2l2 -4l2 0l2 -1l2 5l2 -2l2 0l2 2l2 -2l2 0l2 5l2 -5l2 2l2 1l2 -2l2 1l2 4l2 -5l2 -1l2 2l2 -4l2 10l2 -6l2 4l2 -3l2 1l2 -9l2 13l2 -3l2 -9l2 7l2 -1l2 1l2 1l2 -2l2 6l2 -8l2 0l2 0l2 4l2 3l2 -3l2 6l2 -6l2 2l2 -2l2 -4l2 4l2 -1l2 5l2 0l2 -6l2 8l2 -6l2 2l2 2l2 -2l2 -6l2 6l2 2l2 -6l2 2l2 -1l2 3l2 -6l2 9l2 -11l2 7l2 -9l2 13l2 -10l2 7l2 -7l2 3l2 6l2 -9l2 2l2 1l2 -2l2 -3l2 6l2 -5l2 2l2 6l2 -10l2 0l2 8l2 -4l2 -2l2 -2l2 2l2 6l2 -8l2 8l2 -4l2 2l2 0l2 0l2 -5l2 3l2 4l2 -2l2 -6l2 4l2 -3l2 2l2 13l2 -10l2 2l2 2l2 4l2 2l2 46l2 -46l2 0l2 -4l2 94l2 0l2 0l2 0l2 0l2 0l2 0l2 0l2 0l2 0l2 0l2 0l2 0l2 0l2 0l2 0H959 V200 Z"/>
<path fill="#ff7000" d="M151 200V200l3 0l2 0l2 0l2 0l2 0l2 0l2 0l2 0l2 0l2 0l2 0l2 0l2 0l2 0l2 0l2 0l2 0l2 0l2 0l2 0l2 0l2 0l2 0l2 0l2 0l2 0l2 0l2 0l2 0l2 0l2 0l2 0l2 0l2 0l2 0l2 0l2 0l2 0l2 0l2 0l2 0l2 0l2 0l2 0l2 0l2 0l2 0l2 0l2 0l2 0l2 0l2 0l2 0l2 0l2 0l2 0l2 0l2 0l2 0l2 0l2 0l2 0l2 0l2 0l2 0l2 0l2 0l2 0l2 0l2 0l2 0l2 0l2 0l2 0l2 0l2 0l2 0l2 0l2 0l2 0l2 0l2 0l2 0l2 0l2 0l2 0l2 0l2 0l2 0l2 0l2 0l2 0l2 0l2 0l2 0l2 0l2 0l2 0l2 0l2 0l2 0l2 0l2 0l2 0l2 0l2 0l2 0l2 0l2 0l2 0l2 0l2 0l2 0l2 0l2 0l2 0l2 0l2 0l2 0l2 0l2 0l2 0l2 0l2 0l2 0l2 0l2 0l2 0l2 0l2 0l2 0l2 0l2 0l2 0l2 0l2 0l2 0l2 0l2 0l2 0l2 0l2 0l2 0l2 0l2 0l2 0l2 0l2 -80l2 80l2 -50l2 -21l2 13l2 -24l2 0l2 -14l2 5l2 2l2 6l2 -7l2 -2l2 5l2 5l2 0l2 -6l2 -1l2 9l2 -14l2 7l2 -5l2 7l2 -7l2 0l2 10l2 -2l2 -2l2 -1l2 -9l2 8l2 -6l2 12l2 -15l2 7l2 1l2 2l2 -1l2 -4l2 -2l2 2l2 10l2 -15l2 9l2 -4l2 0l2 -1l2 -3l2 6l2 -9l2 12l2 -8l2 -4l2 9l2 -1l2 -7l2 10l2 -4l2 -10l2 8l2 0l2 0l2 7l2 -5l2 -2l2 7l2 -5l2 -12l2 16l2 -2l2 -3l2 -3l2 -6l2 10l2 -7l2 -1l2 -6l2 4l2 10l2 -16l2 8l2 7l2 -13l2 9l2 -3l2 5l2 -3l2 -2l2 -5l2 1l2 -4l2 15l2 -10l2 1l2 -2l2 -3l2 -1l2 4l2 4l2 -4l2 7l2 -11l2 4l2 1l2 -3l2 2l2 0l2 4l2 -6l2 0l2 0l2 -4l2 8l2 -4l2 4l2 3l2 3l2 0l2 -4l2 2l2 0l2 -1l2 3l2 2l2 -4l2 0l2 0l2 4l2 -2l2 -1l2 4l2 -4l2 1l2 6l2 -6l2 3l2 -1l2 -2l2 2l2 5l2 -7l2 -1l2 2l2 -3l2 10l2 -6l2 4l2 -4l2 2l2 -10l2 14l2 -4l2 -8l2 6l2 -1l2 1l2 2l2 -2l2 5l2 -8l2 1l2 -2l2 4l2 4l2 -2l2 5l2 -7l2 3l2 -3l2 -4l2 5l2 -1l2 4l2 1l2 -7l2 9l2 -7l2 3l2 1l2 -1l2 -6l2 5l2 2l2 -6l2 2l2 0l2 4l2 -8l2 10l2 -10l2 6l2 -9l2 13l2 -10l2 7l2 -7l2 4l2 4l2 -8l2 2l2 2l2 -2l2 -4l2 6l2 -6l2 4l2 5l2 -11l2 1l2 9l2 -4l2 -3l2 -2l2 2l2 6l2 -7l2 8l2 -5l2 2l2 -1l2 0l2 -4l2 2l2 4l2 -2l2 -5l2 3l2 -2l2 2l2 14l2 -10l2 3l2 2l2 32l2 -9l2 66l2 0l2 -36l2 36l2 0l2 0l2 0l2 0l2 0l2 0l2 0l2 0l2 0l2 0l2 0l2 0l2 0l2 0l2 0l2 0H959 V200 Z"/>
<path fill="#ff5000" d="M151 200V200l3 0l2 0l2 0l2 0l2 0l2 0l2 0l2 0l2 0l2 0l2 0l2 0l2 0l2 0l2 0l2 0l2 0l2 0l2 0l2 0l2 0l2 0l2 0l2 0l2 0l2 0l2 0l2 0l2 0l2 0l2 0l2 0l2 0l2 0l2 0l2 0l2 0l2 0l2 0l2 0l2 0l2 0l2 0l2 0l2 0l2 0l2 0l2 0l2 0l2 0l2 0l2 0l2 0l2 0l2 0l2 0l2 0l2 0l2 0l2 0l2 0l2 0l2 0l2 0l2 0l2 0l2 0l2 0l2 0l2 0l2 0l2 0l2 0l2 0l2 0l2 0l2 0l2 0l2 0l2 0l2 0l2 0l2 0l2 0l2 0l2 0l2 0l2 0l2 0l2 0l2 0l2 0l2 0l2 0l2 0l2 0l2 0l2 0l2 0l2 0l2 0l2 0l2 0l2 0l2 0l2 0l2 0l2 0l2 0l2 0l2 0l2 0l2 0l2 0l2 0l2 0l2 0l2 0l2 0l2 0l2 0l2 0l2 0l2 0l2 0l2 0l2 0l2 0l2 0l2 0l2 0l2 0l2 0l2 0l2 0l2 0l2 0l2 0l2 0l2 0l2 0l2 0l2 0l2 0l2 0l2 0l2 0l2 0l2 0l2 0l2 0l2 0l2 0l2 0l2 -88l2 6l2 2l2 20l2 -22l2 -2l2 18l2 66l2 -20l2 -31l2 -22l2 51l2 -64l2 8l2 -6l2 8l2 -7l2 -1l2 22l2 -12l2 2l2 -6l2 -10l2 8l2 -4l2 10l2 -14l2 8l2 0l2 2l2 0l2 -5l2 -1l2 1l2 10l2 -16l2 10l2 -5l2 1l2 -1l2 -3l2 7l2 -10l2 12l2 -8l2 -6l2 11l2 -2l2 -6l2 10l2 -6l2 -11l2 10l2 1l2 -1l2 10l2 -8l2 -2l2 8l2 -7l2 -12l2 20l2 -4l2 -4l2 -3l2 -8l2 12l2 -8l2 -1l2 -6l2 5l2 10l2 -16l2 8l2 6l2 -12l2 9l2 -3l2 5l2 -3l2 -2l2 -4l2 0l2 -5l2 17l2 -10l2 0l2 -1l2 -5l2 -2l2 8l2 3l2 -5l2 8l2 -14l2 7l2 1l2 -4l2 5l2 -1l2 2l2 -6l2 -2l2 0l2 -3l2 9l2 -4l2 4l2 3l2 4l2 -1l2 -3l2 1l2 2l2 -2l2 2l2 2l2 -6l2 2l2 0l2 4l2 -2l2 0l2 4l2 -6l2 3l2 5l2 -7l2 5l2 -2l2 -2l2 0l2 8l2 -9l2 -1l2 1l2 -3l2 12l2 -5l2 4l2 -5l2 2l2 -12l2 14l2 -2l2 -11l2 11l2 -6l2 2l2 1l2 5l2 0l2 -10l2 0l2 0l2 4l2 13l2 -11l2 22l2 -20l2 -1l2 -3l2 -4l2 4l2 -2l2 6l2 0l2 -8l2 41l2 -27l2 -9l2 25l2 -24l2 -6l2 5l2 2l2 -7l2 14l2 -12l2 14l2 -17l2 9l2 -10l2 7l2 -9l2 14l2 -11l2 7l2 -7l2 4l2 5l2 -9l2 2l2 2l2 -2l2 -3l2 6l2 -6l2 2l2 15l2 -19l2 0l2 8l2 -4l2 -2l2 -2l2 2l2 6l2 -8l2 8l2 -4l2 2l2 -1l2 0l2 -5l2 2l2 5l2 -1l2 -6l2 4l2 -2l2 2l2 56l2 -52l2 51l2 37l2 0l2 0l2 0l2 0l2 0l2 0l2 0l2 0l2 0l2 0l2 0l2 0l2 0l2 0l2 0l2 0l2 0l2 0l2 0l2 0l2 0l2 0H959 V200 Z"/>
<path fill="#ff3000" d="M151 200V200l3 0l2 0l2 0l2 0l2 0l2 0l2 0l2 0l2 0l2 0l2 0l2 0l2 0l2 0l2 0l2 0l2 0l2 0l2 0l2 0l2 0l2 0l2 0l2 0l2 0l2 0l2 0l2 0l2 0l2 0l2 0l2 0l2 0l2 0l2 0l2 0l2 0l2 0l2 0l2 0l2 0l2 0l2 0l2 0l2 0l2 0l2 0l2 0l2 0l2 0l2 0l2 0l2 0l2 0l2 0l2 0l2 0l2 0l2 0l2 0l2 0l2 0l2 0l2 0l2 0l2 0l2 0l2 0l2 0l2 0l2 0l2 0l2 0l2 0l2 0l2 0l2 0l2 0l2 0l2 0l2 0l2 0l2 0l2 0l2 0l2 0l2 0l2 0l2 0l2 0l2 0l2 0l2 0l2 0l2 0l2 0l2 0l2 0l2 0l2 0l2 0l2 0l2 0l2 0l2 0l2 0l2 0l2 0l2 0l2 0l2 0l2 0l2 0l2 0l2 0l2 0l2 0l2 0l2 0l2 0l2 0l2 0l2 0l2 0l2 0l2 0l2 0l2 0l2 0l2 0l2 0l2 0l2 0l2 0l2 0l2 0l2 0l2 0l2 0l2 0l2 0l2 0l2 0l2 0l2 0l2 0l2 0l2 0l2 0l2 0l2 0l2 0l2 0l2 0l2 0l2 0l2 0l2 0l2 0l2 0l2 0l2 0l2 0l2 0l2 0l2 0l2 -68l2 68l2 -37l2 37l2 -46l2 -28l2 74l2 0l2 0l2 -34l2 -45l2 23l2 -4l2 60l2 -67l2 4l2 21l2 6l2 -18l2 -10l2 0l2 6l2 18l2 -40l2 51l2 -45l2 16l2 5l2 -25l2 22l2 -26l2 32l2 -27l2 -5l2 26l2 -18l2 -6l2 54l2 -50l2 -11l2 10l2 2l2 -1l2 76l2 -66l2 -10l2 14l2 -13l2 -14l2 52l2 -15l2 -19l2 -7l2 -8l2 14l2 -9l2 -2l2 -9l2 8l2 9l2 -18l2 10l2 11l2 -18l2 12l2 2l2 3l2 -9l2 0l2 -6l2 0l2 -4l2 28l2 -19l2 -1l2 -2l2 -6l2 -2l2 8l2 16l2 -15l2 17l2 -25l2 7l2 2l2 -4l2 22l2 -18l2 3l2 -7l2 -2l2 0l2 -4l2 10l2 -4l2 7l2 -1l2 16l2 -9l2 -5l2 0l2 8l2 -8l2 4l2 1l2 -7l2 1l2 5l2 0l2 -4l2 1l2 12l2 -14l2 15l2 10l2 -22l2 19l2 -17l2 -2l2 2l2 24l2 -26l2 -1l2 -1l2 0l2 25l2 3l2 6l2 -18l2 6l2 -28l2 21l2 12l2 -33l2 36l2 -15l2 -11l2 6l2 32l2 -8l2 -34l2 -1l2 -1l2 4l2 52l2 -24l2 50l2 -42l2 -4l2 -19l2 -16l2 13l2 12l2 15l2 -19l2 9l2 51l2 -32l2 -10l2 42l2 -42l2 -35l2 33l2 2l2 -5l2 19l2 -10l2 14l2 -27l2 16l2 -47l2 23l2 -19l2 54l2 -26l2 -4l2 -10l2 34l2 -12l2 -26l2 20l2 -2l2 -30l2 40l2 12l2 -37l2 -14l2 79l2 -91l2 20l2 -9l2 43l2 -33l2 -21l2 2l2 6l2 2l2 -1l2 -6l2 3l2 2l2 -3l2 -5l2 39l2 -32l2 -2l2 6l2 11l2 -11l2 26l2 54l2 0l2 0l2 0l2 0l2 0l2 0l2 0l2 0l2 0l2 0l2 0l2 0l2 0l2 0l2 0l2 0l2 0l2 0l2 0l2 0l2 0l2 0l2 0l2 0l2 0H959 V200 Z"/>
<path fill="#ff1000" d="M151 200V200l3 0l2 0l2 0l2 0l2 0l2 0l2 0l2 0l2 0l2 0l2 0l2 0l2 0l2 0l2 0l2 0l2 0l2 0l2 0l2 0l2 0l2 0l2 0l2 0l2 0l2 0l2 0l2 0l2 0l2 0l2 0l2 0l2 0l2 0l2 0l2 0l2 0l2 0l2 0l2 0l2 0l2 0l2 0l2 0l2 0l2 0l2 0l2 0l2 0l2 0l2 0l2 0l2 0l2 0l2 0l2 0l2 0l2 0l2 0l2 0l2 0l2 0l2 0l2 0l2 0l2 0l2 0l2 0l2 0l2 0l2 0l2 0l2 0l2 0l2 0l2 0l2 0l2 0l2 0l2 0l2 0l2 0l2 0l2 0l2 0l2 0l2 0l2 0l2 0l2 0l2 0l2 0l2 0l2 0l2 0l2 0l2 0l2 0l2 0l2 0l2 0l2 0l2 0l2 0l2 0l2 0l2 0l2 0l2 0l2 0l2 0l2 0l2 0l2 0l2 0l2 0l2 0l2 0l2 0l2 0l2 0l2 0l2 0l2 0l2 0l2 0l2 0l2 0l2 0l2 0l2 0l2 0l2 0l2 0l2 0l2 0l2 0l2 0l2 0l2 0l2 0l2 0l2 0l2 0l2 0l2 0l2 0l2 0l2 0l2 0l2 0l2 0l2 0l2 0l2 0l2 0l2 0l2 0l2 0l2 0l2 0l2 0l2 0l2 0l2 0l2 0l2 0l2 0l2 0l2 0l2 0l2 0l2 0l2 0l2 0l2 0l2 -34l2 34l2 0l2 0l2 0l2 0l2 0l2 0l2 0l2 0l2 0l2 0l2 0l2 -43l2 43l2 0l2 0l2 0l2 -30l2 30l2 -40l2 40l2 -24l2 -28l2 52l2 -46l2 10l2 36l2 -46l2 -32l2 46l2 10l2 -1l2 23l2 0l2 -28l2 28l2 -40l2 -36l2 76l2 0l2 0l2 -50l2 -14l2 37l2 -25l2 -12l2 -18l2 20l2 4l2 -22l2 15l2 65l2 -74l2 26l2 48l2 0l2 -64l2 15l2 -20l2 -3l2 -5l2 77l2 -36l2 -12l2 -14l2 -16l2 -5l2 46l2 37l2 -31l2 31l2 -77l2 41l2 13l2 -25l2 48l2 0l2 -24l2 -26l2 -21l2 7l2 -7l2 33l2 -11l2 25l2 -18l2 42l2 0l2 -24l2 -11l2 35l2 -33l2 11l2 22l2 -64l2 16l2 48l2 0l2 -52l2 22l2 30l2 -56l2 56l2 0l2 -32l2 32l2 -26l2 -4l2 3l2 27l2 -36l2 6l2 -26l2 30l2 26l2 0l2 0l2 0l2 0l2 -47l2 47l2 0l2 -48l2 48l2 0l2 -29l2 29l2 0l2 0l2 -36l2 -3l2 -3l2 8l2 34l2 0l2 0l2 0l2 0l2 0l2 -36l2 16l2 20l2 0l2 0l2 0l2 0l2 0l2 0l2 0l2 0l2 -29l2 29l2 0l2 0l2 0l2 0l2 0l2 0l2 0l2 -27l2 27l2 0l2 0l2 0l2 0l2 0l2 0l2 0l2 0l2 0l2 0l2 0l2 0l2 0l2 0l2 0l2 0l2 -35l2 35l2 0l2 0l2 0l2 -46l2 -4l2 26l2 24l2 -20l2 -32l2 52l2 0l2 -26l2 -30l2 56l2 -21l2 -3l2 24l2 0l2 0l2 0l2 0l2 0l2 0l2 0l2 0l2 0l2 0l2 0l2 0l2 0l2 0l2 0l2 0l2 0l2 0l2 0l2 0l2 0l2 0l2 0l2 0l2 0l2 0l2 0l2 0l2 0H959 V200 Z"/>
<path fill="#ef0000" d="M151 200V200l3 0l2 0l2 0l2 0l2 0l2 0l2 0l2 0l2 0l2 0l2 0l2 0l2 0l2 0l2 0l2 0l2 0l2 0l2 0l2 0l2 0l2 0l2 0l2 0l2 0l2 0l2 0l2 0l2 0l2 0l2 0l2 0l2 0l2 0l2 0l2 0l2 0l2 0l2 0l2 0l2 0l2 0l2 0l2 0l2 0l2 0l2 0l2 0l2 0l2 0l2 0l2 0l2 0l2 0l2 0l2 0l2 0l2 0l2 0l2 0l2 0l2 0l2 0l2 0l2 0l2 0l2 0l2 0l2 0l2 0l2 0l2 0l2 0l2 0l2 0l2 0l2 0l2 0l2 0l2 0l2 0l2 0l2 0l2 0l2 0l2 0l2 0l2 0l2 0l2 0l2 0l2 0l2 0l2 0l2 0l2 0l2 0l2 0l2 0l2 0l2 0l2 0l2 0l2 0l2 0l2 0l2 0l2 0l2 0l2 0l2 0l2 0l2 0l2 0l2 0l2 0l2 0l2 0l2 0l2 0l2 0l2 0l2 0l2 0l2 0l2 0l2 0l2 0l2 0l2 0l2 0l2 0l2 0l2 0l2 0l2 0l2 0l2 0l2 0l2 0l2 0l2 0l2 0l2 0l2 0l2 0l2 0l2 0l2 0l2 0l2 0l2 0l2 0l2 0l2 0l2 0l2 0l2 0l2 0l2 0l2 0l2 0l2 0l2 0l2 0l2 0l2 0l2 0l2 0l2 0l2 0l2 0l2 0l2 0l2 0l2 0l2 0l2 0l2 0l2 0l2 0l2 0l2 0l2 0l2 0l2 0l2 0l2 0l2 0l2 0l2 0l2 0l2 0l2 0l2 0l2 0l2 0l2 0l2 0l2 0l2 0l2 0l2 0l2 0l2 0l2 -27l2 27l2 0l2 0l2 0l2 0l2 0l2 0l2 0l2 0l2 0l2 0l2 0l2 0l2 0l2 0l2 0l2 0l2 -66l2 66l2 0l2 0l2 0l2 0l2 0l2 0l2 0l2 0l2 0l2 0l2 0l2 0l2 0l2 0l2 0l2 0l2 0l2 -22l2 -12l2 34l2 0l2 0l2 0l2 0l2 0l2 0l2 0l2 0l2 0l2 0l2 0l2 0l2 0l2 0l2 0l2 0l2 0l2 0l2 0l2 0l2 0l2 0l2 0l2 0l2 0l2 0l2 0l2 0l2 0l2 0l2 0l2 0l2 0l2 0l2 0l2 0l2 0l2 0l2 0l2 0l2 0l2 0l2 0l2 0l2 0l2 0l2 0l2 0l2 0l2 0l2 0l2 0l2 0l2 0l2 0l2 0l2 0l2 0l2 0l2 0l2 0l2 0l2 0l2 0l2 0l2 0l2 0l2 0l2 0l2 0l2 0l2 0l2 0l2 0l2 0l2 0l2 0l2 0l2 0l2 0l2 0l2 0l2 0l2 0l2 0l2 0l2 0l2 0l2 0l2 0l2 0l2 0l2 0l2 0l2 0l2 0l2 0l2 0l2 0l2 0l2 0l2 0l2 0l2 0l2 0l2 0l2 0l2 0l2 0l2 0l2 0l2 0l2 0l2 0l2 0l2 0l2 0l2 0l2 0l2 0l2 0l2 0l2 0l2 0l2 0l2 0l2 0l2 0l2 0l2 0l2 0l2 0l2 0l2 0l2 0l2 0l2 0l2 0l2 0l2 0l2 0l2 0l2 0l2 0l2 0l2 0l2 0l2 0l2 0l2 0l2 0l2 0l2 0l2 0l2 0l2 0l2 0H959 V200 Z"/>
<use href="#mask"/>
<rect x="150" y="8" width="810" height="1" fill="#000"/>
<circle shape-rendering="auto" fill="#bdff42" cx="166.5" cy="86" r="2.5"/><circle shape-rendering="auto" fill="#bdff42" cx="173.5" cy="91.5" r="2.5"/><circle shape-rendering="auto" fill="#bdff42" cx="240.5" cy="114" r="2.2"/><circle shape-rendering="auto" fill="#bdff42" cx="248" cy="111" r="1.8"/><circle shape-rendering="auto" fill="#bdff42" cx="267.5" cy="114" r="2"/><circle shape-rendering="auto" fill="#ff4c00" cx="723.5" cy="137" r="2"/>
</g>
<g transform="translate(0,506)" shape-rendering="crispEdges">
<rect x="150" y="0" width="810" height="200" fill="#0010ff"/>
<path fill="#0030ff" d="M151 200V8l3 0l2 0l2 8l2 -8l2 0l2 0l2 0l2 0l2 0l2 0l2 0l2 0l2 0l2 0l2 0l2 0l2 0l2 0l2 0l2 0l2 0l2 0l2 0l2 0l2 0l2 0l2 8l2 -8l2 0l2 0l2 0l2 7l2 -7l2 0l2 0l2 0l2 0l2 11l2 -11l2 0l2 0l2 0l2 0l2 0l2 0l2 0l2 2l2 4l2 -6l2 0l2 0l2 0l2 0l2 0l2 0l2 0l2 0l2 0l2 0l2 8l2 -8l2 0l2 0l2 0l2 0l2 0l2 0l2 0l2 0l2 2l2 0l2 -2l2 0l2 0l2 0l2 8l2 -8l2 2l2 2l2 -4l2 0l2 0l2 0l2 0l2 0l2 0l2 0l2 0l2 0l2 0l2 0l2 0l2 0l2 0l2 0l2 0l2 0l2 0l2 0l2 0l2 0l2 0l2 0l2 0l2 0l2 0l2 0l2 0l2 0l2 0l2 0l2 0l2 0l2 0l2 0l2 0l2 0l2 0l2 0l2 0l2 0l2 0l2 0l2 0l2 0l2 0l2 0l2 0l2 0l2 0l2 0l2 0l2 0l2 0l2 0l2 0l2 0l2 0l2 0l2 0l2 0l2 0l2 0l2 0l2 0l2 0l2 0l2 0l2 0l2 0l2 0l2 0l2 0l2 0l2 0l2 0l2 0l2 0l2 0l2 0l2 0l2 0l2 0l2 0l2 0l2 0l2 0l2 0l2 0l2 0l2 0l2 0l2 0l2 0l2 0l2 0l2 0l2 0l2 0l2 0l2 0l2 0l2 0l2 0l2 0l2 0l2 0l2 0l2 0l2 0l2 0l2 0l2 0l2 0l2 0l2 0l2 0l2 0l2 0l2 0l2 0l2 0l2 0l2 0l2 0l2 0l2 0l2 0l2 0l2 0l2 0l2 0l2 0l2 0l2 0l2 0l2 0l2 0l2 0l2 0l2 0l2 0l2 0l2 0l2 0l2 0l2 0l2 0l2 0l2 0l2 0l2 0l2 0l2 0l2 0l2 0l2 0l2 0l2 0l2 0l2 0l2 0l2 0l2 0l2 0l2 0l2 0l2 0l2 0l2 0l2 0l2 0l2 0l2 0l2 0l2 0l2 0l2 0l2 0l2 0l2 0l2 0l2 0l2 0l2 0l2 0l2 0l2 0l2 0l2 0l2 0l2 0l2 0l2 0l2 0l2 0l2 0l2 0l2 0l2 0l2 0l2 0l2 0l2 0l2 0l2 0l2 0l2 0l2 0l2 0l2 0l2 0l2 0l2 0l2 0l2 0l2 0l2 0l2 0l2 0l2 0l2 0l2 0l2 0l2 0l2 0l2 0l2 0l2 0l2 0l2 0l2 0l2 0l2 0l2 0l2 0l2 0l2 0l2 0l2 0l2 0l2 0l2 0l2 0l2 0l2 0l2 0l2 0l2 0l2 0l2 0l2 0l2 0l2 0l2 0l2 0l2 0l2 0l2 0l2 0l2 0l2 0l2 0l2 0l2 0l2 0l2 0l2 0l2 0l2 0l2 0l2 0l2 0l2 0l2 0l2 0l2 0l2 0l2 0l2 0l2 0l2 0l2 0l2 0l2 0l2 0l2 0l2 0l2 0l2 0l2 0l2 0l2 0l2 0l2 0l2 0l2 0l2 0l2 0l2 0l2 0l2 0l2 0l2 0l2 0l2 0l2 0l2 0l2 0l2 0l2 0l2 0l2 0l2 0l2 0l2 0l2 0l2 0l2 0l2 0l2 0l2 0H959 V200 Z"/>
<path fill="#0050ff" d="M151 200V26l3 0l2 -5l2 5l2 -14l2 6l2 2l2 -2l2 3l2 3l2 -6l2 -1l2 1l2 4l2 7l2 -9l2 -4l2 0l2 9l2 -1l2 -9l2 9l2 -9l2 1l2 4l2 1l2 -1l2 8l2 -7l2 3l2 -1l2 1l2 -2l2 -1l2 -3l2 0l2 2l2 -2l2 12l2 -18l2 13l2 -2l2 -7l2 0l2 0l2 10l2 -10l2 4l2 4l2 -6l2 -4l2 8l2 -2l2 1l2 -3l2 1l2 -1l2 8l2 -4l2 -2l2 6l2 -13l2 13l2 -5l2 -8l2 13l2 -8l2 -3l2 11l2 -8l2 2l2 2l2 -2l2 0l2 -3l2 5l2 2l2 1l2 -3l2 2l2 -10l2 12l2 -12l2 4l2 5l2 -5l2 2l2 -2l2 6l2 -7l2 3l2 -2l2 -2l2 6l2 -8l2 6l2 0l2 3l2 -9l2 4l2 -4l2 4l2 6l2 -6l2 -10l2 10l2 2l2 -8l2 -1l2 9l2 -6l2 4l2 -2l2 -7l2 5l2 -2l2 2l2 2l2 2l2 -5l2 3l2 -8l2 0l2 0l2 0l2 0l2 4l2 -4l2 0l2 8l2 -8l2 0l2 0l2 8l2 -8l2 0l2 0l2 0l2 0l2 0l2 0l2 0l2 0l2 0l2 0l2 0l2 0l2 0l2 0l2 0l2 0l2 0l2 0l2 0l2 0l2 0l2 0l2 0l2 0l2 0l2 0l2 0l2 0l2 0l2 0l2 0l2 0l2 0l2 0l2 0l2 0l2 0l2 0l2 2l2 -2l2 0l2 0l2 0l2 0l2 0l2 4l2 -4l2 0l2 0l2 2l2 -2l2 0l2 0l2 0l2 10l2 -10l2 3l2 -2l2 -1l2 0l2 0l2 5l2 -5l2 8l2 -7l2 -1l2 6l2 -6l2 0l2 8l2 -2l2 -6l2 4l2 2l2 -1l2 6l2 -4l2 -1l2 8l2 -6l2 -8l2 14l2 -4l2 -2l2 -2l2 -6l2 12l2 -10l2 0l2 -2l2 1l2 12l2 -13l2 4l2 8l2 -12l2 8l2 -4l2 7l2 -2l2 -2l2 -5l2 2l2 -4l2 15l2 -11l2 2l2 0l2 -5l2 -1l2 6l2 4l2 -4l2 8l2 -13l2 7l2 2l2 -4l2 3l2 0l2 5l2 -9l2 -1l2 0l2 -4l2 8l2 -6l2 4l2 4l2 2l2 -1l2 -5l2 2l2 0l2 -2l2 2l2 2l2 -6l2 1l2 -2l2 5l2 -4l2 0l2 3l2 -7l2 2l2 6l2 -8l2 4l2 -2l2 -2l2 0l2 6l2 -6l2 0l2 0l2 0l2 0l2 0l2 0l2 0l2 0l2 0l2 0l2 0l2 0l2 0l2 0l2 0l2 0l2 0l2 0l2 0l2 0l2 0l2 0l2 0l2 0l2 0l2 0l2 0l2 0l2 0l2 0l2 0l2 0l2 0l2 0l2 0l2 0l2 0l2 0l2 0l2 0l2 0l2 0l2 0l2 0l2 0l2 0l2 0l2 0l2 0l2 0l2 0l2 0l2 0l2 0l2 0l2 0l2 0l2 0l2 0l2 0l2 0l2 0l2 0l2 0l2 0l2 0l2 0l2 0l2 0l2 0l2 0l2 0l2 0l2 0l2 0l2 0l2 0l2 0l2 0l2 0l2 0l2 0l2 0l2 0l2 0l2 0l2 0l2 0l2 0l2 0l2 0l2 0l2 0l2 0l2 0l2 0l2 0l2 0l2 0l2 0l2 0l2 0l2 0l2 0l2 0l2 0l2 0l2 0l2 0l2 0l2 0l2 0l2 0l2 0H959 V200 Z"/>
<path fill="#0070ff" d="M151 200V27l3 0l2 -5l2 6l2 -15l2 7l2 1l2 -2l2 3l2 4l2 -6l2 -2l2 1l2 4l2 8l2 -9l2 -4l2 -1l2 10l2 -2l2 -8l2 9l2 -9l2 0l2 4l2 1l2 -1l2 9l2 -8l2 4l2 -1l2 1l2 -2l2 -2l2 -2l2 0l2 1l2 -1l2 12l2 -18l2 12l2 -2l2 -7l2 1l2 -2l2 11l2 -9l2 4l2 4l2 -7l2 -4l2 9l2 -2l2 0l2 -3l2 1l2 0l2 7l2 -5l2 0l2 5l2 -13l2 14l2 -6l2 -7l2 12l2 -9l2 -2l2 12l2 -8l2 0l2 4l2 -2l2 -1l2 -3l2 6l2 0l2 2l2 -4l2 2l2 -8l2 12l2 -13l2 3l2 8l2 -6l2 1l2 -3l2 8l2 -8l2 4l2 -2l2 -2l2 8l2 -7l2 3l2 0l2 4l2 -10l2 6l2 -1l2 3l2 2l2 -7l2 -3l2 8l2 -1l2 -5l2 2l2 8l2 -10l2 11l2 -7l2 -6l2 6l2 -3l2 3l2 2l2 -2l2 1l2 3l2 -10l2 5l2 -6l2 13l2 -9l2 5l2 -4l2 -3l2 9l2 -2l2 -4l2 0l2 7l2 -6l2 -3l2 4l2 0l2 0l2 -4l2 4l2 -8l2 7l2 -3l2 4l2 -2l2 -1l2 3l2 -2l2 -2l2 3l2 5l2 -4l2 -1l2 0l2 -12l2 8l2 2l2 7l2 -6l2 -2l2 4l2 0l2 1l2 -5l2 0l2 6l2 -4l2 4l2 -5l2 7l2 -4l2 4l2 -2l2 1l2 -4l2 3l2 -2l2 4l2 -8l2 8l2 -11l2 10l2 -3l2 2l2 2l2 -4l2 -2l2 1l2 11l2 -10l2 0l2 2l2 -2l2 -3l2 3l2 3l2 -5l2 8l2 -5l2 -2l2 3l2 8l2 -10l2 -1l2 9l2 -8l2 3l2 1l2 -2l2 -2l2 1l2 3l2 4l2 -1l2 -9l2 6l2 -3l2 1l2 2l2 -8l2 12l2 -8l2 0l2 1l2 -3l2 12l2 -14l2 6l2 5l2 -8l2 7l2 -8l2 8l2 3l2 -5l2 -3l2 5l2 -6l2 8l2 -7l2 3l2 0l2 0l2 -1l2 0l2 0l2 -1l2 7l2 -6l2 2l2 1l2 -2l2 -2l2 2l2 7l2 -7l2 2l2 -1l2 -5l2 6l2 -5l2 1l2 7l2 -3l2 0l2 -4l2 4l2 -4l2 2l2 1l2 1l2 1l2 -2l2 -7l2 6l2 2l2 -4l2 2l2 2l2 -6l2 6l2 -2l2 0l2 2l2 -1l2 1l2 2l2 -2l2 -3l2 5l2 -8l2 10l2 -9l2 4l2 -1l2 2l2 -11l2 17l2 -6l2 -11l2 7l2 -1l2 0l2 1l2 -2l2 6l2 -12l2 0l2 -2l2 4l2 6l2 -4l2 7l2 -9l2 2l2 -4l2 -7l2 5l2 -2l2 6l2 0l2 -9l2 12l2 -9l2 2l2 2l2 -3l2 -5l2 3l2 3l2 -6l2 1l2 -1l2 4l2 -4l2 0l2 0l2 0l2 0l2 0l2 0l2 0l2 0l2 0l2 0l2 0l2 0l2 0l2 0l2 0l2 0l2 0l2 0l2 0l2 0l2 0l2 0l2 0l2 0l2 0l2 0l2 0l2 0l2 0l2 0l2 0l2 0l2 0l2 0l2 0l2 0l2 0l2 0l2 0l2 0l2 0l2 0l2 0l2 0l2 0l2 0l2 0l2 0l2 0l2 0l2 0l2 0l2 0l2 0l2 0l2 0l2 0l2 0l2 0l2 0l2 0l2 0l2 0l2 0l2 0l2 0l2 0H959 V200 Z"/>
<path fill="#008fff" d="M151 200V28l3 0l2 -4l2 5l2 -15l2 8l2 0l2 -2l2 4l2 3l2 -5l2 -2l2 0l2 4l2 8l2 -8l2 -5l2 -1l2 10l2 -2l2 -8l2 9l2 -9l2 0l2 4l2 2l2 -2l2 8l2 -6l2 4l2 -2l2 2l2 -3l2 -1l2 -2l2 -1l2 1l2 -1l2 11l2 -17l2 13l2 -2l2 -8l2 0l2 0l2 10l2 -9l2 4l2 4l2 -7l2 -4l2 8l2 -2l2 2l2 -4l2 1l2 -1l2 8l2 -4l2 -2l2 6l2 -12l2 13l2 -5l2 -8l2 12l2 -8l2 -2l2 10l2 -7l2 1l2 3l2 -3l2 0l2 -3l2 6l2 1l2 1l2 -3l2 2l2 -9l2 12l2 -13l2 4l2 8l2 -7l2 1l2 -2l2 7l2 -7l2 2l2 -1l2 -2l2 9l2 -8l2 3l2 0l2 5l2 -11l2 6l2 -1l2 3l2 3l2 -8l2 -2l2 8l2 -2l2 -4l2 2l2 8l2 -10l2 11l2 -7l2 -7l2 7l2 -4l2 4l2 2l2 -2l2 0l2 4l2 -10l2 4l2 -5l2 13l2 -9l2 5l2 -4l2 -4l2 8l2 0l2 -4l2 0l2 6l2 -5l2 -3l2 5l2 0l2 -2l2 -2l2 3l2 -9l2 8l2 -3l2 6l2 -4l2 -1l2 2l2 1l2 -4l2 3l2 5l2 -4l2 0l2 0l2 -7l2 6l2 1l2 4l2 -6l2 -2l2 3l2 0l2 1l2 -5l2 1l2 6l2 -3l2 3l2 -6l2 8l2 -5l2 5l2 -2l2 0l2 -3l2 3l2 -2l2 4l2 -8l2 8l2 -11l2 10l2 -4l2 2l2 3l2 -4l2 -2l2 0l2 11l2 -9l2 -2l2 4l2 -4l2 -2l2 4l2 2l2 -6l2 8l2 -4l2 -2l2 4l2 7l2 -11l2 0l2 9l2 -7l2 2l2 0l2 -1l2 -2l2 1l2 3l2 3l2 0l2 -9l2 6l2 -3l2 2l2 2l2 -8l2 10l2 -7l2 -1l2 2l2 -3l2 13l2 -14l2 5l2 5l2 -8l2 7l2 -8l2 9l2 2l2 -4l2 -4l2 5l2 -6l2 7l2 -6l2 4l2 0l2 -1l2 0l2 -1l2 0l2 0l2 6l2 -6l2 2l2 1l2 -1l2 -3l2 3l2 6l2 -6l2 1l2 -1l2 -5l2 6l2 -5l2 0l2 8l2 -4l2 2l2 -4l2 3l2 -3l2 0l2 2l2 1l2 1l2 -2l2 -7l2 7l2 2l2 -4l2 2l2 2l2 -6l2 6l2 -3l2 -1l2 4l2 -2l2 0l2 4l2 -4l2 -2l2 6l2 -8l2 9l2 -9l2 4l2 0l2 2l2 -10l2 15l2 -6l2 -6l2 3l2 0l2 4l2 0l2 -6l2 8l2 -6l2 2l2 -2l2 4l2 -1l2 -1l2 4l2 -6l2 4l2 -1l2 -3l2 4l2 -4l2 5l2 3l2 -10l2 8l2 -6l2 4l2 -1l2 1l2 -4l2 4l2 4l2 -8l2 3l2 0l2 5l2 -7l2 11l2 -15l2 7l2 -12l2 20l2 -16l2 7l2 -9l2 4l2 4l2 -12l2 2l2 2l2 -4l2 -5l2 7l2 -10l2 2l2 8l2 -10l2 0l2 0l2 0l2 0l2 0l2 0l2 0l2 0l2 0l2 0l2 0l2 0l2 0l2 0l2 0l2 0l2 0l2 0l2 0l2 0l2 0l2 0l2 0l2 0l2 0l2 0l2 0l2 0l2 0l2 0l2 0l2 0l2 0l2 0l2 0l2 0l2 0l2 0l2 0l2 0l2 0l2 0l2 0l2 0l2 0l2 0l2 0H959 V200 Z"/>
<path fill="#00afff" d="M151 200V30l3 0l2 -4l2 4l2 -14l2 6l2 2l2 -2l2 4l2 2l2 -5l2 -1l2 0l2 4l2 8l2 -9l2 -5l2 0l2 10l2 -2l2 -8l2 8l2 -8l2 0l2 4l2 1l2 -1l2 8l2 -6l2 3l2 -1l2 1l2 -3l2 -1l2 -2l2 -1l2 2l2 -2l2 12l2 -18l2 13l2 -2l2 -7l2 0l2 -1l2 11l2 -10l2 4l2 4l2 -6l2 -4l2 8l2 -2l2 1l2 -3l2 0l2 0l2 8l2 -5l2 -1l2 6l2 -13l2 13l2 -6l2 -6l2 12l2 -9l2 -3l2 12l2 -8l2 1l2 3l2 -2l2 0l2 -4l2 6l2 1l2 1l2 -4l2 3l2 -9l2 12l2 -12l2 3l2 8l2 -7l2 1l2 -2l2 7l2 -7l2 3l2 -2l2 -2l2 8l2 -6l2 2l2 0l2 4l2 -10l2 6l2 0l2 2l2 2l2 -6l2 -4l2 9l2 -1l2 -5l2 2l2 7l2 -10l2 12l2 -7l2 -7l2 7l2 -3l2 3l2 3l2 -4l2 2l2 2l2 -8l2 4l2 -6l2 13l2 -9l2 5l2 -4l2 -3l2 8l2 -1l2 -4l2 0l2 7l2 -6l2 -2l2 4l2 0l2 -2l2 -2l2 4l2 -10l2 8l2 -2l2 4l2 -4l2 0l2 2l2 0l2 -4l2 4l2 6l2 -4l2 0l2 -2l2 -6l2 6l2 2l2 4l2 -7l2 -3l2 4l2 0l2 2l2 -6l2 2l2 4l2 -2l2 2l2 -4l2 7l2 -5l2 5l2 -2l2 1l2 -4l2 2l2 -2l2 4l2 -6l2 6l2 -10l2 10l2 -4l2 2l2 3l2 -4l2 -3l2 2l2 10l2 -10l2 0l2 2l2 -2l2 -3l2 4l2 2l2 -5l2 8l2 -5l2 -2l2 3l2 8l2 -10l2 -1l2 9l2 -8l2 3l2 1l2 -2l2 -2l2 2l2 2l2 4l2 -1l2 -9l2 6l2 -2l2 1l2 2l2 -9l2 12l2 -8l2 0l2 2l2 -4l2 13l2 -15l2 6l2 5l2 -7l2 6l2 -8l2 8l2 4l2 -6l2 -2l2 4l2 -6l2 8l2 -7l2 3l2 1l2 -1l2 0l2 0l2 -1l2 -1l2 7l2 -5l2 2l2 0l2 -1l2 -3l2 3l2 6l2 -6l2 1l2 -1l2 -5l2 6l2 -5l2 1l2 7l2 -3l2 0l2 -4l2 4l2 -4l2 2l2 1l2 1l2 1l2 -2l2 -7l2 6l2 3l2 -4l2 1l2 2l2 -6l2 7l2 -3l2 0l2 3l2 -1l2 0l2 2l2 -2l2 -2l2 5l2 -8l2 9l2 -8l2 4l2 -1l2 2l2 -9l2 14l2 -5l2 -6l2 3l2 0l2 3l2 1l2 -6l2 8l2 -6l2 2l2 -1l2 4l2 -1l2 -2l2 4l2 -6l2 5l2 -1l2 -3l2 4l2 -3l2 5l2 3l2 -10l2 7l2 -5l2 4l2 -2l2 2l2 -3l2 3l2 3l2 -7l2 1l2 0l2 4l2 -7l2 12l2 -10l2 8l2 -10l2 12l2 -12l2 10l2 -8l2 2l2 8l2 -9l2 1l2 2l2 1l2 -9l2 8l2 -5l2 5l2 1l2 -5l2 -2l2 11l2 -9l2 0l2 -3l2 1l2 6l2 -8l2 8l2 -9l2 4l2 -2l2 -3l2 -9l2 9l2 0l2 -4l2 -10l2 0l2 -2l2 0l2 19l2 -18l2 6l2 2l2 5l2 0l2 17l2 -19l2 -2l2 -8l2 17l2 9l2 0l2 -12l2 -2l2 15l2 -11l2 -2l2 0l2 6l2 13l2 -12l2 4l2 -1l2 8l2 -2H959 V200 Z"/>
<path fill="#00cfff" d="M151 200V31l3 0l2 -4l2 5l2 -14l2 6l2 2l2 -3l2 3l2 4l2 -6l2 -1l2 1l2 4l2 7l2 -9l2 -4l2 -1l2 10l2 -2l2 -8l2 9l2 -9l2 0l2 4l2 1l2 -1l2 9l2 -8l2 4l2 -1l2 1l2 -2l2 -2l2 -2l2 0l2 1l2 -1l2 12l2 -18l2 12l2 -2l2 -7l2 0l2 -1l2 10l2 -8l2 4l2 4l2 -7l2 -4l2 8l2 -2l2 1l2 -3l2 1l2 -1l2 7l2 -4l2 -1l2 5l2 -12l2 13l2 -5l2 -8l2 12l2 -8l2 -2l2 10l2 -7l2 1l2 3l2 -2l2 -1l2 -2l2 5l2 1l2 2l2 -4l2 2l2 -9l2 13l2 -14l2 4l2 8l2 -7l2 1l2 -2l2 8l2 -8l2 2l2 0l2 -3l2 9l2 -8l2 4l2 -1l2 5l2 -10l2 6l2 -2l2 4l2 2l2 -8l2 -2l2 8l2 -2l2 -4l2 2l2 8l2 -10l2 11l2 -7l2 -6l2 6l2 -4l2 4l2 2l2 -2l2 1l2 3l2 -10l2 5l2 -5l2 12l2 -8l2 4l2 -4l2 -4l2 9l2 -1l2 -4l2 0l2 7l2 -5l2 -4l2 5l2 1l2 -2l2 -3l2 3l2 -8l2 7l2 -2l2 5l2 -4l2 0l2 2l2 0l2 -4l2 4l2 4l2 -4l2 1l2 -1l2 -6l2 6l2 0l2 5l2 -7l2 -2l2 4l2 0l2 0l2 -4l2 0l2 6l2 -2l2 2l2 -5l2 7l2 -4l2 4l2 -2l2 1l2 -4l2 3l2 -2l2 4l2 -8l2 8l2 -11l2 10l2 -3l2 1l2 3l2 -4l2 -2l2 1l2 10l2 -9l2 -2l2 4l2 -3l2 -3l2 4l2 2l2 -6l2 8l2 -4l2 -2l2 4l2 7l2 -11l2 0l2 9l2 -7l2 2l2 0l2 0l2 -3l2 1l2 3l2 4l2 -1l2 -9l2 6l2 -3l2 2l2 2l2 -8l2 11l2 -8l2 0l2 1l2 -2l2 12l2 -14l2 5l2 5l2 -7l2 6l2 -8l2 9l2 2l2 -4l2 -4l2 5l2 -6l2 8l2 -7l2 4l2 0l2 -1l2 0l2 -1l2 0l2 0l2 6l2 -6l2 2l2 1l2 -1l2 -3l2 3l2 6l2 -6l2 1l2 -1l2 -5l2 6l2 -5l2 0l2 8l2 -3l2 1l2 -4l2 4l2 -4l2 0l2 2l2 1l2 1l2 -2l2 -6l2 6l2 2l2 -4l2 2l2 2l2 -6l2 6l2 -2l2 -1l2 3l2 -2l2 1l2 3l2 -2l2 -3l2 5l2 -8l2 10l2 -8l2 4l2 -2l2 2l2 -8l2 14l2 -6l2 -6l2 4l2 0l2 3l2 1l2 -6l2 8l2 -5l2 1l2 -1l2 5l2 -2l2 -2l2 4l2 -6l2 5l2 -1l2 -3l2 4l2 -3l2 4l2 4l2 -10l2 6l2 -6l2 5l2 -1l2 2l2 -4l2 4l2 2l2 -8l2 2l2 0l2 4l2 -6l2 11l2 -9l2 6l2 -9l2 12l2 -11l2 10l2 -8l2 2l2 8l2 -10l2 2l2 2l2 1l2 -9l2 8l2 -5l2 5l2 2l2 -6l2 -2l2 12l2 -9l2 -1l2 2l2 2l2 6l2 -10l2 10l2 -4l2 2l2 -2l2 1l2 -4l2 -3l2 10l2 -3l2 -7l2 4l2 -2l2 0l2 10l2 -8l2 0l2 0l2 2l2 4l2 -2l2 -3l2 5l2 -10l2 8l2 -4l2 2l2 -8l2 8l2 0l2 -4l2 4l2 -2l2 2l2 6l2 -5l2 1l2 -2l2 4l2 -1H959 V200 Z"/>
<path fill="#00efff" d="M151 200V32l3 0l2 -4l2 6l2 -15l2 7l2 1l2 -3l2 4l2 3l2 -5l2 -2l2 1l2 4l2 7l2 -8l2 -5l2 -1l2 10l2 -2l2 -8l2 9l2 -9l2 0l2 4l2 2l2 -2l2 9l2 -7l2 4l2 -2l2 2l2 -2l2 -2l2 -2l2 -1l2 1l2 -1l2 12l2 -18l2 13l2 -2l2 -8l2 0l2 0l2 10l2 -9l2 3l2 5l2 -7l2 -4l2 8l2 -2l2 2l2 -4l2 1l2 -1l2 8l2 -4l2 -2l2 6l2 -12l2 12l2 -5l2 -7l2 12l2 -8l2 -3l2 11l2 -8l2 2l2 2l2 -2l2 0l2 -3l2 5l2 2l2 0l2 -2l2 2l2 -10l2 13l2 -13l2 4l2 8l2 -8l2 2l2 -2l2 6l2 -6l2 2l2 -2l2 -2l2 9l2 -7l2 2l2 0l2 5l2 -11l2 7l2 -1l2 2l2 3l2 -7l2 -3l2 9l2 -2l2 -4l2 2l2 7l2 -10l2 11l2 -6l2 -8l2 8l2 -4l2 4l2 2l2 -3l2 1l2 3l2 -9l2 4l2 -6l2 14l2 -10l2 6l2 -5l2 -3l2 8l2 0l2 -4l2 0l2 6l2 -6l2 -2l2 4l2 0l2 -1l2 -3l2 4l2 -9l2 7l2 -2l2 5l2 -4l2 -1l2 2l2 1l2 -4l2 3l2 6l2 -4l2 0l2 -1l2 -7l2 7l2 1l2 4l2 -6l2 -3l2 4l2 -1l2 2l2 -6l2 2l2 5l2 -3l2 3l2 -5l2 8l2 -6l2 5l2 -1l2 0l2 -4l2 3l2 -2l2 4l2 -7l2 7l2 -11l2 10l2 -4l2 2l2 3l2 -4l2 -2l2 1l2 10l2 -9l2 -1l2 2l2 -2l2 -3l2 4l2 3l2 -6l2 8l2 -5l2 -1l2 2l2 8l2 -10l2 0l2 8l2 -8l2 4l2 0l2 -2l2 -2l2 2l2 2l2 4l2 0l2 -10l2 6l2 -2l2 1l2 2l2 -9l2 12l2 -8l2 0l2 2l2 -4l2 13l2 -15l2 6l2 6l2 -8l2 6l2 -8l2 8l2 4l2 -5l2 -3l2 4l2 -6l2 8l2 -6l2 2l2 2l2 -2l2 0l2 0l2 -1l2 -1l2 7l2 -5l2 2l2 0l2 -1l2 -3l2 3l2 6l2 -6l2 1l2 -1l2 -5l2 6l2 -4l2 0l2 7l2 -3l2 0l2 -4l2 4l2 -4l2 2l2 2l2 0l2 1l2 -2l2 -7l2 7l2 2l2 -4l2 2l2 2l2 -6l2 7l2 -4l2 0l2 4l2 -2l2 0l2 4l2 -3l2 -3l2 6l2 -8l2 10l2 -9l2 5l2 -2l2 2l2 -8l2 14l2 -6l2 -6l2 4l2 -1l2 3l2 2l2 -7l2 9l2 -6l2 1l2 -1l2 4l2 -2l2 0l2 4l2 -6l2 4l2 -1l2 -3l2 4l2 -3l2 5l2 4l2 -12l2 8l2 -6l2 4l2 -1l2 2l2 -3l2 3l2 3l2 -8l2 2l2 0l2 4l2 -7l2 11l2 -9l2 7l2 -10l2 12l2 -10l2 10l2 -8l2 1l2 8l2 -9l2 1l2 3l2 0l2 -8l2 7l2 -5l2 6l2 0l2 -4l2 -2l2 11l2 -9l2 0l2 1l2 3l2 6l2 -12l2 12l2 -4l2 0l2 -1l2 1l2 -4l2 -3l2 9l2 -2l2 -8l2 4l2 -2l2 1l2 9l2 -7l2 -1l2 0l2 2l2 4l2 -1l2 -3l2 4l2 -10l2 10l2 -4l2 0l2 -6l2 8l2 0l2 -4l2 3l2 -3l2 2l2 6l2 -4l2 1l2 -2l2 4l2 -1H959 V200 Z"/>
<path fill="#10ffef" d="M151 200V34l3 0l2 -4l2 5l2 -15l2 8l2 0l2 -2l2 4l2 2l2 -4l2 -2l2 0l2 4l2 8l2 -8l2 -6l2 0l2 10l2 -2l2 -8l2 8l2 -8l2 0l2 4l2 2l2 -2l2 8l2 -6l2 4l2 -2l2 2l2 -3l2 -1l2 -3l2 -1l2 2l2 -2l2 12l2 -18l2 14l2 -2l2 -8l2 0l2 0l2 10l2 -10l2 4l2 4l2 -6l2 -4l2 8l2 -2l2 1l2 -3l2 0l2 0l2 8l2 -5l2 -1l2 6l2 -13l2 13l2 -6l2 -6l2 12l2 -9l2 -3l2 12l2 -8l2 1l2 3l2 -2l2 0l2 -4l2 6l2 1l2 1l2 -4l2 3l2 -9l2 12l2 -12l2 3l2 7l2 -6l2 1l2 -2l2 7l2 -7l2 3l2 -2l2 -2l2 8l2 -7l2 3l2 0l2 4l2 -10l2 6l2 -1l2 3l2 2l2 -6l2 -4l2 8l2 -1l2 -4l2 2l2 7l2 -10l2 12l2 -7l2 -7l2 7l2 -3l2 2l2 3l2 -3l2 2l2 2l2 -9l2 5l2 -6l2 13l2 -9l2 4l2 -4l2 -2l2 8l2 -1l2 -4l2 0l2 7l2 -6l2 -3l2 5l2 0l2 -2l2 -2l2 3l2 -9l2 8l2 -2l2 4l2 -4l2 0l2 2l2 0l2 -4l2 4l2 5l2 -4l2 1l2 -2l2 -6l2 6l2 1l2 5l2 -8l2 -2l2 4l2 0l2 1l2 -5l2 1l2 5l2 -2l2 2l2 -5l2 7l2 -4l2 4l2 -2l2 1l2 -3l2 2l2 -2l2 4l2 -7l2 7l2 -10l2 10l2 -4l2 2l2 2l2 -4l2 -2l2 1l2 11l2 -10l2 -1l2 3l2 -3l2 -3l2 4l2 2l2 -5l2 8l2 -5l2 -2l2 4l2 7l2 -10l2 -1l2 9l2 -7l2 2l2 1l2 -1l2 -2l2 0l2 3l2 4l2 -1l2 -8l2 6l2 -4l2 2l2 2l2 -8l2 11l2 -8l2 0l2 1l2 -2l2 12l2 -14l2 6l2 4l2 -7l2 7l2 -8l2 8l2 2l2 -4l2 -3l2 4l2 -5l2 7l2 -7l2 4l2 0l2 0l2 -1l2 -1l2 0l2 0l2 6l2 -5l2 1l2 2l2 -2l2 -2l2 2l2 6l2 -6l2 1l2 -1l2 -5l2 6l2 -5l2 1l2 7l2 -3l2 1l2 -4l2 4l2 -4l2 1l2 1l2 2l2 0l2 -2l2 -6l2 6l2 2l2 -4l2 2l2 2l2 -6l2 6l2 -2l2 0l2 3l2 -2l2 1l2 3l2 -3l2 -2l2 5l2 -7l2 8l2 -8l2 4l2 0l2 2l2 -9l2 14l2 -5l2 -6l2 2l2 0l2 4l2 0l2 -6l2 8l2 -4l2 0l2 0l2 4l2 -2l2 -1l2 3l2 -5l2 5l2 -2l2 -2l2 4l2 -4l2 4l2 4l2 -10l2 6l2 -5l2 5l2 -2l2 2l2 -4l2 4l2 3l2 -8l2 1l2 0l2 4l2 -6l2 12l2 -10l2 7l2 -10l2 12l2 -11l2 10l2 -8l2 2l2 8l2 -9l2 1l2 2l2 2l2 -10l2 8l2 -4l2 4l2 1l2 -5l2 -2l2 12l2 -10l2 0l2 2l2 3l2 5l2 -11l2 11l2 -3l2 0l2 -1l2 0l2 -4l2 -2l2 9l2 -3l2 -8l2 4l2 -1l2 1l2 10l2 -8l2 0l2 0l2 2l2 4l2 -2l2 -3l2 4l2 -9l2 8l2 -4l2 1l2 -7l2 8l2 0l2 -4l2 4l2 -3l2 2l2 7l2 -6l2 2l2 -2l2 4l2 -2H959 V200 Z"/>
<path fill="#30ffcf" d="M151 200V36l3 0l2 -4l2 4l2 -14l2 7l2 1l2 -2l2 4l2 2l2 -5l2 -1l2 0l2 4l2 8l2 -9l2 -5l2 0l2 10l2 -2l2 -8l2 8l2 -8l2 0l2 4l2 1l2 -1l2 8l2 -6l2 3l2 -2l2 2l2 -3l2 -1l2 -3l2 0l2 2l2 -2l2 12l2 -18l2 12l2 -1l2 -8l2 1l2 -1l2 10l2 -9l2 4l2 4l2 -7l2 -4l2 9l2 -2l2 0l2 -3l2 1l2 -1l2 8l2 -5l2 -1l2 6l2 -13l2 14l2 -6l2 -7l2 11l2 -8l2 -2l2 11l2 -7l2 0l2 4l2 -3l2 0l2 -3l2 6l2 0l2 2l2 -4l2 2l2 -8l2 12l2 -14l2 4l2 8l2 -6l2 0l2 -2l2 8l2 -8l2 3l2 -1l2 -3l2 9l2 -8l2 4l2 0l2 4l2 -10l2 6l2 -2l2 4l2 2l2 -8l2 -2l2 8l2 -2l2 -4l2 2l2 8l2 -10l2 11l2 -7l2 -6l2 6l2 -4l2 4l2 2l2 -2l2 1l2 3l2 -10l2 5l2 -5l2 12l2 -9l2 5l2 -4l2 -4l2 9l2 -1l2 -4l2 0l2 7l2 -5l2 -4l2 5l2 0l2 -1l2 -3l2 3l2 -8l2 7l2 -3l2 6l2 -4l2 -1l2 2l2 1l2 -4l2 3l2 5l2 -4l2 0l2 0l2 -7l2 7l2 0l2 4l2 -6l2 -2l2 4l2 -1l2 1l2 -5l2 1l2 6l2 -3l2 2l2 -5l2 8l2 -5l2 5l2 -2l2 0l2 -4l2 4l2 -2l2 3l2 -7l2 8l2 -12l2 10l2 -3l2 1l2 4l2 -4l2 -3l2 1l2 10l2 -9l2 -1l2 3l2 -3l2 -2l2 4l2 2l2 -6l2 8l2 -4l2 -2l2 3l2 7l2 -10l2 0l2 8l2 -7l2 3l2 0l2 -1l2 -3l2 2l2 2l2 4l2 0l2 -10l2 6l2 -2l2 2l2 2l2 -9l2 11l2 -8l2 0l2 2l2 -3l2 13l2 -15l2 5l2 6l2 -8l2 6l2 -8l2 9l2 3l2 -4l2 -4l2 4l2 -6l2 8l2 -6l2 3l2 1l2 -2l2 0l2 0l2 0l2 -1l2 7l2 -6l2 2l2 0l2 0l2 -3l2 3l2 6l2 -6l2 0l2 0l2 -6l2 6l2 -4l2 0l2 8l2 -4l2 1l2 -4l2 4l2 -4l2 1l2 2l2 0l2 2l2 -2l2 -7l2 7l2 2l2 -4l2 2l2 2l2 -6l2 6l2 -3l2 0l2 3l2 -2l2 1l2 3l2 -2l2 -3l2 5l2 -8l2 10l2 -8l2 4l2 -2l2 3l2 -9l2 14l2 -6l2 -6l2 4l2 0l2 3l2 1l2 -6l2 8l2 -6l2 2l2 -2l2 5l2 -2l2 -1l2 4l2 -6l2 4l2 0l2 -4l2 4l2 -2l2 4l2 4l2 -11l2 7l2 -6l2 5l2 -1l2 2l2 -4l2 3l2 3l2 -8l2 2l2 0l2 4l2 -7l2 11l2 -8l2 6l2 -10l2 12l2 -10l2 9l2 -8l2 2l2 7l2 -8l2 1l2 3l2 0l2 -8l2 6l2 -4l2 6l2 0l2 -5l2 -2l2 11l2 -8l2 -1l2 1l2 4l2 5l2 -11l2 12l2 -4l2 0l2 -2l2 1l2 -4l2 -3l2 10l2 -3l2 -8l2 5l2 -2l2 0l2 10l2 -8l2 0l2 0l2 2l2 4l2 -2l2 -2l2 4l2 -10l2 8l2 -3l2 1l2 -7l2 8l2 0l2 -4l2 3l2 -2l2 2l2 6l2 -5l2 1l2 -2l2 4l2 0H959 V200 Z"/>
<path fill="#50ffaf" d="M151 200V37l3 0l2 -4l2 5l2 -14l2 6l2 2l2 -2l2 3l2 3l2 -6l2 -1l2 1l2 4l2 7l2 -9l2 -4l2 -1l2 10l2 -2l2 -8l2 9l2 -9l2 0l2 4l2 1l2 -1l2 9l2 -8l2 4l2 -2l2 2l2 -2l2 -2l2 -2l2 0l2 1l2 -1l2 12l2 -18l2 12l2 -2l2 -8l2 1l2 -1l2 10l2 -8l2 3l2 5l2 -8l2 -4l2 9l2 -3l2 2l2 -4l2 2l2 -2l2 8l2 -4l2 -2l2 6l2 -12l2 12l2 -4l2 -8l2 12l2 -8l2 -2l2 10l2 -7l2 1l2 3l2 -3l2 0l2 -3l2 6l2 1l2 1l2 -3l2 2l2 -9l2 12l2 -13l2 4l2 8l2 -7l2 1l2 -2l2 7l2 -7l2 2l2 -1l2 -3l2 9l2 -7l2 3l2 -1l2 5l2 -10l2 6l2 -1l2 2l2 4l2 -8l2 -2l2 8l2 -2l2 -4l2 2l2 7l2 -10l2 11l2 -6l2 -8l2 8l2 -4l2 4l2 2l2 -3l2 1l2 3l2 -9l2 4l2 -6l2 14l2 -10l2 5l2 -4l2 -3l2 8l2 0l2 -4l2 0l2 6l2 -6l2 -2l2 4l2 0l2 -2l2 -2l2 4l2 -10l2 8l2 -2l2 4l2 -3l2 -1l2 2l2 1l2 -4l2 3l2 6l2 -4l2 0l2 -2l2 -6l2 6l2 2l2 4l2 -7l2 -2l2 3l2 0l2 2l2 -6l2 2l2 5l2 -3l2 2l2 -4l2 7l2 -5l2 4l2 -1l2 1l2 -4l2 2l2 -2l2 4l2 -6l2 6l2 -10l2 10l2 -4l2 2l2 2l2 -4l2 -2l2 2l2 10l2 -10l2 0l2 2l2 -2l2 -3l2 3l2 3l2 -5l2 8l2 -5l2 -2l2 3l2 8l2 -10l2 -1l2 9l2 -8l2 3l2 0l2 -1l2 -2l2 1l2 3l2 4l2 -1l2 -9l2 6l2 -3l2 1l2 2l2 -8l2 12l2 -8l2 0l2 1l2 -3l2 12l2 -14l2 6l2 5l2 -7l2 6l2 -8l2 8l2 3l2 -5l2 -2l2 4l2 -6l2 8l2 -7l2 3l2 1l2 -1l2 0l2 -1l2 0l2 -1l2 7l2 -6l2 2l2 1l2 -2l2 -2l2 2l2 7l2 -7l2 2l2 -2l2 -4l2 6l2 -5l2 1l2 7l2 -3l2 0l2 -4l2 4l2 -4l2 2l2 1l2 1l2 0l2 -1l2 -7l2 6l2 2l2 -3l2 1l2 2l2 -5l2 6l2 -3l2 0l2 4l2 -2l2 0l2 4l2 -4l2 -2l2 6l2 -8l2 9l2 -8l2 4l2 -1l2 2l2 -8l2 14l2 -6l2 -6l2 3l2 0l2 3l2 1l2 -6l2 8l2 -5l2 0l2 0l2 4l2 -2l2 0l2 3l2 -5l2 4l2 -2l2 -2l2 4l2 -4l2 4l2 5l2 -11l2 6l2 -4l2 4l2 -2l2 2l2 -4l2 4l2 3l2 -8l2 1l2 0l2 4l2 -6l2 11l2 -9l2 7l2 -10l2 12l2 -11l2 10l2 -8l2 2l2 8l2 -10l2 2l2 2l2 1l2 -9l2 8l2 -5l2 5l2 0l2 -4l2 -2l2 12l2 -10l2 0l2 2l2 2l2 6l2 -12l2 12l2 -4l2 0l2 -1l2 1l2 -4l2 -3l2 9l2 -2l2 -8l2 4l2 -2l2 1l2 9l2 -7l2 0l2 -1l2 2l2 5l2 -2l2 -3l2 4l2 -10l2 10l2 -4l2 0l2 -6l2 8l2 0l2 -4l2 3l2 -3l2 2l2 7l2 -5l2 1l2 -1l2 3l2 -1H959 V200 Z"/>
<path fill="#70ff8f" d="M151 200V38l3 0l2 -4l2 6l2 -15l2 7l2 1l2 -2l2 3l2 3l2 -5l2 -2l2 1l2 3l2 8l2 -8l2 -5l2 -1l2 10l2 -2l2 -8l2 9l2 -9l2 0l2 4l2 2l2 -2l2 9l2 -7l2 4l2 -2l2 2l2 -2l2 -2l2 -2l2 -1l2 1l2 -1l2 11l2 -17l2 13l2 -2l2 -8l2 0l2 0l2 10l2 -9l2 3l2 4l2 -6l2 -4l2 8l2 -2l2 2l2 -4l2 0l2 0l2 8l2 -5l2 -1l2 6l2 -12l2 12l2 -6l2 -6l2 12l2 -9l2 -3l2 12l2 -8l2 1l2 3l2 -2l2 0l2 -4l2 6l2 1l2 1l2 -3l2 2l2 -9l2 12l2 -12l2 3l2 7l2 -6l2 1l2 -2l2 7l2 -7l2 3l2 -2l2 -2l2 8l2 -6l2 2l2 0l2 4l2 -10l2 6l2 -1l2 3l2 2l2 -6l2 -4l2 8l2 -1l2 -4l2 1l2 8l2 -10l2 12l2 -7l2 -7l2 7l2 -4l2 3l2 3l2 -3l2 2l2 2l2 -9l2 5l2 -6l2 12l2 -8l2 4l2 -4l2 -3l2 9l2 -1l2 -5l2 0l2 8l2 -6l2 -3l2 5l2 0l2 -2l2 -2l2 3l2 -9l2 8l2 -3l2 5l2 -4l2 0l2 2l2 0l2 -4l2 4l2 5l2 -4l2 0l2 -1l2 -6l2 6l2 0l2 5l2 -7l2 -2l2 4l2 0l2 1l2 -5l2 0l2 6l2 -2l2 2l2 -5l2 7l2 -4l2 4l2 -2l2 1l2 -4l2 3l2 -2l2 4l2 -8l2 8l2 -11l2 10l2 -3l2 1l2 3l2 -4l2 -2l2 1l2 11l2 -10l2 -2l2 4l2 -3l2 -3l2 4l2 2l2 -6l2 9l2 -5l2 -2l2 4l2 6l2 -10l2 0l2 8l2 -6l2 2l2 0l2 0l2 -2l2 0l2 3l2 4l2 -1l2 -9l2 6l2 -3l2 2l2 2l2 -8l2 11l2 -8l2 0l2 1l2 -2l2 12l2 -14l2 5l2 5l2 -8l2 7l2 -8l2 9l2 2l2 -4l2 -4l2 5l2 -6l2 8l2 -7l2 4l2 0l2 -1l2 -1l2 0l2 0l2 0l2 6l2 -6l2 2l2 2l2 -2l2 -2l2 2l2 6l2 -6l2 0l2 0l2 -5l2 6l2 -5l2 1l2 7l2 -3l2 1l2 -4l2 4l2 -4l2 0l2 2l2 1l2 1l2 -2l2 -6l2 6l2 2l2 -4l2 2l2 2l2 -6l2 6l2 -2l2 0l2 2l2 -1l2 1l2 2l2 -2l2 -2l2 4l2 -7l2 9l2 -8l2 4l2 -1l2 3l2 -10l2 15l2 -6l2 -6l2 3l2 0l2 4l2 0l2 -6l2 8l2 -5l2 1l2 -1l2 5l2 -2l2 -2l2 4l2 -6l2 5l2 -1l2 -3l2 3l2 -2l2 4l2 4l2 -11l2 7l2 -6l2 5l2 -1l2 2l2 -4l2 3l2 3l2 -8l2 2l2 0l2 4l2 -7l2 11l2 -9l2 7l2 -10l2 12l2 -11l2 10l2 -8l2 1l2 8l2 -8l2 0l2 3l2 1l2 -9l2 7l2 -4l2 5l2 1l2 -6l2 -2l2 12l2 -9l2 -1l2 2l2 3l2 5l2 -10l2 10l2 -3l2 0l2 -1l2 0l2 -4l2 -2l2 9l2 -3l2 -8l2 4l2 -1l2 1l2 9l2 -7l2 0l2 -1l2 3l2 4l2 -2l2 -3l2 4l2 -9l2 8l2 -4l2 2l2 -8l2 8l2 0l2 -4l2 4l2 -3l2 3l2 6l2 -6l2 2l2 -2l2 4l2 -1H959 V200 Z"/>
<path fill="#8fff70" d="M151 200V40l3 0l2 -4l2 5l2 -15l2 7l2 1l2 -2l2 4l2 2l2 -4l2 -2l2 0l2 4l2 8l2 -9l2 -5l2 0l2 10l2 -2l2 -8l2 8l2 -8l2 0l2 4l2 2l2 -2l2 8l2 -6l2 3l2 -1l2 1l2 -2l2 -2l2 -2l2 -1l2 2l2 -2l2 12l2 -18l2 13l2 -2l2 -7l2 0l2 -1l2 10l2 -9l2 4l2 4l2 -7l2 -4l2 9l2 -2l2 0l2 -3l2 1l2 -1l2 8l2 -5l2 0l2 5l2 -13l2 14l2 -6l2 -7l2 11l2 -8l2 -2l2 11l2 -7l2 0l2 4l2 -3l2 -1l2 -2l2 6l2 0l2 2l2 -4l2 2l2 -8l2 12l2 -14l2 4l2 8l2 -6l2 0l2 -2l2 8l2 -8l2 3l2 -1l2 -3l2 9l2 -8l2 4l2 -1l2 5l2 -10l2 6l2 -2l2 3l2 3l2 -8l2 -2l2 8l2 -2l2 -4l2 2l2 8l2 -10l2 10l2 -6l2 -7l2 7l2 -4l2 4l2 2l2 -2l2 1l2 3l2 -10l2 4l2 -5l2 13l2 -9l2 5l2 -4l2 -4l2 9l2 -1l2 -4l2 0l2 7l2 -6l2 -3l2 4l2 1l2 -2l2 -3l2 4l2 -9l2 7l2 -2l2 5l2 -3l2 -1l2 2l2 1l2 -4l2 3l2 5l2 -4l2 0l2 -1l2 -6l2 6l2 1l2 4l2 -6l2 -2l2 3l2 0l2 1l2 -5l2 1l2 6l2 -4l2 3l2 -5l2 8l2 -5l2 4l2 -1l2 0l2 -4l2 4l2 -3l2 4l2 -7l2 8l2 -12l2 10l2 -3l2 1l2 4l2 -4l2 -3l2 1l2 10l2 -9l2 -1l2 3l2 -3l2 -2l2 3l2 3l2 -6l2 8l2 -4l2 -2l2 3l2 7l2 -10l2 0l2 8l2 -8l2 4l2 0l2 -2l2 -1l2 1l2 2l2 4l2 0l2 -10l2 7l2 -3l2 2l2 1l2 -8l2 11l2 -8l2 0l2 2l2 -4l2 13l2 -15l2 6l2 6l2 -8l2 6l2 -8l2 9l2 3l2 -5l2 -3l2 4l2 -6l2 8l2 -6l2 3l2 1l2 -2l2 0l2 0l2 0l2 -1l2 7l2 -6l2 2l2 0l2 0l2 -3l2 3l2 6l2 -7l2 1l2 -1l2 -5l2 6l2 -4l2 0l2 8l2 -4l2 1l2 -4l2 3l2 -3l2 1l2 2l2 0l2 1l2 -1l2 -8l2 7l2 2l2 -3l2 2l2 1l2 -5l2 6l2 -3l2 0l2 3l2 -2l2 1l2 3l2 -3l2 -3l2 6l2 -8l2 10l2 -8l2 4l2 -2l2 2l2 -8l2 14l2 -6l2 -6l2 4l2 0l2 2l2 2l2 -7l2 9l2 -6l2 1l2 -1l2 4l2 -2l2 0l2 3l2 -5l2 4l2 -2l2 -2l2 4l2 -4l2 5l2 4l2 -11l2 7l2 -5l2 4l2 -2l2 2l2 -4l2 4l2 2l2 -7l2 1l2 0l2 4l2 -6l2 11l2 -9l2 6l2 -10l2 13l2 -11l2 10l2 -8l2 2l2 7l2 -9l2 2l2 2l2 0l2 -8l2 7l2 -5l2 6l2 0l2 -4l2 -3l2 12l2 -9l2 0l2 0l2 4l2 6l2 -12l2 12l2 -4l2 0l2 -2l2 1l2 -4l2 -3l2 10l2 -3l2 -8l2 4l2 -1l2 0l2 10l2 -8l2 0l2 0l2 2l2 4l2 -1l2 -3l2 4l2 -10l2 9l2 -3l2 0l2 -6l2 8l2 0l2 -4l2 2l2 -2l2 2l2 7l2 -5l2 1l2 -2l2 4l2 -1H959 V200 Z"/>
<path fill="#afff50" d="M151 200V42l3 0l2 -4l2 4l2 -14l2 6l2 2l2 -2l2 3l2 3l2 -5l2 -1l2 0l2 4l2 7l2 -9l2 -4l2 0l2 9l2 -2l2 -8l2 9l2 -9l2 0l2 5l2 0l2 -1l2 9l2 -7l2 3l2 -2l2 2l2 -2l2 -2l2 -2l2 0l2 1l2 -1l2 12l2 -18l2 12l2 -2l2 -8l2 1l2 -1l2 10l2 -8l2 3l2 5l2 -8l2 -4l2 9l2 -3l2 2l2 -4l2 2l2 -2l2 8l2 -4l2 -2l2 6l2 -12l2 12l2 -5l2 -7l2 12l2 -8l2 -3l2 11l2 -7l2 1l2 2l2 -2l2 0l2 -3l2 5l2 2l2 1l2 -3l2 2l2 -10l2 13l2 -13l2 4l2 7l2 -7l2 2l2 -2l2 7l2 -7l2 2l2 -2l2 -2l2 9l2 -7l2 2l2 0l2 5l2 -11l2 6l2 0l2 2l2 3l2 -7l2 -3l2 8l2 -1l2 -4l2 2l2 7l2 -10l2 11l2 -6l2 -8l2 8l2 -4l2 4l2 2l2 -2l2 0l2 3l2 -9l2 4l2 -6l2 13l2 -9l2 6l2 -5l2 -3l2 8l2 0l2 -4l2 0l2 6l2 -6l2 -2l2 4l2 0l2 -1l2 -3l2 4l2 -9l2 7l2 -2l2 4l2 -3l2 -1l2 3l2 0l2 -4l2 3l2 6l2 -4l2 0l2 -1l2 -7l2 6l2 2l2 4l2 -6l2 -3l2 4l2 0l2 1l2 -6l2 2l2 6l2 -4l2 3l2 -5l2 8l2 -6l2 4l2 0l2 0l2 -4l2 3l2 -3l2 4l2 -6l2 8l2 -12l2 10l2 -4l2 2l2 3l2 -4l2 -3l2 2l2 10l2 -10l2 0l2 2l2 -2l2 -2l2 3l2 3l2 -6l2 8l2 -5l2 -2l2 4l2 7l2 -10l2 0l2 8l2 -8l2 3l2 1l2 -2l2 -1l2 1l2 2l2 4l2 -1l2 -9l2 7l2 -3l2 1l2 2l2 -9l2 12l2 -8l2 0l2 1l2 -3l2 13l2 -15l2 6l2 6l2 -8l2 6l2 -8l2 9l2 2l2 -4l2 -3l2 4l2 -6l2 8l2 -6l2 2l2 1l2 -1l2 0l2 0l2 0l2 -2l2 8l2 -7l2 3l2 0l2 -1l2 -3l2 3l2 6l2 -7l2 2l2 -2l2 -4l2 6l2 -5l2 1l2 7l2 -3l2 0l2 -3l2 3l2 -3l2 1l2 2l2 0l2 0l2 -1l2 -7l2 7l2 1l2 -3l2 2l2 1l2 -5l2 7l2 -4l2 0l2 4l2 -2l2 0l2 4l2 -4l2 -2l2 6l2 -8l2 9l2 -8l2 4l2 -1l2 2l2 -9l2 15l2 -6l2 -6l2 3l2 -1l2 4l2 1l2 -7l2 9l2 -5l2 0l2 0l2 4l2 -2l2 -1l2 3l2 -6l2 5l2 -1l2 -3l2 4l2 -3l2 4l2 4l2 -11l2 7l2 -6l2 5l2 -1l2 2l2 -4l2 3l2 3l2 -8l2 2l2 0l2 3l2 -7l2 12l2 -9l2 7l2 -10l2 12l2 -11l2 9l2 -8l2 2l2 8l2 -8l2 0l2 3l2 1l2 -9l2 7l2 -4l2 4l2 2l2 -6l2 -2l2 12l2 -9l2 -1l2 2l2 2l2 6l2 -11l2 11l2 -3l2 0l2 -1l2 0l2 -4l2 -2l2 8l2 -2l2 -8l2 4l2 -2l2 2l2 10l2 -8l2 0l2 0l2 2l2 4l2 -2l2 -3l2 4l2 -9l2 8l2 -4l2 2l2 -8l2 8l2 0l2 -4l2 4l2 -3l2 2l2 7l2 -6l2 2l2 -2l2 4l2 -1H959 V200 Z"/>
<path fill="#cfff30" d="M151 200V43l3 0l2 -3l2 4l2 -14l2 6l2 1l2 -1l2 2l2 3l2 -5l2 -1l2 0l2 4l2 8l2 -9l2 -4l2 -1l2 9l2 -2l2 -8l2 9l2 -9l2 0l2 4l2 2l2 -2l2 10l2 -8l2 4l2 -2l2 2l2 -2l2 -2l2 -2l2 -1l2 1l2 -1l2 12l2 -18l2 13l2 -2l2 -8l2 0l2 0l2 10l2 -9l2 4l2 4l2 -7l2 -4l2 8l2 -2l2 1l2 -3l2 0l2 0l2 8l2 -5l2 -1l2 6l2 -13l2 13l2 -6l2 -6l2 11l2 -8l2 -3l2 12l2 -8l2 1l2 3l2 -2l2 -1l2 -3l2 6l2 2l2 0l2 -4l2 3l2 -9l2 12l2 -13l2 4l2 7l2 -6l2 1l2 -2l2 7l2 -8l2 4l2 -2l2 -2l2 8l2 -7l2 3l2 0l2 4l2 -10l2 6l2 -1l2 3l2 2l2 -6l2 -4l2 8l2 0l2 -5l2 1l2 8l2 -10l2 12l2 -7l2 -7l2 7l2 -3l2 3l2 3l2 -2l2 0l2 2l2 -9l2 5l2 -6l2 12l2 -8l2 5l2 -5l2 -2l2 8l2 -1l2 -4l2 0l2 7l2 -6l2 -2l2 4l2 0l2 -2l2 -2l2 4l2 -10l2 8l2 -2l2 4l2 -4l2 0l2 2l2 0l2 -3l2 3l2 6l2 -4l2 0l2 -2l2 -6l2 6l2 1l2 5l2 -7l2 -2l2 4l2 0l2 1l2 -6l2 2l2 6l2 -4l2 2l2 -4l2 7l2 -5l2 4l2 0l2 0l2 -4l2 3l2 -3l2 4l2 -6l2 7l2 -11l2 10l2 -4l2 2l2 3l2 -5l2 -2l2 2l2 10l2 -10l2 0l2 2l2 -2l2 -3l2 3l2 3l2 -5l2 8l2 -5l2 -3l2 4l2 7l2 -9l2 0l2 7l2 -7l2 3l2 1l2 -2l2 -1l2 1l2 2l2 4l2 -1l2 -9l2 6l2 -2l2 1l2 1l2 -8l2 12l2 -8l2 0l2 0l2 -2l2 12l2 -14l2 6l2 6l2 -8l2 6l2 -8l2 8l2 3l2 -5l2 -2l2 4l2 -6l2 8l2 -7l2 3l2 1l2 -1l2 -1l2 1l2 0l2 -2l2 8l2 -7l2 3l2 0l2 -2l2 -2l2 3l2 6l2 -7l2 1l2 -1l2 -4l2 6l2 -5l2 1l2 7l2 -3l2 0l2 -4l2 4l2 -3l2 1l2 2l2 0l2 0l2 -1l2 -7l2 7l2 1l2 -3l2 2l2 1l2 -5l2 7l2 -4l2 0l2 3l2 -1l2 0l2 3l2 -3l2 -2l2 5l2 -7l2 8l2 -8l2 4l2 0l2 2l2 -10l2 14l2 -5l2 -6l2 3l2 0l2 3l2 1l2 -6l2 8l2 -6l2 2l2 -2l2 4l2 0l2 -2l2 4l2 -6l2 4l2 -1l2 -3l2 4l2 -3l2 4l2 4l2 -11l2 8l2 -6l2 4l2 -1l2 1l2 -4l2 4l2 3l2 -8l2 1l2 0l2 4l2 -6l2 11l2 -9l2 6l2 -10l2 13l2 -11l2 10l2 -8l2 2l2 8l2 -10l2 2l2 2l2 0l2 -8l2 8l2 -5l2 5l2 1l2 -5l2 -3l2 12l2 -9l2 0l2 0l2 4l2 6l2 -12l2 12l2 -4l2 0l2 -2l2 2l2 -5l2 -2l2 9l2 -2l2 -8l2 4l2 -2l2 0l2 10l2 -8l2 0l2 0l2 2l2 4l2 -1l2 -3l2 4l2 -10l2 9l2 -3l2 0l2 -6l2 8l2 0l2 -4l2 2l2 -2l2 2l2 7l2 -5l2 1l2 -2l2 4l2 -1H959 V200 Z"/>
<path fill="#efff10" d="M151 200V45l3 0l2 -3l2 5l2 -15l2 6l2 2l2 -2l2 3l2 2l2 -4l2 -2l2 0l2 5l2 8l2 -10l2 -4l2 -1l2 9l2 -2l2 -8l2 9l2 -8l2 0l2 4l2 1l2 -1l2 9l2 -7l2 3l2 -2l2 2l2 -1l2 -3l2 -2l2 0l2 0l2 0l2 12l2 -19l2 13l2 -2l2 -8l2 1l2 -1l2 10l2 -8l2 4l2 4l2 -8l2 -4l2 8l2 -2l2 1l2 -3l2 1l2 -1l2 8l2 -5l2 -1l2 6l2 -13l2 12l2 -5l2 -7l2 11l2 -8l2 -2l2 11l2 -7l2 2l2 2l2 -2l2 -1l2 -3l2 6l2 2l2 0l2 -3l2 3l2 -10l2 13l2 -14l2 4l2 7l2 -6l2 0l2 -1l2 8l2 -8l2 3l2 -2l2 -2l2 8l2 -8l2 4l2 0l2 4l2 -10l2 6l2 -2l2 4l2 3l2 -7l2 -4l2 8l2 0l2 -5l2 1l2 8l2 -9l2 10l2 -6l2 -7l2 7l2 -3l2 3l2 3l2 -2l2 0l2 2l2 -9l2 5l2 -6l2 12l2 -8l2 5l2 -5l2 -2l2 8l2 -1l2 -4l2 -1l2 8l2 -6l2 -3l2 5l2 0l2 -2l2 -2l2 4l2 -10l2 8l2 -2l2 4l2 -4l2 0l2 2l2 0l2 -3l2 3l2 6l2 -4l2 0l2 -2l2 -6l2 6l2 1l2 5l2 -7l2 -3l2 4l2 1l2 1l2 -6l2 2l2 6l2 -4l2 2l2 -4l2 7l2 -5l2 4l2 0l2 0l2 -4l2 2l2 -2l2 4l2 -7l2 8l2 -11l2 10l2 -4l2 2l2 2l2 -4l2 -2l2 2l2 10l2 -10l2 0l2 2l2 -2l2 -3l2 3l2 3l2 -6l2 9l2 -6l2 -2l2 4l2 7l2 -10l2 1l2 7l2 -7l2 2l2 1l2 -1l2 -2l2 2l2 2l2 4l2 -2l2 -8l2 6l2 -2l2 1l2 1l2 -8l2 12l2 -8l2 0l2 0l2 -2l2 12l2 -14l2 6l2 5l2 -8l2 7l2 -8l2 8l2 2l2 -4l2 -3l2 4l2 -5l2 8l2 -7l2 3l2 0l2 -1l2 0l2 0l2 1l2 -2l2 8l2 -8l2 3l2 1l2 -2l2 -2l2 3l2 6l2 -7l2 1l2 -1l2 -4l2 6l2 -5l2 1l2 6l2 -2l2 0l2 -4l2 4l2 -4l2 2l2 1l2 1l2 0l2 -2l2 -6l2 6l2 2l2 -4l2 3l2 1l2 -6l2 7l2 -3l2 0l2 3l2 -2l2 1l2 3l2 -3l2 -3l2 5l2 -7l2 9l2 -8l2 4l2 -1l2 2l2 -9l2 14l2 -5l2 -7l2 4l2 0l2 2l2 2l2 -6l2 8l2 -6l2 0l2 0l2 4l2 -1l2 -1l2 4l2 -6l2 4l2 -2l2 -2l2 4l2 -4l2 4l2 4l2 -10l2 8l2 -6l2 4l2 -2l2 2l2 -4l2 4l2 2l2 -7l2 1l2 0l2 4l2 -6l2 11l2 -9l2 6l2 -10l2 13l2 -11l2 10l2 -8l2 2l2 7l2 -9l2 1l2 3l2 0l2 -8l2 7l2 -5l2 5l2 1l2 -6l2 -2l2 12l2 -8l2 -1l2 1l2 2l2 6l2 -10l2 10l2 -3l2 0l2 -1l2 0l2 -4l2 -2l2 9l2 -3l2 -8l2 4l2 -1l2 1l2 10l2 -8l2 0l2 0l2 2l2 4l2 -2l2 -3l2 4l2 -9l2 8l2 -3l2 1l2 -8l2 8l2 0l2 -4l2 4l2 -3l2 2l2 7l2 -6l2 2l2 -2l2 4l2 -2H959 V200 Z"/>
<path fill="#ffef00" d="M151 200V48l3 0l2 -4l2 6l2 -16l2 6l2 2l2 -2l2 4l2 2l2 -4l2 -2l2 0l2 4l2 8l2 -10l2 -4l2 0l2 8l2 -1l2 -9l2 10l2 -9l2 1l2 4l2 1l2 -1l2 8l2 -6l2 2l2 -2l2 2l2 0l2 -3l2 -2l2 -1l2 1l2 -1l2 12l2 -19l2 13l2 -2l2 -8l2 2l2 -1l2 10l2 -9l2 4l2 4l2 -8l2 -4l2 9l2 -3l2 1l2 -3l2 2l2 -2l2 8l2 -4l2 -2l2 7l2 -14l2 13l2 -5l2 -8l2 12l2 -8l2 -2l2 11l2 -7l2 1l2 3l2 -3l2 0l2 -4l2 6l2 3l2 -1l2 -2l2 2l2 -10l2 14l2 -14l2 4l2 6l2 -6l2 1l2 -1l2 8l2 -8l2 2l2 -2l2 -2l2 8l2 -7l2 3l2 0l2 4l2 -10l2 6l2 -1l2 3l2 4l2 -8l2 -4l2 8l2 0l2 -5l2 1l2 8l2 -8l2 9l2 -6l2 -7l2 7l2 -3l2 4l2 2l2 -2l2 0l2 3l2 -10l2 5l2 -6l2 12l2 -8l2 5l2 -5l2 -2l2 10l2 -2l2 -5l2 -1l2 9l2 -7l2 -3l2 5l2 0l2 -1l2 -3l2 4l2 -10l2 8l2 -2l2 4l2 -4l2 0l2 2l2 0l2 -3l2 3l2 5l2 -3l2 0l2 -2l2 -6l2 6l2 0l2 6l2 -7l2 -2l2 4l2 1l2 1l2 -6l2 1l2 7l2 -5l2 2l2 -4l2 8l2 -6l2 4l2 0l2 0l2 -3l2 2l2 -3l2 4l2 -6l2 8l2 -12l2 10l2 -3l2 1l2 3l2 -5l2 -2l2 2l2 10l2 -10l2 0l2 2l2 -2l2 -2l2 2l2 4l2 -7l2 9l2 -6l2 -2l2 5l2 5l2 -9l2 1l2 6l2 -7l2 3l2 1l2 -1l2 0l2 0l2 2l2 5l2 -3l2 -9l2 9l2 -3l2 1l2 0l2 -8l2 12l2 -8l2 0l2 0l2 -2l2 12l2 -14l2 6l2 6l2 -9l2 7l2 -7l2 8l2 1l2 -4l2 -3l2 4l2 -5l2 10l2 -8l2 2l2 0l2 -1l2 -1l2 2l2 0l2 -2l2 8l2 -8l2 3l2 1l2 -2l2 -1l2 2l2 6l2 -7l2 1l2 -1l2 -5l2 7l2 -5l2 1l2 6l2 -2l2 1l2 -5l2 4l2 -3l2 0l2 3l2 0l2 0l2 -2l2 -6l2 7l2 1l2 -4l2 3l2 1l2 -5l2 7l2 -4l2 0l2 3l2 -2l2 1l2 4l2 -4l2 -3l2 5l2 -7l2 9l2 -8l2 5l2 -2l2 2l2 -9l2 14l2 -5l2 -7l2 4l2 0l2 2l2 2l2 -6l2 8l2 -6l2 0l2 0l2 4l2 -1l2 -1l2 4l2 -6l2 4l2 -2l2 -3l2 4l2 -3l2 4l2 4l2 -10l2 8l2 -6l2 4l2 -2l2 2l2 -4l2 4l2 2l2 -8l2 2l2 0l2 4l2 -6l2 10l2 -9l2 7l2 -10l2 12l2 -10l2 9l2 -8l2 2l2 7l2 -8l2 0l2 3l2 1l2 -9l2 8l2 -5l2 4l2 2l2 -6l2 -2l2 12l2 -9l2 -1l2 1l2 3l2 6l2 -12l2 12l2 -4l2 0l2 -1l2 1l2 -4l2 -2l2 8l2 -2l2 -8l2 4l2 -2l2 0l2 11l2 -9l2 0l2 0l2 3l2 3l2 0l2 -4l2 4l2 -10l2 10l2 -3l2 0l2 -7l2 8l2 0l2 -4l2 2l2 -2l2 2l2 8l2 -6l2 1l2 -2l2 5l2 -2H959 V200 Z"/>
<path fill="#ffcf00" d="M151 200V50l3 0l2 -2l2 6l2 -16l2 4l2 2l2 0l2 2l2 2l2 -3l2 -3l2 0l2 4l2 9l2 -10l2 -4l2 -1l2 8l2 0l2 -10l2 10l2 -8l2 0l2 4l2 2l2 -2l2 10l2 -8l2 3l2 -2l2 1l2 2l2 -4l2 -2l2 -1l2 1l2 -2l2 14l2 -20l2 12l2 -1l2 -8l2 1l2 1l2 9l2 -8l2 4l2 3l2 -9l2 -3l2 9l2 -3l2 1l2 -4l2 2l2 -2l2 9l2 -5l2 -2l2 8l2 -14l2 12l2 -4l2 -8l2 12l2 -8l2 -2l2 10l2 -6l2 1l2 3l2 -4l2 0l2 -4l2 7l2 5l2 -3l2 -3l2 3l2 -10l2 13l2 -14l2 4l2 6l2 -6l2 2l2 -2l2 9l2 -9l2 3l2 -2l2 -1l2 6l2 -7l2 4l2 0l2 5l2 -10l2 5l2 -2l2 3l2 4l2 -6l2 -6l2 9l2 1l2 -6l2 1l2 9l2 -10l2 9l2 -5l2 -6l2 6l2 -3l2 3l2 2l2 2l2 -3l2 3l2 -10l2 4l2 -6l2 12l2 -8l2 6l2 -4l2 -2l2 10l2 -4l2 -4l2 -1l2 10l2 -9l2 -2l2 4l2 0l2 0l2 -3l2 5l2 -10l2 8l2 -3l2 3l2 -2l2 0l2 2l2 -1l2 -2l2 3l2 4l2 -2l2 -2l2 0l2 -8l2 6l2 2l2 6l2 -8l2 -2l2 4l2 2l2 1l2 -6l2 1l2 7l2 -7l2 4l2 -5l2 8l2 -5l2 2l2 2l2 0l2 -3l2 1l2 -4l2 6l2 -7l2 9l2 -13l2 10l2 -3l2 2l2 2l2 -4l2 -2l2 1l2 11l2 -12l2 2l2 2l2 -2l2 -3l2 2l2 4l2 -7l2 10l2 -6l2 -3l2 5l2 5l2 -9l2 2l2 5l2 -8l2 5l2 0l2 0l2 0l2 0l2 1l2 5l2 -2l2 -10l2 10l2 -4l2 1l2 1l2 -9l2 13l2 -9l2 -1l2 0l2 0l2 12l2 -16l2 7l2 6l2 -9l2 7l2 -7l2 8l2 2l2 -4l2 -4l2 4l2 -6l2 10l2 -8l2 4l2 0l2 -2l2 -1l2 1l2 1l2 -1l2 7l2 -8l2 3l2 2l2 -2l2 -2l2 2l2 6l2 -7l2 0l2 -1l2 -4l2 6l2 -4l2 1l2 7l2 -2l2 0l2 -4l2 3l2 -3l2 0l2 2l2 2l2 -2l2 -1l2 -5l2 6l2 0l2 -2l2 2l2 0l2 -4l2 6l2 -4l2 1l2 3l2 -2l2 0l2 4l2 -4l2 -2l2 4l2 -6l2 9l2 -8l2 5l2 -2l2 2l2 -10l2 14l2 -5l2 -7l2 4l2 0l2 2l2 2l2 -6l2 8l2 -6l2 0l2 0l2 4l2 0l2 -2l2 4l2 -6l2 4l2 -2l2 -3l2 4l2 -3l2 4l2 4l2 -10l2 8l2 -6l2 4l2 -1l2 1l2 -4l2 4l2 2l2 -8l2 2l2 0l2 4l2 -7l2 11l2 -10l2 8l2 -10l2 12l2 -11l2 10l2 -9l2 4l2 6l2 -8l2 0l2 3l2 1l2 -9l2 8l2 -5l2 4l2 3l2 -7l2 -2l2 12l2 -8l2 -2l2 1l2 3l2 6l2 -11l2 11l2 -4l2 0l2 -1l2 1l2 -5l2 -1l2 8l2 -2l2 -8l2 4l2 -2l2 0l2 12l2 -10l2 1l2 0l2 2l2 3l2 1l2 -5l2 4l2 -10l2 10l2 -2l2 0l2 -8l2 7l2 1l2 -4l2 2l2 -2l2 2l2 9l2 -7l2 2l2 -2l2 4l2 -1H959 V200 Z"/>
<path fill="#ffaf00" d="M151 200V54l3 0l2 -2l2 6l2 -16l2 4l2 2l2 0l2 2l2 1l2 -2l2 -3l2 0l2 4l2 8l2 -10l2 -3l2 -1l2 8l2 -1l2 -9l2 10l2 -8l2 0l2 4l2 2l2 -2l2 10l2 -7l2 2l2 -3l2 1l2 5l2 -6l2 -1l2 -1l2 0l2 0l2 12l2 -21l2 13l2 -1l2 -8l2 3l2 1l2 7l2 -7l2 5l2 2l2 -10l2 -2l2 8l2 -2l2 -2l2 -3l2 3l2 -2l2 9l2 -5l2 -2l2 10l2 -18l2 12l2 -2l2 -10l2 12l2 -8l2 -1l2 11l2 -6l2 4l2 0l2 -4l2 -1l2 -3l2 8l2 6l2 -4l2 -2l2 3l2 -11l2 14l2 -16l2 5l2 3l2 -4l2 2l2 -2l2 11l2 -10l2 3l2 -3l2 1l2 4l2 -8l2 6l2 0l2 4l2 -10l2 5l2 -3l2 4l2 6l2 -6l2 -8l2 8l2 3l2 -7l2 0l2 10l2 -8l2 6l2 -4l2 -6l2 6l2 -2l2 3l2 2l2 1l2 -3l2 3l2 -10l2 4l2 -6l2 12l2 -8l2 6l2 -4l2 -2l2 10l2 -4l2 -4l2 -2l2 11l2 -9l2 -3l2 5l2 -2l2 2l2 -4l2 6l2 -10l2 8l2 -3l2 3l2 -2l2 0l2 2l2 -2l2 -1l2 3l2 4l2 -2l2 -2l2 0l2 -8l2 6l2 2l2 5l2 -7l2 -2l2 4l2 2l2 1l2 -6l2 1l2 6l2 -6l2 4l2 -6l2 8l2 -5l2 3l2 2l2 0l2 -3l2 1l2 -4l2 5l2 -7l2 10l2 -14l2 10l2 -2l2 2l2 2l2 -4l2 -2l2 0l2 12l2 -12l2 2l2 0l2 -1l2 -3l2 2l2 4l2 -7l2 10l2 -6l2 -3l2 6l2 4l2 -8l2 2l2 4l2 -8l2 5l2 1l2 -2l2 2l2 -1l2 1l2 6l2 -3l2 -10l2 10l2 -3l2 0l2 1l2 -9l2 12l2 -8l2 0l2 -1l2 -1l2 13l2 -15l2 6l2 6l2 -10l2 8l2 -6l2 8l2 0l2 -4l2 -3l2 3l2 -6l2 12l2 -8l2 2l2 0l2 -2l2 0l2 2l2 0l2 -1l2 7l2 -8l2 4l2 0l2 -2l2 0l2 2l2 5l2 -7l2 0l2 0l2 -6l2 8l2 -6l2 2l2 6l2 -2l2 0l2 -4l2 4l2 -3l2 0l2 2l2 1l2 -1l2 -1l2 -6l2 6l2 2l2 -4l2 3l2 -1l2 -3l2 7l2 -4l2 0l2 2l2 -2l2 1l2 4l2 -5l2 -2l2 4l2 -6l2 10l2 -8l2 4l2 -2l2 2l2 -10l2 16l2 -6l2 -8l2 6l2 -2l2 3l2 1l2 -4l2 7l2 -7l2 0l2 0l2 4l2 1l2 -2l2 5l2 -7l2 4l2 -3l2 -3l2 5l2 -3l2 5l2 2l2 -10l2 10l2 -8l2 4l2 0l2 1l2 -5l2 4l2 3l2 -7l2 2l2 0l2 4l2 -8l2 12l2 -11l2 7l2 -10l2 14l2 -12l2 10l2 -8l2 2l2 8l2 -10l2 2l2 2l2 0l2 -8l2 8l2 -6l2 5l2 3l2 -8l2 -1l2 11l2 -8l2 0l2 -1l2 3l2 6l2 -10l2 10l2 -4l2 1l2 -1l2 0l2 -4l2 -1l2 8l2 -3l2 -8l2 4l2 -2l2 1l2 11l2 -9l2 1l2 0l2 2l2 4l2 0l2 -5l2 3l2 -10l2 10l2 -2l2 0l2 -7l2 7l2 2l2 -6l2 3l2 -3l2 4l2 8l2 -8l2 2l2 -2l2 6l2 -2H959 V200 Z"/>
<path fill="#ff8f00" d="M151 200V58l3 0l2 0l2 7l2 -15l2 0l2 2l2 2l2 1l2 -1l2 2l2 -4l2 -3l2 6l2 9l2 -12l2 -2l2 -1l2 7l2 -1l2 -10l2 11l2 -6l2 1l2 3l2 2l2 -3l2 12l2 -7l2 1l2 -3l2 0l2 8l2 -7l2 -1l2 -2l2 0l2 0l2 13l2 -24l2 13l2 0l2 -8l2 5l2 1l2 7l2 -7l2 4l2 3l2 -12l2 -1l2 8l2 -3l2 -1l2 -4l2 5l2 -3l2 9l2 -5l2 -2l2 10l2 -19l2 13l2 -2l2 -12l2 14l2 -8l2 -1l2 11l2 -5l2 3l2 1l2 -5l2 -1l2 -3l2 8l2 6l2 -4l2 -1l2 3l2 -12l2 14l2 -17l2 7l2 1l2 -3l2 1l2 -1l2 11l2 -9l2 2l2 -3l2 1l2 3l2 -9l2 8l2 -1l2 4l2 -9l2 4l2 -4l2 6l2 6l2 -6l2 -10l2 10l2 4l2 -10l2 1l2 9l2 -5l2 3l2 -2l2 -6l2 5l2 -2l2 3l2 2l2 4l2 -6l2 3l2 -11l2 4l2 -6l2 12l2 -8l2 8l2 -6l2 0l2 11l2 -6l2 -4l2 -3l2 13l2 -11l2 -4l2 6l2 -2l2 3l2 -5l2 6l2 -10l2 8l2 -3l2 3l2 -2l2 -1l2 3l2 -2l2 0l2 2l2 4l2 -2l2 -2l2 0l2 -9l2 7l2 1l2 5l2 -6l2 -2l2 4l2 5l2 0l2 -7l2 0l2 9l2 -10l2 5l2 -6l2 8l2 -6l2 4l2 4l2 -2l2 -2l2 0l2 -5l2 6l2 -7l2 10l2 -14l2 10l2 -2l2 2l2 2l2 -5l2 -2l2 1l2 12l2 -13l2 3l2 0l2 -2l2 -2l2 2l2 4l2 -8l2 10l2 -6l2 -2l2 6l2 4l2 -10l2 4l2 4l2 -9l2 5l2 1l2 -1l2 2l2 -2l2 2l2 5l2 -3l2 -10l2 11l2 -3l2 0l2 0l2 -8l2 12l2 -8l2 -1l2 -1l2 0l2 12l2 -16l2 7l2 7l2 -10l2 8l2 -7l2 7l2 2l2 -4l2 -4l2 4l2 -6l2 10l2 -8l2 4l2 0l2 -3l2 -1l2 2l2 2l2 -2l2 7l2 -9l2 4l2 2l2 -2l2 -2l2 2l2 6l2 -7l2 0l2 -1l2 -4l2 6l2 -4l2 1l2 6l2 -1l2 0l2 -4l2 2l2 -2l2 0l2 2l2 1l2 -1l2 -1l2 -5l2 6l2 0l2 -3l2 3l2 0l2 -4l2 6l2 -4l2 1l2 2l2 -2l2 1l2 4l2 -4l2 -3l2 5l2 -7l2 10l2 -8l2 5l2 -2l2 2l2 -10l2 14l2 -4l2 -8l2 4l2 0l2 2l2 2l2 -6l2 8l2 -7l2 1l2 -2l2 5l2 1l2 -2l2 5l2 -7l2 4l2 -2l2 -4l2 4l2 -2l2 5l2 3l2 -10l2 9l2 -7l2 4l2 0l2 0l2 -6l2 6l2 2l2 -7l2 3l2 -2l2 6l2 -8l2 11l2 -11l2 8l2 -10l2 14l2 -12l2 9l2 -8l2 3l2 7l2 -9l2 1l2 3l2 -1l2 -7l2 8l2 -6l2 4l2 4l2 -9l2 -1l2 12l2 -8l2 -2l2 0l2 2l2 8l2 -11l2 11l2 -5l2 1l2 -1l2 1l2 -6l2 1l2 7l2 -2l2 -8l2 3l2 -3l2 2l2 12l2 -10l2 0l2 0l2 3l2 3l2 2l2 -6l2 3l2 -9l2 10l2 -2l2 0l2 -7l2 5l2 3l2 -5l2 2l2 -2l2 2l2 10l2 -8l2 1l2 -2l2 6l2 -1H959 V200 Z"/>
<path fill="#ff7000" d="M151 200V66l3 0l2 0l2 8l2 -16l2 -2l2 4l2 2l2 0l2 0l2 2l2 -4l2 -4l2 6l2 10l2 -12l2 -2l2 -2l2 6l2 0l2 -13l2 14l2 -7l2 2l2 2l2 3l2 -3l2 14l2 -8l2 0l2 -4l2 0l2 16l2 -13l2 0l2 -3l2 0l2 0l2 14l2 -26l2 13l2 1l2 -9l2 7l2 6l2 1l2 -3l2 4l2 0l2 -14l2 -1l2 9l2 -4l2 -2l2 -4l2 6l2 -3l2 9l2 -6l2 -2l2 14l2 -23l2 13l2 -2l2 -12l2 14l2 -8l2 0l2 10l2 -4l2 7l2 -3l2 -6l2 0l2 -4l2 8l2 16l2 -14l2 2l2 4l2 -16l2 18l2 -20l2 6l2 1l2 -3l2 2l2 -1l2 15l2 -12l2 2l2 -4l2 4l2 0l2 -10l2 8l2 0l2 4l2 -8l2 3l2 -5l2 6l2 8l2 -4l2 -16l2 12l2 7l2 -11l2 -2l2 11l2 -3l2 0l2 -1l2 -5l2 4l2 -1l2 3l2 2l2 8l2 -12l2 4l2 -12l2 4l2 -8l2 14l2 -8l2 10l2 -8l2 4l2 11l2 -8l2 -4l2 -5l2 16l2 -16l2 -3l2 7l2 -4l2 8l2 -7l2 7l2 -12l2 10l2 -4l2 2l2 -1l2 -1l2 6l2 -7l2 3l2 2l2 4l2 -2l2 -3l2 1l2 -13l2 7l2 2l2 8l2 -7l2 -2l2 6l2 5l2 0l2 -8l2 0l2 9l2 -13l2 7l2 -7l2 10l2 -8l2 2l2 7l2 -1l2 -3l2 0l2 -8l2 7l2 -6l2 11l2 -15l2 10l2 -2l2 2l2 1l2 -5l2 -2l2 2l2 11l2 -15l2 7l2 -3l2 0l2 -2l2 0l2 5l2 -9l2 12l2 -8l2 -4l2 8l2 4l2 -10l2 6l2 2l2 -10l2 6l2 1l2 -1l2 4l2 -2l2 0l2 6l2 -4l2 -11l2 14l2 -3l2 -2l2 0l2 -9l2 13l2 -8l2 -2l2 -1l2 1l2 12l2 -16l2 7l2 7l2 -11l2 8l2 -5l2 7l2 -1l2 -2l2 -5l2 3l2 -6l2 14l2 -10l2 3l2 -1l2 -2l2 0l2 2l2 2l2 -2l2 8l2 -10l2 4l2 2l2 -4l2 2l2 0l2 6l2 -8l2 0l2 0l2 -6l2 8l2 -6l2 3l2 5l2 0l2 0l2 -4l2 2l2 -2l2 0l2 2l2 2l2 -3l2 -1l2 -4l2 6l2 -1l2 -2l2 3l2 -2l2 -2l2 7l2 -5l2 2l2 0l2 -2l2 2l2 4l2 -6l2 -2l2 4l2 -6l2 11l2 -7l2 4l2 -3l2 3l2 -12l2 16l2 -5l2 -9l2 6l2 -1l2 3l2 0l2 -3l2 7l2 -8l2 0l2 0l2 4l2 2l2 -2l2 5l2 -7l2 4l2 -3l2 -4l2 5l2 -2l2 4l2 3l2 -10l2 10l2 -7l2 3l2 1l2 0l2 -6l2 5l2 3l2 -8l2 2l2 0l2 4l2 -7l2 11l2 -10l2 7l2 -11l2 15l2 -11l2 8l2 -8l2 4l2 6l2 -9l2 1l2 3l2 -1l2 -6l2 8l2 -6l2 4l2 4l2 -10l2 0l2 11l2 -7l2 -2l2 0l2 2l2 7l2 -11l2 12l2 -6l2 2l2 -2l2 1l2 -5l2 1l2 7l2 -2l2 -8l2 3l2 -3l2 1l2 13l2 -11l2 1l2 0l2 3l2 3l2 2l2 -6l2 2l2 -9l2 11l2 -2l2 0l2 -8l2 6l2 3l2 -5l2 2l2 -3l2 3l2 10l2 -8l2 1l2 -2l2 6l2 -1H959 V200 Z"/>
<path fill="#ff5000" d="M151 200V76l3 0l2 8l2 10l2 -17l2 -13l2 8l2 8l2 -4l2 -6l2 11l2 -7l2 -9l2 9l2 14l2 -18l2 1l2 -1l2 -1l2 3l2 -16l2 16l2 -2l2 4l2 0l2 4l2 -4l2 18l2 -10l2 -2l2 -6l2 -4l2 37l2 -26l2 1l2 -3l2 -3l2 2l2 16l2 -36l2 16l2 4l2 -10l2 12l2 5l2 0l2 -3l2 4l2 1l2 -21l2 4l2 9l2 -5l2 -8l2 -3l2 13l2 -6l2 10l2 -8l2 -2l2 18l2 -32l2 14l2 6l2 -22l2 17l2 -7l2 3l2 9l2 0l2 7l2 -3l2 -9l2 -2l2 -3l2 11l2 21l2 -19l2 3l2 3l2 -16l2 19l2 -24l2 10l2 -8l2 1l2 3l2 0l2 16l2 -12l2 1l2 -5l2 6l2 -4l2 -12l2 13l2 -1l2 4l2 -8l2 3l2 -9l2 8l2 10l2 -2l2 -22l2 14l2 10l2 -14l2 -2l2 12l2 -2l2 -4l2 2l2 -4l2 2l2 0l2 4l2 0l2 10l2 -13l2 5l2 -16l2 6l2 -10l2 14l2 -7l2 11l2 -8l2 4l2 12l2 -9l2 -4l2 -7l2 18l2 -16l2 -4l2 6l2 -3l2 9l2 -8l2 8l2 -12l2 10l2 -4l2 0l2 0l2 0l2 4l2 -6l2 4l2 0l2 5l2 -1l2 -4l2 1l2 -14l2 7l2 3l2 8l2 -7l2 -2l2 6l2 4l2 0l2 -8l2 0l2 10l2 -14l2 7l2 -7l2 10l2 -8l2 1l2 8l2 -1l2 -3l2 -1l2 -8l2 8l2 -7l2 11l2 -15l2 9l2 0l2 2l2 0l2 -5l2 -2l2 2l2 11l2 -16l2 8l2 -2l2 -2l2 -2l2 0l2 6l2 -10l2 12l2 -8l2 -4l2 8l2 2l2 -8l2 6l2 0l2 -10l2 8l2 1l2 -1l2 4l2 -2l2 0l2 6l2 -4l2 -12l2 15l2 -3l2 -2l2 0l2 -9l2 13l2 -8l2 -2l2 -4l2 4l2 12l2 -18l2 8l2 8l2 -12l2 9l2 -5l2 7l2 -1l2 -2l2 -6l2 4l2 -6l2 14l2 -10l2 2l2 0l2 -4l2 0l2 4l2 2l2 -2l2 8l2 -12l2 6l2 1l2 -3l2 1l2 1l2 6l2 -8l2 -2l2 0l2 -5l2 8l2 -5l2 2l2 6l2 0l2 -1l2 -4l2 3l2 -2l2 -2l2 3l2 1l2 -2l2 -1l2 -4l2 5l2 0l2 -2l2 3l2 -2l2 -1l2 6l2 -6l2 2l2 2l2 -2l2 0l2 6l2 -7l2 -1l2 2l2 -5l2 11l2 -8l2 5l2 -3l2 2l2 -12l2 16l2 -4l2 -10l2 8l2 -2l2 2l2 1l2 -3l2 6l2 -8l2 0l2 0l2 4l2 4l2 -4l2 7l2 -8l2 3l2 -3l2 -4l2 5l2 -2l2 5l2 2l2 -9l2 11l2 -9l2 4l2 1l2 -1l2 -6l2 6l2 2l2 -8l2 4l2 -1l2 5l2 -8l2 12l2 -13l2 8l2 -11l2 16l2 -12l2 8l2 -8l2 5l2 5l2 -10l2 3l2 2l2 -1l2 -6l2 8l2 -6l2 4l2 6l2 -12l2 0l2 10l2 -5l2 -3l2 0l2 2l2 6l2 -10l2 11l2 -5l2 2l2 -2l2 1l2 -5l2 2l2 6l2 -2l2 -8l2 3l2 -3l2 1l2 13l2 -11l2 1l2 0l2 3l2 3l2 4l2 -8l2 2l2 -10l2 11l2 1l2 -2l2 -7l2 5l2 4l2 -6l2 2l2 -3l2 3l2 12l2 -11l2 2l2 -2l2 7l2 -2H959 V200 Z"/>
<path fill="#ff3000" d="M151 200V96l3 0l2 59l2 45l2 -36l2 -82l2 8l2 60l2 -42l2 -20l2 62l2 -39l2 -27l2 12l2 41l2 -48l2 11l2 -4l2 -11l2 5l2 -22l2 23l2 7l2 24l2 -24l2 14l2 -14l2 63l2 -24l2 -29l2 -16l2 -4l2 112l2 -69l2 20l2 -17l2 -26l2 18l2 34l2 -86l2 16l2 10l2 -16l2 60l2 56l2 -69l2 28l2 3l2 -14l2 -65l2 17l2 10l2 -18l2 -8l2 -4l2 26l2 -20l2 12l2 -10l2 -1l2 60l2 -75l2 14l2 11l2 -29l2 19l2 -7l2 3l2 9l2 16l2 36l2 -32l2 -25l2 -2l2 -3l2 12l2 106l2 -106l2 30l2 8l2 -48l2 46l2 -52l2 14l2 -12l2 2l2 2l2 1l2 42l2 -36l2 0l2 -6l2 22l2 -21l2 -12l2 14l2 -1l2 3l2 -6l2 1l2 -10l2 9l2 11l2 3l2 -30l2 15l2 13l2 -16l2 -4l2 12l2 3l2 -9l2 4l2 -4l2 2l2 0l2 3l2 1l2 25l2 -29l2 4l2 -16l2 4l2 -9l2 13l2 -6l2 12l2 -8l2 6l2 12l2 -11l2 -3l2 -10l2 22l2 -20l2 -4l2 6l2 -3l2 11l2 -10l2 10l2 -13l2 11l2 -6l2 0l2 0l2 0l2 6l2 -9l2 7l2 -1l2 4l2 -1l2 -4l2 1l2 -15l2 8l2 2l2 8l2 -8l2 -1l2 7l2 7l2 -1l2 -8l2 -2l2 12l2 -18l2 7l2 -7l2 10l2 -8l2 0l2 12l2 -4l2 -1l2 -3l2 -9l2 9l2 -8l2 14l2 -18l2 10l2 -1l2 2l2 0l2 -5l2 -2l2 2l2 11l2 -15l2 7l2 -3l2 -1l2 -2l2 -1l2 6l2 -10l2 13l2 -8l2 -5l2 9l2 2l2 -9l2 7l2 0l2 -11l2 8l2 2l2 -2l2 6l2 -4l2 0l2 6l2 -4l2 -12l2 15l2 -3l2 -2l2 0l2 -9l2 13l2 -9l2 -1l2 -4l2 4l2 12l2 -18l2 8l2 8l2 -12l2 9l2 -5l2 6l2 0l2 -3l2 -5l2 3l2 -6l2 15l2 -10l2 2l2 0l2 -4l2 -1l2 5l2 2l2 -3l2 8l2 -11l2 5l2 1l2 -2l2 0l2 2l2 4l2 -7l2 -1l2 0l2 -6l2 8l2 -5l2 3l2 5l2 -1l2 0l2 -4l2 2l2 -1l2 -1l2 2l2 2l2 -4l2 0l2 -4l2 6l2 -1l2 -2l2 3l2 -2l2 -2l2 7l2 -5l2 2l2 0l2 -2l2 2l2 4l2 -6l2 -2l2 4l2 -6l2 12l2 -8l2 4l2 -2l2 2l2 -12l2 16l2 -4l2 -10l2 7l2 -1l2 1l2 1l2 -2l2 6l2 -8l2 0l2 -2l2 5l2 5l2 -4l2 6l2 -8l2 4l2 -3l2 -5l2 5l2 -1l2 5l2 1l2 -8l2 11l2 -9l2 4l2 1l2 -1l2 -8l2 8l2 2l2 -7l2 3l2 0l2 4l2 -8l2 12l2 -14l2 9l2 -11l2 16l2 -12l2 9l2 -9l2 6l2 5l2 -10l2 3l2 2l2 -2l2 -4l2 8l2 -8l2 4l2 6l2 -13l2 1l2 10l2 -4l2 -3l2 -3l2 2l2 8l2 -9l2 10l2 -7l2 4l2 -1l2 0l2 -7l2 6l2 4l2 -2l2 -8l2 2l2 -4l2 2l2 16l2 -14l2 2l2 1l2 3l2 2l2 5l2 -9l2 0l2 -8l2 12l2 1l2 -1l2 -8l2 3l2 5l2 -6l2 0l2 -2l2 4l2 12l2 -11l2 2l2 -2l2 7l2 -2H959 V200 Z"/>
<path fill="#ff1000" d="M151 200V200l3 0l2 0l2 0l2 0l2 -41l2 41l2 0l2 0l2 -38l2 38l2 0l2 -30l2 30l2 0l2 0l2 0l2 0l2 -64l2 42l2 -92l2 90l2 24l2 0l2 0l2 0l2 0l2 0l2 0l2 0l2 0l2 -47l2 47l2 0l2 0l2 0l2 0l2 0l2 0l2 -67l2 31l2 36l2 -26l2 26l2 0l2 0l2 0l2 0l2 0l2 -46l2 46l2 0l2 0l2 -62l2 -6l2 68l2 -32l2 32l2 -33l2 -5l2 38l2 -90l2 16l2 74l2 -114l2 48l2 0l2 29l2 -1l2 38l2 0l2 0l2 -42l2 -9l2 -1l2 32l2 20l2 -22l2 22l2 0l2 -32l2 32l2 -64l2 40l2 -82l2 38l2 10l2 12l2 46l2 -27l2 -3l2 -24l2 54l2 -85l2 -26l2 61l2 -6l2 -7l2 15l2 -24l2 -38l2 20l2 57l2 33l2 -118l2 20l2 76l2 -72l2 -15l2 19l2 60l2 -74l2 28l2 5l2 -25l2 24l2 0l2 -9l2 81l2 -100l2 14l2 -28l2 5l2 -11l2 14l2 -6l2 18l2 -14l2 35l2 37l2 -64l2 -4l2 -11l2 51l2 -50l2 -4l2 8l2 -6l2 14l2 -10l2 11l2 -15l2 12l2 -6l2 -1l2 1l2 0l2 6l2 -10l2 7l2 -1l2 4l2 0l2 -6l2 2l2 -18l2 9l2 3l2 10l2 -8l2 -2l2 7l2 11l2 -4l2 -8l2 -2l2 12l2 -22l2 11l2 -8l2 11l2 -10l2 -2l2 16l2 -4l2 -1l2 -3l2 -16l2 13l2 -7l2 16l2 -20l2 8l2 2l2 3l2 -3l2 -5l2 -2l2 2l2 13l2 -22l2 16l2 -10l2 2l2 -1l2 -5l2 9l2 -14l2 17l2 -12l2 -5l2 12l2 -2l2 -9l2 16l2 -9l2 -11l2 8l2 2l2 -2l2 15l2 -9l2 -4l2 11l2 -9l2 -12l2 23l2 -5l2 -4l2 -4l2 -9l2 15l2 -10l2 -2l2 -4l2 4l2 12l2 -18l2 8l2 10l2 -14l2 9l2 -2l2 5l2 -2l2 -3l2 -5l2 2l2 -6l2 19l2 -13l2 2l2 0l2 -4l2 -2l2 6l2 4l2 -5l2 9l2 -12l2 4l2 2l2 -3l2 4l2 -1l2 4l2 -8l2 0l2 -1l2 -5l2 8l2 -6l2 3l2 5l2 2l2 -2l2 -4l2 2l2 0l2 -3l2 3l2 1l2 -3l2 -1l2 -3l2 5l2 -1l2 -2l2 4l2 -2l2 -2l2 8l2 -7l2 3l2 0l2 -2l2 0l2 7l2 -7l2 -2l2 3l2 -5l2 11l2 -7l2 5l2 -4l2 3l2 -13l2 17l2 -4l2 -11l2 9l2 -3l2 1l2 2l2 -2l2 6l2 -9l2 1l2 -2l2 5l2 5l2 -4l2 8l2 -9l2 3l2 -4l2 -4l2 5l2 -1l2 5l2 1l2 -8l2 12l2 -9l2 3l2 2l2 -2l2 -7l2 7l2 2l2 -7l2 3l2 0l2 4l2 -8l2 12l2 -13l2 9l2 -12l2 17l2 -13l2 10l2 -9l2 5l2 6l2 -10l2 2l2 2l2 -2l2 -4l2 8l2 -7l2 3l2 8l2 -14l2 2l2 10l2 -4l2 -4l2 -3l2 3l2 8l2 -10l2 10l2 -6l2 4l2 -2l2 0l2 -6l2 6l2 4l2 -2l2 -8l2 2l2 -4l2 2l2 16l2 -14l2 2l2 0l2 4l2 1l2 6l2 -10l2 1l2 -10l2 13l2 3l2 -4l2 -7l2 3l2 6l2 -8l2 1l2 -2l2 4l2 19l2 -19l2 3l2 -2l2 7l2 -3H959 V200 Z"/>
<path fill="#ef0000" d="M151 200V200l3 0l2 0l2 0l2 0l2 0l2 0l2 0l2 0l2 0l2 0l2 0l2 0l2 0l2 0l2 0l2 0l2 0l2 0l2 0l2 0l2 0l2 0l2 0l2 0l2 0l2 0l2 0l2 0l2 0l2 0l2 0l2 0l2 0l2 0l2 0l2 0l2 0l2 0l2 0l2 0l2 0l2 0l2 0l2 0l2 0l2 0l2 0l2 0l2 0l2 0l2 0l2 0l2 0l2 0l2 0l2 0l2 0l2 0l2 0l2 0l2 0l2 0l2 0l2 0l2 0l2 0l2 0l2 0l2 0l2 0l2 0l2 0l2 0l2 0l2 0l2 0l2 0l2 0l2 0l2 0l2 0l2 0l2 0l2 -28l2 28l2 0l2 0l2 0l2 0l2 0l2 0l2 0l2 0l2 -34l2 34l2 0l2 0l2 0l2 0l2 -39l2 39l2 0l2 0l2 -66l2 66l2 0l2 0l2 -38l2 38l2 0l2 -54l2 54l2 0l2 0l2 0l2 0l2 0l2 0l2 0l2 0l2 -54l2 6l2 -38l2 14l2 12l2 60l2 -38l2 38l2 0l2 0l2 0l2 -89l2 89l2 -90l2 -12l2 26l2 -24l2 100l2 -64l2 64l2 -58l2 34l2 -28l2 -40l2 32l2 0l2 32l2 -73l2 75l2 -28l2 -8l2 26l2 -46l2 23l2 -53l2 8l2 4l2 32l2 -17l2 1l2 28l2 56l2 0l2 -39l2 -23l2 62l2 -106l2 17l2 -15l2 16l2 -14l2 -2l2 62l2 -32l2 17l2 -36l2 -19l2 13l2 -7l2 34l2 -38l2 9l2 3l2 4l2 -5l2 -5l2 -2l2 2l2 12l2 -22l2 18l2 -10l2 1l2 -1l2 -6l2 10l2 -16l2 19l2 -12l2 -9l2 16l2 -6l2 -6l2 18l2 -14l2 -16l2 16l2 3l2 -1l2 14l2 -10l2 -4l2 12l2 -10l2 -18l2 30l2 -5l2 -5l2 -6l2 -8l2 16l2 -11l2 -1l2 -12l2 10l2 12l2 -22l2 12l2 11l2 -19l2 14l2 -2l2 6l2 -7l2 0l2 -7l2 0l2 -6l2 24l2 -14l2 2l2 -3l2 -7l2 -2l2 11l2 5l2 -6l2 10l2 -18l2 10l2 2l2 -5l2 5l2 0l2 4l2 -10l2 -4l2 0l2 -5l2 11l2 -6l2 4l2 3l2 3l2 0l2 -6l2 2l2 0l2 -3l2 3l2 2l2 -8l2 1l2 -1l2 6l2 -4l2 0l2 4l2 -6l2 3l2 7l2 -8l2 4l2 -2l2 -2l2 1l2 8l2 -9l2 -2l2 0l2 -2l2 12l2 -6l2 4l2 -4l2 2l2 -14l2 18l2 -4l2 -12l2 10l2 -2l2 0l2 2l2 0l2 5l2 -11l2 0l2 -2l2 6l2 7l2 -5l2 9l2 -9l2 2l2 -4l2 -6l2 6l2 -1l2 6l2 0l2 -8l2 14l2 -9l2 1l2 3l2 -2l2 -9l2 8l2 3l2 -8l2 5l2 -1l2 5l2 -9l2 12l2 -15l2 9l2 -11l2 19l2 -14l2 8l2 -8l2 6l2 6l2 -12l2 4l2 2l2 -2l2 -4l2 9l2 -9l2 4l2 9l2 -15l2 2l2 10l2 -4l2 -4l2 -4l2 3l2 8l2 -9l2 10l2 -6l2 4l2 -1l2 -1l2 -6l2 6l2 4l2 -2l2 -8l2 2l2 -4l2 2l2 16l2 -15l2 3l2 2l2 3l2 0l2 10l2 -13l2 -1l2 -9l2 14l2 9l2 -5l2 -8l2 -3l2 15l2 -12l2 -4l2 -2l2 9l2 62l2 -63l2 8l2 -2l2 47l2 -12H959 V200 Z"/>
<path fill="#cf0000" d="M151 200V200l3 0l2 0l2 0l2 0l2 0l2 0l2 0l2 0l2 0l2 0l2 0l2 0l2 0l2 0l2 0l2 0l2 0l2 0l2 0l2 0l2 0l2 0l2 0l2 0l2 0l2 0l2 0l2 0l2 0l2 0l2 0l2 0l2 0l2 0l2 0l2 0l2 0l2 0l2 0l2 0l2 0l2 0l2 0l2 0l2 0l2 0l2 0l2 0l2 0l2 0l2 0l2 0l2 0l2 0l2 0l2 0l2 0l2 0l2 0l2 0l2 0l2 0l2 0l2 0l2 0l2 0l2 0l2 0l2 0l2 0l2 0l2 0l2 0l2 0l2 0l2 0l2 0l2 0l2 0l2 0l2 0l2 0l2 0l2 0l2 0l2 0l2 0l2 0l2 0l2 0l2 0l2 0l2 0l2 0l2 0l2 0l2 0l2 0l2 0l2 0l2 0l2 0l2 0l2 0l2 0l2 0l2 0l2 0l2 0l2 0l2 0l2 0l2 0l2 0l2 0l2 0l2 0l2 0l2 0l2 0l2 0l2 0l2 0l2 0l2 0l2 0l2 0l2 0l2 0l2 0l2 0l2 0l2 0l2 0l2 0l2 0l2 0l2 0l2 0l2 0l2 0l2 0l2 0l2 0l2 0l2 0l2 0l2 0l2 0l2 0l2 0l2 0l2 0l2 0l2 -54l2 23l2 31l2 0l2 0l2 0l2 0l2 0l2 0l2 0l2 0l2 0l2 -56l2 56l2 0l2 0l2 0l2 -76l2 76l2 0l2 0l2 0l2 -94l2 66l2 -3l2 31l2 -44l2 0l2 44l2 0l2 -32l2 -19l2 0l2 9l2 42l2 -100l2 100l2 -84l2 33l2 13l2 -58l2 42l2 -48l2 56l2 -49l2 -9l2 38l2 -28l2 -6l2 100l2 -97l2 -16l2 17l2 2l2 0l2 94l2 -71l2 -23l2 38l2 -38l2 -18l2 112l2 -23l2 -55l2 -18l2 -10l2 17l2 -11l2 -2l2 -13l2 12l2 11l2 -22l2 12l2 14l2 -22l2 12l2 12l2 -5l2 -9l2 0l2 -8l2 1l2 -6l2 46l2 -36l2 1l2 -2l2 -8l2 -2l2 11l2 11l2 -11l2 13l2 -22l2 10l2 2l2 -6l2 12l2 -7l2 4l2 -10l2 -3l2 0l2 -6l2 11l2 -6l2 4l2 3l2 4l2 -2l2 -5l2 1l2 1l2 -3l2 3l2 1l2 -7l2 1l2 -1l2 5l2 -4l2 0l2 5l2 -7l2 3l2 7l2 -8l2 4l2 -1l2 -3l2 2l2 7l2 -9l2 -2l2 0l2 -2l2 12l2 -6l2 4l2 -4l2 2l2 -15l2 19l2 -4l2 -14l2 12l2 -3l2 0l2 2l2 0l2 5l2 -12l2 0l2 0l2 4l2 8l2 -4l2 8l2 -10l2 3l2 -5l2 -6l2 6l2 0l2 6l2 0l2 -8l2 14l2 -10l2 2l2 4l2 -4l2 -8l2 8l2 3l2 -7l2 4l2 -2l2 6l2 -10l2 12l2 -14l2 9l2 -11l2 18l2 -13l2 9l2 -9l2 6l2 5l2 -10l2 3l2 2l2 -3l2 -3l2 9l2 -8l2 2l2 10l2 -16l2 2l2 10l2 -3l2 -4l2 -4l2 3l2 8l2 -8l2 9l2 -7l2 4l2 0l2 0l2 -8l2 7l2 4l2 -3l2 -7l2 3l2 -6l2 2l2 18l2 -15l2 4l2 1l2 4l2 1l2 59l2 -62l2 -2l2 -8l2 18l2 72l2 -28l2 -14l2 -36l2 66l2 -40l2 -22l2 8l2 28l2 62l2 -62l2 16l2 0l2 46l2 0H959 V200 Z"/>
<path fill="#af0000" d="M151 200V200l3 0l2 0l2 0l2 0l2 0l2 0l2 0l2 0l2 0l2 0l2 0l2 0l2 0l2 0l2 0l2 0l2 0l2 0l2 0l2 0l2 0l2 0l2 0l2 0l2 0l2 0l2 0l2 0l2 0l2 0l2 0l2 0l2 0l2 0l2 0l2 0l2 0l2 0l2 0l2 0l2 0l2 0l2 0l2 0l2 0l2 0l2 0l2 0l2 0l2 0l2 0l2 0l2 0l2 0l2 0l2 0l2 0l2 0l2 0l2 0l2 0l2 0l2 0l2 0l2 0l2 0l2 0l2 0l2 0l2 0l2 0l2 0l2 0l2 0l2 0l2 0l2 0l2 0l2 0l2 0l2 0l2 0l2 0l2 0l2 0l2 0l2 0l2 0l2 0l2 0l2 0l2 0l2 0l2 0l2 0l2 0l2 0l2 0l2 0l2 0l2 0l2 0l2 0l2 0l2 0l2 0l2 0l2 0l2 0l2 0l2 0l2 0l2 0l2 0l2 0l2 0l2 0l2 0l2 0l2 0l2 0l2 0l2 0l2 0l2 0l2 0l2 0l2 0l2 0l2 0l2 0l2 0l2 0l2 0l2 0l2 0l2 0l2 0l2 0l2 0l2 0l2 0l2 0l2 0l2 0l2 0l2 0l2 0l2 0l2 0l2 0l2 0l2 0l2 0l2 0l2 0l2 0l2 0l2 0l2 0l2 0l2 0l2 0l2 0l2 0l2 0l2 0l2 0l2 0l2 0l2 0l2 0l2 0l2 0l2 0l2 0l2 0l2 0l2 0l2 0l2 0l2 0l2 0l2 0l2 0l2 0l2 0l2 0l2 0l2 0l2 0l2 0l2 0l2 0l2 0l2 0l2 0l2 0l2 0l2 -50l2 50l2 -49l2 49l2 0l2 -54l2 -43l2 97l2 0l2 0l2 0l2 0l2 0l2 0l2 0l2 -96l2 96l2 0l2 0l2 0l2 -32l2 32l2 0l2 0l2 -101l2 101l2 0l2 -98l2 68l2 30l2 -86l2 86l2 0l2 0l2 -68l2 40l2 -43l2 -19l2 -7l2 97l2 0l2 -42l2 -25l2 -31l2 -4l2 68l2 34l2 -28l2 28l2 -100l2 58l2 18l2 -44l2 68l2 -22l2 -14l2 -43l2 -19l2 2l2 -8l2 38l2 -18l2 40l2 -36l2 80l2 -32l2 -17l2 -23l2 43l2 -41l2 18l2 9l2 -57l2 0l2 54l2 -10l2 -44l2 22l2 36l2 -60l2 58l2 14l2 -64l2 56l2 -50l2 -8l2 2l2 58l2 -64l2 -2l2 0l2 2l2 45l2 10l2 9l2 -44l2 9l2 -40l2 18l2 27l2 -44l2 49l2 -39l2 -2l2 2l2 62l2 -34l2 -34l2 0l2 -2l2 6l2 74l2 -66l2 94l2 -74l2 -22l2 -6l2 -6l2 6l2 -1l2 7l2 -1l2 -8l2 105l2 -70l2 -29l2 74l2 -73l2 -10l2 8l2 4l2 -8l2 48l2 -30l2 37l2 -57l2 22l2 -24l2 10l2 -12l2 62l2 -54l2 6l2 -8l2 55l2 -39l2 -16l2 17l2 -8l2 -6l2 43l2 26l2 -72l2 3l2 101l2 -108l2 4l2 9l2 95l2 -88l2 -18l2 2l2 9l2 -1l2 2l2 -7l2 5l2 8l2 -10l2 -7l2 105l2 -88l2 0l2 -4l2 -10l2 -4l2 2l2 104l2 -101l2 47l2 16l2 38l2 -46l2 46l2 -30l2 -45l2 9l2 66l2 0l2 0l2 0l2 -32l2 32l2 0l2 -22l2 22l2 0l2 0l2 0l2 0l2 0l2 0l2 0H959 V200 Z"/>
<path fill="#8f0000" d="M151 200V200l3 0l2 0l2 0l2 0l2 0l2 0l2 0l2 0l2 0l2 0l2 0l2 0l2 0l2 0l2 0l2 0l2 0l2 0l2 0l2 0l2 0l2 0l2 0l2 0l2 0l2 0l2 0l2 0l2 0l2 0l2 0l2 0l2 0l2 0l2 0l2 0l2 0l2 0l2 0l2 0l2 0l2 0l2 0l2 0l2 0l2 0l2 0l2 0l2 0l2 0l2 0l2 0l2 0l2 0l2 0l2 0l2 0l2 0l2 0l2 0l2 0l2 0l2 0l2 0l2 0l2 0l2 0l2 0l2 0l2 0l2 0l2 0l2 0l2 0l2 0l2 0l2 0l2 0l2 0l2 0l2 0l2 0l2 0l2 0l2 0l2 0l2 0l2 0l2 0l2 0l2 0l2 0l2 0l2 0l2 0l2 0l2 0l2 0l2 0l2 0l2 0l2 0l2 0l2 0l2 0l2 0l2 0l2 0l2 0l2 0l2 0l2 0l2 0l2 0l2 0l2 0l2 0l2 0l2 0l2 0l2 0l2 0l2 0l2 0l2 0l2 0l2 0l2 0l2 0l2 0l2 0l2 0l2 0l2 0l2 0l2 0l2 0l2 0l2 0l2 0l2 0l2 0l2 0l2 0l2 0l2 0l2 0l2 0l2 0l2 0l2 0l2 0l2 0l2 0l2 0l2 0l2 0l2 0l2 0l2 0l2 0l2 0l2 0l2 0l2 0l2 0l2 0l2 0l2 0l2 0l2 0l2 0l2 0l2 0l2 0l2 0l2 0l2 0l2 0l2 0l2 0l2 0l2 0l2 0l2 0l2 0l2 0l2 0l2 0l2 0l2 0l2 0l2 0l2 0l2 0l2 0l2 0l2 0l2 0l2 0l2 0l2 0l2 0l2 0l2 0l2 0l2 0l2 0l2 0l2 0l2 0l2 0l2 0l2 0l2 0l2 0l2 0l2 0l2 0l2 0l2 0l2 0l2 0l2 0l2 0l2 0l2 0l2 0l2 0l2 0l2 0l2 0l2 0l2 0l2 0l2 0l2 0l2 0l2 0l2 0l2 0l2 0l2 0l2 -28l2 28l2 0l2 0l2 0l2 0l2 0l2 0l2 0l2 0l2 0l2 0l2 0l2 0l2 0l2 0l2 0l2 0l2 0l2 0l2 0l2 0l2 0l2 0l2 0l2 0l2 0l2 0l2 -24l2 24l2 0l2 0l2 0l2 0l2 0l2 -25l2 25l2 0l2 0l2 0l2 0l2 0l2 0l2 0l2 0l2 0l2 -52l2 52l2 0l2 0l2 0l2 0l2 0l2 -40l2 40l2 0l2 -52l2 52l2 0l2 0l2 0l2 0l2 0l2 -44l2 -10l2 -7l2 12l2 49l2 0l2 0l2 0l2 0l2 0l2 -66l2 36l2 30l2 0l2 -22l2 22l2 0l2 0l2 0l2 0l2 0l2 -64l2 64l2 0l2 0l2 0l2 0l2 0l2 0l2 0l2 -48l2 48l2 -28l2 28l2 0l2 0l2 0l2 0l2 0l2 0l2 0l2 0l2 0l2 0l2 0l2 0l2 0l2 0l2 -28l2 28l2 0l2 0l2 0l2 -30l2 -10l2 40l2 0l2 0l2 -27l2 27l2 0l2 0l2 0l2 0l2 0l2 0l2 0l2 0l2 0l2 0l2 0l2 0l2 0l2 0l2 0l2 0l2 0l2 0l2 0l2 0l2 0l2 0l2 0l2 0l2 0l2 0l2 0l2 0l2 0l2 0l2 0l2 0l2 0l2 0l2 0l2 0H959 V200 Z"/>
<use href="#mask"/>
<rect x="150" y="8" width="810" height="1" fill="#000"/>
<circle shape-rendering="auto" fill="#ff2400" cx="166.5" cy="86" r="2.5"/><circle shape-rendering="auto" fill="#ff2400" cx="173.5" cy="91.5" r="2.5"/><circle shape-rendering="auto" fill="#ff2400" cx="240.5" cy="114" r="2.2"/><circle shape-rendering="auto" fill="#ff2400" cx="248" cy="111" r="1.8"/><circle shape-rendering="auto" fill="#ff2400" cx="267.5" cy="114" r="2"/><circle shape-rendering="auto" fill="#d10000" cx="723.5" cy="137" r="2"/>
</g>
<g transform="translate(0,0)" fill="#fff"><rect x="92" y="11" width="1" height="164"/><rect x="993" y="11" width="1" height="164"/><rect x="88" y="11" width="5" height="1"/><rect x="993" y="11" width="6" height="1"/><rect x="90" y="19" width="3" height="1"/><rect x="993" y="19" width="4" height="1"/><rect x="90" y="27" width="3" height="1"/><rect x="993" y="27" width="4" height="1"/><rect x="90" y="35" width="3" height="1"/><rect x="993" y="35" width="4" height="1"/><rect x="90" y="43" width="3" height="1"/><rect x="993" y="43" width="4" height="1"/><rect x="88" y="51" width="5" height="1"/><rect x="993" y="51" width="6" height="1"/><rect x="90" y="60" width="3" height="1"/><rect x="993" y="60" width="4" height="1"/><rect x="90" y="68" width="3" height="1"/><rect x="993" y="68" width="4" height="1"/><rect x="90" y="76" width="3" height="1"/><rect x="993" y="76" width="4" height="1"/><rect x="90" y="84" width="3" height="1"/><rect x="993" y="84" width="4" height="1"/><rect x="88" y="92" width="5" height="1"/><rect x="993" y="92" width="6" height="1"/><rect x="90" y="101" width="3" height="1"/><rect x="993" y="101" width="4" height="1"/><rect x="90" y="109" width="3" height="1"/><rect x="993" y="109" width="4" height="1"/><rect x="90" y="117" width="3" height="1"/><rect x="993" y="117" width="4" height="1"/><rect x="90" y="125" width="3" height="1"/><rect x="993" y="125" width="4" height="1"/><rect x="88" y="133" width="5" height="1"/><rect x="993" y="133" width="6" height="1"/><rect x="90" y="142" width="3" height="1"/><rect x="993" y="142" width="4" height="1"/><rect x="90" y="150" width="3" height="1"/><rect x="993" y="150" width="4" height="1"/><rect x="90" y="158" width="3" height="1"/><rect x="993" y="158" width="4" height="1"/><rect x="90" y="166" width="3" height="1"/><rect x="993" y="166" width="4" height="1"/><rect x="88" y="174" width="5" height="1"/><rect x="993" y="174" width="6" height="1"/><rect x="92" y="191" width="902" height="1"/><rect x="92" y="192" width="1" height="3"/><rect x="166" y="192" width="1" height="3"/><rect x="257" y="192" width="1" height="3"/><rect x="349" y="192" width="1" height="3"/><rect x="441" y="192" width="1" height="3"/><rect x="533" y="192" width="1" height="3"/><rect x="625" y="192" width="1" height="3"/><rect x="644" y="192" width="1" height="3"/><rect x="717" y="192" width="1" height="3"/><rect x="809" y="192" width="1" height="3"/><rect x="901" y="192" width="1" height="3"/><rect x="993" y="192" width="1" height="3"/></g>
<text x="84" y="20" text-anchor="end">0</text><text x="84" y="57" text-anchor="end">50</text><text x="84" y="98" text-anchor="end">100</text><text x="84" y="139" text-anchor="end">150</text><text x="84" y="175" text-anchor="end">200</text><text x="94.5" y="213.5" text-anchor="middle">1</text><text x="168.5" y="213.5" text-anchor="middle">5</text><text x="258" y="213.5" text-anchor="middle">10</text><text x="350" y="213.5" text-anchor="middle">15</text><text x="442" y="213.5" text-anchor="middle">20</text><text x="534" y="213.5" text-anchor="middle">25</text><text x="626" y="213.5" text-anchor="middle">30</text><text x="719.5" y="213.5" text-anchor="middle">5</text><text x="810" y="213.5" text-anchor="middle">10</text><text x="902" y="213.5" text-anchor="middle">15</text><text x="994" y="213.5" text-anchor="middle">20</text><text x="92.5" y="226.5" text-anchor="middle">Sep</text><text x="644.5" y="226.5" text-anchor="middle">Oct</text><text transform="translate(50.5,93.25) rotate(-90)" text-anchor="middle">Pressure (dbar)</text><rect x="120" y="118" width="242" height="12" fill="url(#jet)"/><g fill="#fff"><rect x="119" y="117" width="244" height="1"/><rect x="119" y="128" width="244" height="1"/><rect x="119" y="117" width="1" height="12"/><rect x="362" y="117" width="1" height="12"/><rect x="120" y="129" width="1" height="2"/><rect x="134" y="129" width="1" height="2"/><rect x="149" y="129" width="1" height="4"/><rect x="164" y="129" width="1" height="2"/><rect x="178" y="129" width="1" height="2"/><rect x="193" y="129" width="1" height="2"/><rect x="208" y="129" width="1" height="2"/><rect x="223" y="129" width="1" height="4"/><rect x="237" y="129" width="1" height="2"/><rect x="252" y="129" width="1" height="2"/><rect x="267" y="129" width="1" height="2"/><rect x="282" y="129" width="1" height="2"/><rect x="296" y="129" width="1" height="4"/><rect x="311" y="129" width="1" height="2"/><rect x="326" y="129" width="1" height="2"/><rect x="340" y="129" width="1" height="2"/><rect x="355" y="129" width="1" height="2"/></g><text x="149.46" y="151.5" text-anchor="middle">5</text><text x="223.11" y="151.5" text-anchor="middle">10</text><text x="296.76" y="151.5" text-anchor="middle">15</text><text x="241" y="167.8" text-anchor="middle">Temperature (&#176;C)</text>
<g transform="translate(0,253)" fill="#fff"><rect x="92" y="11" width="1" height="164"/><rect x="993" y="11" width="1" height="164"/><rect x="88" y="11" width="5" height="1"/><rect x="993" y="11" width="6" height="1"/><rect x="90" y="19" width="3" height="1"/><rect x="993" y="19" width="4" height="1"/><rect x="90" y="27" width="3" height="1"/><rect x="993" y="27" width="4" height="1"/><rect x="90" y="35" width="3" height="1"/><rect x="993" y="35" width="4" height="1"/><rect x="90" y="43" width="3" height="1"/><rect x="993" y="43" width="4" height="1"/><rect x="88" y="51" width="5" height="1"/><rect x="993" y="51" width="6" height="1"/><rect x="90" y="60" width="3" height="1"/><rect x="993" y="60" width="4" height="1"/><rect x="90" y="68" width="3" height="1"/><rect x="993" y="68" width="4" height="1"/><rect x="90" y="76" width="3" height="1"/><rect x="993" y="76" width="4" height="1"/><rect x="90" y="84" width="3" height="1"/><rect x="993" y="84" width="4" height="1"/><rect x="88" y="92" width="5" height="1"/><rect x="993" y="92" width="6" height="1"/><rect x="90" y="101" width="3" height="1"/><rect x="993" y="101" width="4" height="1"/><rect x="90" y="109" width="3" height="1"/><rect x="993" y="109" width="4" height="1"/><rect x="90" y="117" width="3" height="1"/><rect x="993" y="117" width="4" height="1"/><rect x="90" y="125" width="3" height="1"/><rect x="993" y="125" width="4" height="1"/><rect x="88" y="133" width="5" height="1"/><rect x="993" y="133" width="6" height="1"/><rect x="90" y="142" width="3" height="1"/><rect x="993" y="142" width="4" height="1"/><rect x="90" y="150" width="3" height="1"/><rect x="993" y="150" width="4" height="1"/><rect x="90" y="158" width="3" height="1"/><rect x="993" y="158" width="4" height="1"/><rect x="90" y="166" width="3" height="1"/><rect x="993" y="166" width="4" height="1"/><rect x="88" y="174" width="5" height="1"/><rect x="993" y="174" width="6" height="1"/><rect x="92" y="191" width="902" height="1"/><rect x="92" y="192" width="1" height="3"/><rect x="166" y="192" width="1" height="3"/><rect x="257" y="192" width="1" height="3"/><rect x="349" y="192" width="1" height="3"/><rect x="441" y="192" width="1" height="3"/><rect x="533" y="192" width="1" height="3"/><rect x="625" y="192" width="1" height="3"/><rect x="644" y="192" width="1" height="3"/><rect x="717" y="192" width="1" height="3"/><rect x="809" y="192" width="1" height="3"/><rect x="901" y="192" width="1" height="3"/><rect x="993" y="192" width="1" height="3"/></g>
<text x="84" y="273" text-anchor="end">0</text><text x="84" y="310" text-anchor="end">50</text><text x="84" y="351" text-anchor="end">100</text><text x="84" y="392" text-anchor="end">150</text><text x="84" y="428" text-anchor="end">200</text><text x="94.5" y="466.5" text-anchor="middle">1</text><text x="168.5" y="466.5" text-anchor="middle">5</text><text x="258" y="466.5" text-anchor="middle">10</text><text x="350" y="466.5" text-anchor="middle">15</text><text x="442" y="466.5" text-anchor="middle">20</text><text x="534" y="466.5" text-anchor="middle">25</text><text x="626" y="466.5" text-anchor="middle">30</text><text x="719.5" y="466.5" text-anchor="middle">5</text><text x="810" y="466.5" text-anchor="middle">10</text><text x="902" y="466.5" text-anchor="middle">15</text><text x="994" y="466.5" text-anchor="middle">20</text><text x="92.5" y="479.5" text-anchor="middle">Sep</text><text x="644.5" y="479.5" text-anchor="middle">Oct</text><text transform="translate(50.5,346.25) rotate(-90)" text-anchor="middle">Pressure (dbar)</text><rect x="120" y="371" width="242" height="12" fill="url(#jet)"/><g fill="#fff"><rect x="119" y="370" width="244" height="1"/><rect x="119" y="381" width="244" height="1"/><rect x="119" y="370" width="1" height="12"/><rect x="362" y="370" width="1" height="12"/><rect x="119" y="382" width="1" height="4"/><rect x="128" y="382" width="1" height="2"/><rect x="136" y="382" width="1" height="2"/><rect x="144" y="382" width="1" height="2"/><rect x="152" y="382" width="1" height="2"/><rect x="160" y="382" width="1" height="4"/><rect x="168" y="382" width="1" height="2"/><rect x="176" y="382" width="1" height="2"/><rect x="184" y="382" width="1" height="2"/><rect x="192" y="382" width="1" height="2"/><rect x="200" y="382" width="1" height="4"/><rect x="208" y="382" width="1" height="2"/><rect x="217" y="382" width="1" height="2"/><rect x="225" y="382" width="1" height="2"/><rect x="233" y="382" width="1" height="2"/><rect x="241" y="382" width="1" height="4"/><rect x="249" y="382" width="1" height="2"/><rect x="257" y="382" width="1" height="2"/><rect x="265" y="382" width="1" height="2"/><rect x="273" y="382" width="1" height="2"/><rect x="281" y="382" width="1" height="4"/><rect x="290" y="382" width="1" height="2"/><rect x="298" y="382" width="1" height="2"/><rect x="306" y="382" width="1" height="2"/><rect x="314" y="382" width="1" height="2"/><rect x="322" y="382" width="1" height="4"/><rect x="330" y="382" width="1" height="2"/><rect x="338" y="382" width="1" height="2"/><rect x="346" y="382" width="1" height="2"/><rect x="354" y="382" width="1" height="2"/><rect x="362" y="382" width="1" height="4"/></g><text x="119.9" y="404.5" text-anchor="middle">31.0</text><text x="160.4" y="404.5" text-anchor="middle">31.5</text><text x="200.9" y="404.5" text-anchor="middle">32.0</text><text x="241.4" y="404.5" text-anchor="middle">32.5</text><text x="281.9" y="404.5" text-anchor="middle">33.0</text><text x="322.4" y="404.5" text-anchor="middle">33.5</text><text x="362.9" y="404.5" text-anchor="middle">34.0</text><text x="241" y="420.8" text-anchor="middle">Salinity (PSU)</text>
<g transform="translate(0,506)" fill="#fff"><rect x="92" y="11" width="1" height="164"/><rect x="993" y="11" width="1" height="164"/><rect x="88" y="11" width="5" height="1"/><rect x="993" y="11" width="6" height="1"/><rect x="90" y="19" width="3" height="1"/><rect x="993" y="19" width="4" height="1"/><rect x="90" y="27" width="3" height="1"/><rect x="993" y="27" width="4" height="1"/><rect x="90" y="35" width="3" height="1"/><rect x="993" y="35" width="4" height="1"/><rect x="90" y="43" width="3" height="1"/><rect x="993" y="43" width="4" height="1"/><rect x="88" y="51" width="5" height="1"/><rect x="993" y="51" width="6" height="1"/><rect x="90" y="60" width="3" height="1"/><rect x="993" y="60" width="4" height="1"/><rect x="90" y="68" width="3" height="1"/><rect x="993" y="68" width="4" height="1"/><rect x="90" y="76" width="3" height="1"/><rect x="993" y="76" width="4" height="1"/><rect x="90" y="84" width="3" height="1"/><rect x="993" y="84" width="4" height="1"/><rect x="88" y="92" width="5" height="1"/><rect x="993" y="92" width="6" height="1"/><rect x="90" y="101" width="3" height="1"/><rect x="993" y="101" width="4" height="1"/><rect x="90" y="109" width="3" height="1"/><rect x="993" y="109" width="4" height="1"/><rect x="90" y="117" width="3" height="1"/><rect x="993" y="117" width="4" height="1"/><rect x="90" y="125" width="3" height="1"/><rect x="993" y="125" width="4" height="1"/><rect x="88" y="133" width="5" height="1"/><rect x="993" y="133" width="6" height="1"/><rect x="90" y="142" width="3" height="1"/><rect x="993" y="142" width="4" height="1"/><rect x="90" y="150" width="3" height="1"/><rect x="993" y="150" width="4" height="1"/><rect x="90" y="158" width="3" height="1"/><rect x="993" y="158" width="4" height="1"/><rect x="90" y="166" width="3" height="1"/><rect x="993" y="166" width="4" height="1"/><rect x="88" y="174" width="5" height="1"/><rect x="993" y="174" width="6" height="1"/><rect x="92" y="191" width="902" height="1"/><rect x="92" y="192" width="1" height="3"/><rect x="166" y="192" width="1" height="3"/><rect x="257" y="192" width="1" height="3"/><rect x="349" y="192" width="1" height="3"/><rect x="441" y="192" width="1" height="3"/><rect x="533" y="192" width="1" height="3"/><rect x="625" y="192" width="1" height="3"/><rect x="644" y="192" width="1" height="3"/><rect x="717" y="192" width="1" height="3"/><rect x="809" y="192" width="1" height="3"/><rect x="901" y="192" width="1" height="3"/><rect x="993" y="192" width="1" height="3"/></g>
<text x="84" y="526" text-anchor="end">0</text><text x="84" y="563" text-anchor="end">50</text><text x="84" y="604" text-anchor="end">100</text><text x="84" y="645" text-anchor="end">150</text><text x="84" y="681" text-anchor="end">200</text><text x="94.5" y="719.5" text-anchor="middle">1</text><text x="168.5" y="719.5" text-anchor="middle">5</text><text x="258" y="719.5" text-anchor="middle">10</text><text x="350" y="719.5" text-anchor="middle">15</text><text x="442" y="719.5" text-anchor="middle">20</text><text x="534" y="719.5" text-anchor="middle">25</text><text x="626" y="719.5" text-anchor="middle">30</text><text x="719.5" y="719.5" text-anchor="middle">5</text><text x="810" y="719.5" text-anchor="middle">10</text><text x="902" y="719.5" text-anchor="middle">15</text><text x="994" y="719.5" text-anchor="middle">20</text><text x="92.5" y="732.5" text-anchor="middle">Sep</text><text x="644.5" y="732.5" text-anchor="middle">Oct</text><text transform="translate(50.5,599.25) rotate(-90)" text-anchor="middle">Pressure (dbar)</text><rect x="120" y="625" width="242" height="12" fill="url(#jet)"/><g fill="#fff"><rect x="119" y="624" width="244" height="1"/><rect x="119" y="635" width="244" height="1"/><rect x="119" y="624" width="1" height="12"/><rect x="362" y="624" width="1" height="12"/><rect x="119" y="636" width="1" height="4"/><rect x="125" y="636" width="1" height="2"/><rect x="130" y="636" width="1" height="2"/><rect x="136" y="636" width="1" height="2"/><rect x="141" y="636" width="1" height="2"/><rect x="146" y="636" width="1" height="2"/><rect x="152" y="636" width="1" height="2"/><rect x="157" y="636" width="1" height="2"/><rect x="163" y="636" width="1" height="2"/><rect x="168" y="636" width="1" height="2"/><rect x="173" y="636" width="1" height="4"/><rect x="179" y="636" width="1" height="2"/><rect x="184" y="636" width="1" height="2"/><rect x="189" y="636" width="1" height="2"/><rect x="195" y="636" width="1" height="2"/><rect x="200" y="636" width="1" height="2"/><rect x="206" y="636" width="1" height="2"/><rect x="211" y="636" width="1" height="2"/><rect x="216" y="636" width="1" height="2"/><rect x="222" y="636" width="1" height="2"/><rect x="227" y="636" width="1" height="4"/><rect x="233" y="636" width="1" height="2"/><rect x="238" y="636" width="1" height="2"/><rect x="243" y="636" width="1" height="2"/><rect x="249" y="636" width="1" height="2"/><rect x="254" y="636" width="1" height="2"/><rect x="260" y="636" width="1" height="2"/><rect x="265" y="636" width="1" height="2"/><rect x="270" y="636" width="1" height="2"/><rect x="276" y="636" width="1" height="2"/><rect x="281" y="636" width="1" height="4"/><rect x="286" y="636" width="1" height="2"/><rect x="292" y="636" width="1" height="2"/><rect x="297" y="636" width="1" height="2"/><rect x="303" y="636" width="1" height="2"/><rect x="308" y="636" width="1" height="2"/><rect x="313" y="636" width="1" height="2"/><rect x="319" y="636" width="1" height="2"/><rect x="324" y="636" width="1" height="2"/><rect x="330" y="636" width="1" height="2"/><rect x="335" y="636" width="1" height="4"/><rect x="340" y="636" width="1" height="2"/><rect x="346" y="636" width="1" height="2"/><rect x="351" y="636" width="1" height="2"/><rect x="357" y="636" width="1" height="2"/><rect x="362" y="636" width="1" height="2"/></g><text x="119.9" y="657.5" text-anchor="middle">1022</text><text x="173.8" y="657.5" text-anchor="middle">1023</text><text x="227.7" y="657.5" text-anchor="middle">1024</text><text x="281.6" y="657.5" text-anchor="middle">1025</text><text x="335.5" y="657.5" text-anchor="middle">1026</text><text x="241" y="673.8" text-anchor="middle">Density (kg m<tspan dy="-5" font-size="9">-3</tspan><tspan dy="5">)</tspan></text>
</svg></body></html>
